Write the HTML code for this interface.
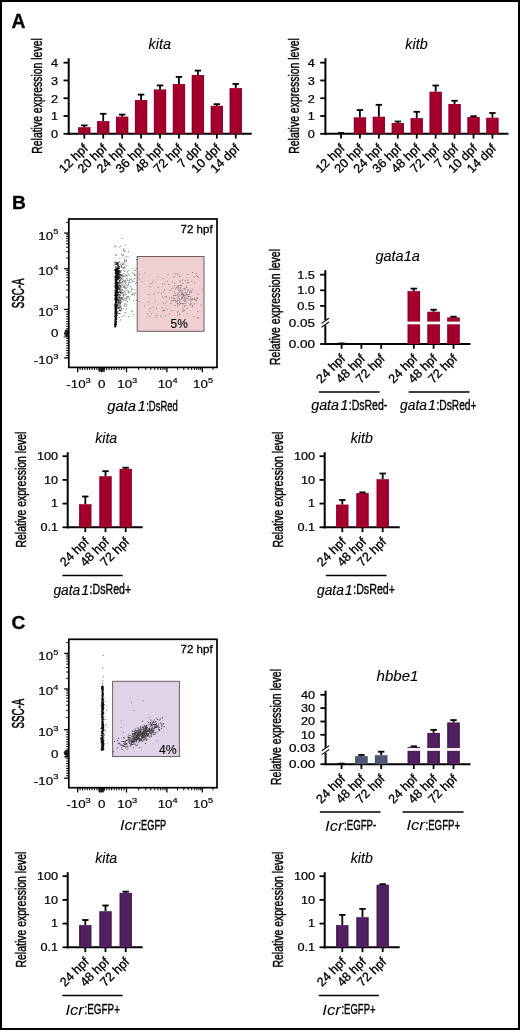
<!DOCTYPE html>
<html><head><meta charset="utf-8"><style>
html,body{margin:0;padding:0;background:#fff;}
svg{display:block;will-change:transform;}
text{font-family:"Liberation Sans", sans-serif;fill:#000;}
</style></head><body>
<svg width="520" height="1030" viewBox="0 0 520 1030">
<rect x="0" y="0" width="520" height="1030" fill="#fff"/>
<text x="11.5" y="27.6" font-size="19.4" stroke="#000" stroke-width="0.3" font-weight="bold">A</text><text x="12" y="209" font-size="19.2" stroke="#000" stroke-width="0.3" font-weight="bold">B</text><text x="11.6" y="629.3" font-size="19.2" stroke="#000" stroke-width="0.3" font-weight="bold">C</text><line x1="68.7" y1="58.2" x2="68.7" y2="134.8" stroke="#000" stroke-width="2"/><line x1="67.7" y1="133.8" x2="251.7" y2="133.8" stroke="#000" stroke-width="2"/><line x1="63.5" y1="133.8" x2="68.7" y2="133.8" stroke="#000" stroke-width="1.8"/><text transform="translate(58.1 138.2) scale(1.2 1)" font-size="10.6" text-anchor="end" stroke="#000" stroke-width="0.22">0</text><line x1="63.5" y1="116.02" x2="68.7" y2="116.02" stroke="#000" stroke-width="1.8"/><text transform="translate(58.1 120.42) scale(1.2 1)" font-size="10.6" text-anchor="end" stroke="#000" stroke-width="0.22">1</text><line x1="63.5" y1="98.24" x2="68.7" y2="98.24" stroke="#000" stroke-width="1.8"/><text transform="translate(58.1 102.64) scale(1.2 1)" font-size="10.6" text-anchor="end" stroke="#000" stroke-width="0.22">2</text><line x1="63.5" y1="80.46" x2="68.7" y2="80.46" stroke="#000" stroke-width="1.8"/><text transform="translate(58.1 84.86) scale(1.2 1)" font-size="10.6" text-anchor="end" stroke="#000" stroke-width="0.22">3</text><line x1="63.5" y1="62.68" x2="68.7" y2="62.68" stroke="#000" stroke-width="1.8"/><text transform="translate(58.1 67.08) scale(1.2 1)" font-size="10.6" text-anchor="end" stroke="#000" stroke-width="0.22">4</text><line x1="84.3" y1="133.8" x2="84.3" y2="138.6" stroke="#000" stroke-width="1.8"/><line x1="103.23" y1="133.8" x2="103.23" y2="138.6" stroke="#000" stroke-width="1.8"/><line x1="122.16" y1="133.8" x2="122.16" y2="138.6" stroke="#000" stroke-width="1.8"/><line x1="141.09" y1="133.8" x2="141.09" y2="138.6" stroke="#000" stroke-width="1.8"/><line x1="160.02" y1="133.8" x2="160.02" y2="138.6" stroke="#000" stroke-width="1.8"/><line x1="178.95" y1="133.8" x2="178.95" y2="138.6" stroke="#000" stroke-width="1.8"/><line x1="197.88" y1="133.8" x2="197.88" y2="138.6" stroke="#000" stroke-width="1.8"/><line x1="216.81" y1="133.8" x2="216.81" y2="138.6" stroke="#000" stroke-width="1.8"/><line x1="235.74" y1="133.8" x2="235.74" y2="138.6" stroke="#000" stroke-width="1.8"/><rect x="78.1" y="127.2" width="12.4" height="6.6" fill="#a3002e"/><line x1="79.1" y1="127.7" x2="79.1" y2="133.8" stroke="#8c0024" stroke-width="0.9"/><line x1="89.5" y1="127.7" x2="89.5" y2="133.8" stroke="#8c0024" stroke-width="0.9"/><line x1="84.3" y1="127.2" x2="84.3" y2="125.4" stroke="#000" stroke-width="1.8"/><line x1="81.1" y1="125.4" x2="87.5" y2="125.4" stroke="#000" stroke-width="1.8"/><rect x="97.03" y="121.1" width="12.4" height="12.7" fill="#a3002e"/><line x1="98.03" y1="121.6" x2="98.03" y2="133.8" stroke="#8c0024" stroke-width="0.9"/><line x1="108.43" y1="121.6" x2="108.43" y2="133.8" stroke="#8c0024" stroke-width="0.9"/><line x1="103.23" y1="121.1" x2="103.23" y2="113.8" stroke="#000" stroke-width="1.8"/><line x1="100.03" y1="113.8" x2="106.43" y2="113.8" stroke="#000" stroke-width="1.8"/><rect x="115.96" y="116.6" width="12.4" height="17.2" fill="#a3002e"/><line x1="116.96" y1="117.1" x2="116.96" y2="133.8" stroke="#8c0024" stroke-width="0.9"/><line x1="127.36" y1="117.1" x2="127.36" y2="133.8" stroke="#8c0024" stroke-width="0.9"/><line x1="122.16" y1="116.6" x2="122.16" y2="114.6" stroke="#000" stroke-width="1.8"/><line x1="118.96" y1="114.6" x2="125.36" y2="114.6" stroke="#000" stroke-width="1.8"/><rect x="134.89" y="100" width="12.4" height="33.8" fill="#a3002e"/><line x1="135.89" y1="100.5" x2="135.89" y2="133.8" stroke="#8c0024" stroke-width="0.9"/><line x1="146.29" y1="100.5" x2="146.29" y2="133.8" stroke="#8c0024" stroke-width="0.9"/><line x1="141.09" y1="100" x2="141.09" y2="94.6" stroke="#000" stroke-width="1.8"/><line x1="137.89" y1="94.6" x2="144.29" y2="94.6" stroke="#000" stroke-width="1.8"/><rect x="153.82" y="89.4" width="12.4" height="44.4" fill="#a3002e"/><line x1="154.82" y1="89.9" x2="154.82" y2="133.8" stroke="#8c0024" stroke-width="0.9"/><line x1="165.22" y1="89.9" x2="165.22" y2="133.8" stroke="#8c0024" stroke-width="0.9"/><line x1="160.02" y1="89.4" x2="160.02" y2="85.4" stroke="#000" stroke-width="1.8"/><line x1="156.82" y1="85.4" x2="163.22" y2="85.4" stroke="#000" stroke-width="1.8"/><rect x="172.75" y="84" width="12.4" height="49.8" fill="#a3002e"/><line x1="173.75" y1="84.5" x2="173.75" y2="133.8" stroke="#8c0024" stroke-width="0.9"/><line x1="184.15" y1="84.5" x2="184.15" y2="133.8" stroke="#8c0024" stroke-width="0.9"/><line x1="178.95" y1="84" x2="178.95" y2="76.9" stroke="#000" stroke-width="1.8"/><line x1="175.75" y1="76.9" x2="182.15" y2="76.9" stroke="#000" stroke-width="1.8"/><rect x="191.68" y="75" width="12.4" height="58.8" fill="#a3002e"/><line x1="192.68" y1="75.5" x2="192.68" y2="133.8" stroke="#8c0024" stroke-width="0.9"/><line x1="203.08" y1="75.5" x2="203.08" y2="133.8" stroke="#8c0024" stroke-width="0.9"/><line x1="197.88" y1="75" x2="197.88" y2="70.6" stroke="#000" stroke-width="1.8"/><line x1="194.68" y1="70.6" x2="201.08" y2="70.6" stroke="#000" stroke-width="1.8"/><rect x="210.61" y="105.8" width="12.4" height="28" fill="#a3002e"/><line x1="211.61" y1="106.3" x2="211.61" y2="133.8" stroke="#8c0024" stroke-width="0.9"/><line x1="222.01" y1="106.3" x2="222.01" y2="133.8" stroke="#8c0024" stroke-width="0.9"/><line x1="216.81" y1="105.8" x2="216.81" y2="104.2" stroke="#000" stroke-width="1.8"/><line x1="213.61" y1="104.2" x2="220.01" y2="104.2" stroke="#000" stroke-width="1.8"/><rect x="229.54" y="88.1" width="12.4" height="45.7" fill="#a3002e"/><line x1="230.54" y1="88.6" x2="230.54" y2="133.8" stroke="#8c0024" stroke-width="0.9"/><line x1="240.94" y1="88.6" x2="240.94" y2="133.8" stroke="#8c0024" stroke-width="0.9"/><line x1="235.74" y1="88.1" x2="235.74" y2="84" stroke="#000" stroke-width="1.8"/><line x1="232.54" y1="84" x2="238.94" y2="84" stroke="#000" stroke-width="1.8"/><text transform="translate(88.7 149) rotate(-45)" font-size="12.6" stroke="#000" stroke-width="0.3" text-anchor="end">12 hpf</text><text transform="translate(107.63 149) rotate(-45)" font-size="12.6" stroke="#000" stroke-width="0.3" text-anchor="end">20 hpf</text><text transform="translate(126.56 149) rotate(-45)" font-size="12.6" stroke="#000" stroke-width="0.3" text-anchor="end">24 hpf</text><text transform="translate(145.49 149) rotate(-45)" font-size="12.6" stroke="#000" stroke-width="0.3" text-anchor="end">36 hpf</text><text transform="translate(164.42 149) rotate(-45)" font-size="12.6" stroke="#000" stroke-width="0.3" text-anchor="end">48 hpf</text><text transform="translate(183.35 149) rotate(-45)" font-size="12.6" stroke="#000" stroke-width="0.3" text-anchor="end">72 hpf</text><text transform="translate(202.28 149) rotate(-45)" font-size="12.6" stroke="#000" stroke-width="0.3" text-anchor="end">7 dpf</text><text transform="translate(221.21 149) rotate(-45)" font-size="12.6" stroke="#000" stroke-width="0.3" text-anchor="end">10 dpf</text><text transform="translate(240.14 149) rotate(-45)" font-size="12.6" stroke="#000" stroke-width="0.3" text-anchor="end">14 dpf</text><text x="148.6" y="48.7" font-size="14.4" stroke="#000" stroke-width="0.1" font-style="italic" textLength="22.4" lengthAdjust="spacingAndGlyphs">kita</text><text transform="translate(42.2 153.8) rotate(-90)" font-size="14.2" stroke="#000" stroke-width="0.42" textLength="115.6" lengthAdjust="spacingAndGlyphs">Relative expression level</text><line x1="325.4" y1="58.2" x2="325.4" y2="134.8" stroke="#000" stroke-width="2"/><line x1="324.4" y1="133.8" x2="508.4" y2="133.8" stroke="#000" stroke-width="2"/><line x1="320.2" y1="133.8" x2="325.4" y2="133.8" stroke="#000" stroke-width="1.8"/><text transform="translate(314.8 138.2) scale(1.2 1)" font-size="10.6" text-anchor="end" stroke="#000" stroke-width="0.22">0</text><line x1="320.2" y1="116.02" x2="325.4" y2="116.02" stroke="#000" stroke-width="1.8"/><text transform="translate(314.8 120.42) scale(1.2 1)" font-size="10.6" text-anchor="end" stroke="#000" stroke-width="0.22">1</text><line x1="320.2" y1="98.24" x2="325.4" y2="98.24" stroke="#000" stroke-width="1.8"/><text transform="translate(314.8 102.64) scale(1.2 1)" font-size="10.6" text-anchor="end" stroke="#000" stroke-width="0.22">2</text><line x1="320.2" y1="80.46" x2="325.4" y2="80.46" stroke="#000" stroke-width="1.8"/><text transform="translate(314.8 84.86) scale(1.2 1)" font-size="10.6" text-anchor="end" stroke="#000" stroke-width="0.22">3</text><line x1="320.2" y1="62.68" x2="325.4" y2="62.68" stroke="#000" stroke-width="1.8"/><text transform="translate(314.8 67.08) scale(1.2 1)" font-size="10.6" text-anchor="end" stroke="#000" stroke-width="0.22">4</text><line x1="341" y1="133.8" x2="341" y2="138.6" stroke="#000" stroke-width="1.8"/><line x1="359.93" y1="133.8" x2="359.93" y2="138.6" stroke="#000" stroke-width="1.8"/><line x1="378.86" y1="133.8" x2="378.86" y2="138.6" stroke="#000" stroke-width="1.8"/><line x1="397.79" y1="133.8" x2="397.79" y2="138.6" stroke="#000" stroke-width="1.8"/><line x1="416.72" y1="133.8" x2="416.72" y2="138.6" stroke="#000" stroke-width="1.8"/><line x1="435.65" y1="133.8" x2="435.65" y2="138.6" stroke="#000" stroke-width="1.8"/><line x1="454.58" y1="133.8" x2="454.58" y2="138.6" stroke="#000" stroke-width="1.8"/><line x1="473.51" y1="133.8" x2="473.51" y2="138.6" stroke="#000" stroke-width="1.8"/><line x1="492.44" y1="133.8" x2="492.44" y2="138.6" stroke="#000" stroke-width="1.8"/><line x1="337.8" y1="133" x2="344.2" y2="133" stroke="#000" stroke-width="1.8"/><rect x="353.73" y="117.3" width="12.4" height="16.5" fill="#a3002e"/><line x1="354.73" y1="117.8" x2="354.73" y2="133.8" stroke="#8c0024" stroke-width="0.9"/><line x1="365.13" y1="117.8" x2="365.13" y2="133.8" stroke="#8c0024" stroke-width="0.9"/><line x1="359.93" y1="117.3" x2="359.93" y2="110" stroke="#000" stroke-width="1.8"/><line x1="356.73" y1="110" x2="363.13" y2="110" stroke="#000" stroke-width="1.8"/><rect x="372.66" y="116.7" width="12.4" height="17.1" fill="#a3002e"/><line x1="373.66" y1="117.2" x2="373.66" y2="133.8" stroke="#8c0024" stroke-width="0.9"/><line x1="384.06" y1="117.2" x2="384.06" y2="133.8" stroke="#8c0024" stroke-width="0.9"/><line x1="378.86" y1="116.7" x2="378.86" y2="104.8" stroke="#000" stroke-width="1.8"/><line x1="375.66" y1="104.8" x2="382.06" y2="104.8" stroke="#000" stroke-width="1.8"/><rect x="391.59" y="123" width="12.4" height="10.8" fill="#a3002e"/><line x1="392.59" y1="123.5" x2="392.59" y2="133.8" stroke="#8c0024" stroke-width="0.9"/><line x1="402.99" y1="123.5" x2="402.99" y2="133.8" stroke="#8c0024" stroke-width="0.9"/><line x1="397.79" y1="123" x2="397.79" y2="121.5" stroke="#000" stroke-width="1.8"/><line x1="394.59" y1="121.5" x2="400.99" y2="121.5" stroke="#000" stroke-width="1.8"/><rect x="410.52" y="118.1" width="12.4" height="15.7" fill="#a3002e"/><line x1="411.52" y1="118.6" x2="411.52" y2="133.8" stroke="#8c0024" stroke-width="0.9"/><line x1="421.92" y1="118.6" x2="421.92" y2="133.8" stroke="#8c0024" stroke-width="0.9"/><line x1="416.72" y1="118.1" x2="416.72" y2="111.8" stroke="#000" stroke-width="1.8"/><line x1="413.52" y1="111.8" x2="419.92" y2="111.8" stroke="#000" stroke-width="1.8"/><rect x="429.45" y="91.7" width="12.4" height="42.1" fill="#a3002e"/><line x1="430.45" y1="92.2" x2="430.45" y2="133.8" stroke="#8c0024" stroke-width="0.9"/><line x1="440.85" y1="92.2" x2="440.85" y2="133.8" stroke="#8c0024" stroke-width="0.9"/><line x1="435.65" y1="91.7" x2="435.65" y2="85.5" stroke="#000" stroke-width="1.8"/><line x1="432.45" y1="85.5" x2="438.85" y2="85.5" stroke="#000" stroke-width="1.8"/><rect x="448.38" y="104" width="12.4" height="29.8" fill="#a3002e"/><line x1="449.38" y1="104.5" x2="449.38" y2="133.8" stroke="#8c0024" stroke-width="0.9"/><line x1="459.78" y1="104.5" x2="459.78" y2="133.8" stroke="#8c0024" stroke-width="0.9"/><line x1="454.58" y1="104" x2="454.58" y2="100.8" stroke="#000" stroke-width="1.8"/><line x1="451.38" y1="100.8" x2="457.78" y2="100.8" stroke="#000" stroke-width="1.8"/><rect x="467.31" y="117" width="12.4" height="16.8" fill="#a3002e"/><line x1="468.31" y1="117.5" x2="468.31" y2="133.8" stroke="#8c0024" stroke-width="0.9"/><line x1="478.71" y1="117.5" x2="478.71" y2="133.8" stroke="#8c0024" stroke-width="0.9"/><line x1="473.51" y1="117" x2="473.51" y2="116.2" stroke="#000" stroke-width="1.8"/><line x1="470.31" y1="116.2" x2="476.71" y2="116.2" stroke="#000" stroke-width="1.8"/><rect x="486.24" y="117.7" width="12.4" height="16.1" fill="#a3002e"/><line x1="487.24" y1="118.2" x2="487.24" y2="133.8" stroke="#8c0024" stroke-width="0.9"/><line x1="497.64" y1="118.2" x2="497.64" y2="133.8" stroke="#8c0024" stroke-width="0.9"/><line x1="492.44" y1="117.7" x2="492.44" y2="113" stroke="#000" stroke-width="1.8"/><line x1="489.24" y1="113" x2="495.64" y2="113" stroke="#000" stroke-width="1.8"/><text transform="translate(345.4 149) rotate(-45)" font-size="12.6" stroke="#000" stroke-width="0.3" text-anchor="end">12 hpf</text><text transform="translate(364.33 149) rotate(-45)" font-size="12.6" stroke="#000" stroke-width="0.3" text-anchor="end">20 hpf</text><text transform="translate(383.26 149) rotate(-45)" font-size="12.6" stroke="#000" stroke-width="0.3" text-anchor="end">24 hpf</text><text transform="translate(402.19 149) rotate(-45)" font-size="12.6" stroke="#000" stroke-width="0.3" text-anchor="end">36 hpf</text><text transform="translate(421.12 149) rotate(-45)" font-size="12.6" stroke="#000" stroke-width="0.3" text-anchor="end">48 hpf</text><text transform="translate(440.05 149) rotate(-45)" font-size="12.6" stroke="#000" stroke-width="0.3" text-anchor="end">72 hpf</text><text transform="translate(458.98 149) rotate(-45)" font-size="12.6" stroke="#000" stroke-width="0.3" text-anchor="end">7 dpf</text><text transform="translate(477.91 149) rotate(-45)" font-size="12.6" stroke="#000" stroke-width="0.3" text-anchor="end">10 dpf</text><text transform="translate(496.84 149) rotate(-45)" font-size="12.6" stroke="#000" stroke-width="0.3" text-anchor="end">14 dpf</text><text x="405.3" y="48.7" font-size="14.4" stroke="#000" stroke-width="0.1" font-style="italic" textLength="22.4" lengthAdjust="spacingAndGlyphs">kitb</text><text transform="translate(299.3 153.8) rotate(-90)" font-size="14.2" stroke="#000" stroke-width="0.42" textLength="115.6" lengthAdjust="spacingAndGlyphs">Relative expression level</text><rect x="68.8" y="219" width="148.2" height="148.4" fill="none" stroke="#000" stroke-width="1.7"/><line x1="64.2" y1="357.9" x2="68.8" y2="357.9" stroke="#000" stroke-width="1.3"/><line x1="64.2" y1="333.5" x2="68.8" y2="333.5" stroke="#000" stroke-width="1.3"/><line x1="64.2" y1="309.4" x2="68.8" y2="309.4" stroke="#000" stroke-width="1.3"/><line x1="64.2" y1="268.7" x2="68.8" y2="268.7" stroke="#000" stroke-width="1.3"/><line x1="64.2" y1="233.1" x2="68.8" y2="233.1" stroke="#000" stroke-width="1.3"/><line x1="66.2" y1="331.09" x2="68.8" y2="331.09" stroke="#000" stroke-width="1"/><line x1="66.2" y1="335.94" x2="68.8" y2="335.94" stroke="#000" stroke-width="1"/><line x1="66.2" y1="328.68" x2="68.8" y2="328.68" stroke="#000" stroke-width="1"/><line x1="66.2" y1="338.38" x2="68.8" y2="338.38" stroke="#000" stroke-width="1"/><line x1="66.2" y1="326.27" x2="68.8" y2="326.27" stroke="#000" stroke-width="1"/><line x1="66.2" y1="340.82" x2="68.8" y2="340.82" stroke="#000" stroke-width="1"/><line x1="66.2" y1="323.86" x2="68.8" y2="323.86" stroke="#000" stroke-width="1"/><line x1="66.2" y1="343.26" x2="68.8" y2="343.26" stroke="#000" stroke-width="1"/><line x1="66.2" y1="321.45" x2="68.8" y2="321.45" stroke="#000" stroke-width="1"/><line x1="66.2" y1="345.7" x2="68.8" y2="345.7" stroke="#000" stroke-width="1"/><line x1="66.2" y1="319.04" x2="68.8" y2="319.04" stroke="#000" stroke-width="1"/><line x1="66.2" y1="348.14" x2="68.8" y2="348.14" stroke="#000" stroke-width="1"/><line x1="66.2" y1="316.63" x2="68.8" y2="316.63" stroke="#000" stroke-width="1"/><line x1="66.2" y1="350.58" x2="68.8" y2="350.58" stroke="#000" stroke-width="1"/><line x1="66.2" y1="314.22" x2="68.8" y2="314.22" stroke="#000" stroke-width="1"/><line x1="66.2" y1="353.02" x2="68.8" y2="353.02" stroke="#000" stroke-width="1"/><line x1="66.2" y1="311.81" x2="68.8" y2="311.81" stroke="#000" stroke-width="1"/><line x1="66.2" y1="355.46" x2="68.8" y2="355.46" stroke="#000" stroke-width="1"/><line x1="66.2" y1="297.15" x2="68.8" y2="297.15" stroke="#000" stroke-width="1"/><line x1="66.2" y1="257.98" x2="68.8" y2="257.98" stroke="#000" stroke-width="1"/><line x1="66.2" y1="289.98" x2="68.8" y2="289.98" stroke="#000" stroke-width="1"/><line x1="66.2" y1="251.71" x2="68.8" y2="251.71" stroke="#000" stroke-width="1"/><line x1="66.2" y1="284.9" x2="68.8" y2="284.9" stroke="#000" stroke-width="1"/><line x1="66.2" y1="247.27" x2="68.8" y2="247.27" stroke="#000" stroke-width="1"/><line x1="66.2" y1="280.95" x2="68.8" y2="280.95" stroke="#000" stroke-width="1"/><line x1="66.2" y1="243.82" x2="68.8" y2="243.82" stroke="#000" stroke-width="1"/><line x1="66.2" y1="277.73" x2="68.8" y2="277.73" stroke="#000" stroke-width="1"/><line x1="66.2" y1="241" x2="68.8" y2="241" stroke="#000" stroke-width="1"/><line x1="66.2" y1="275" x2="68.8" y2="275" stroke="#000" stroke-width="1"/><line x1="66.2" y1="238.61" x2="68.8" y2="238.61" stroke="#000" stroke-width="1"/><line x1="66.2" y1="272.64" x2="68.8" y2="272.64" stroke="#000" stroke-width="1"/><line x1="66.2" y1="236.55" x2="68.8" y2="236.55" stroke="#000" stroke-width="1"/><line x1="66.2" y1="270.56" x2="68.8" y2="270.56" stroke="#000" stroke-width="1"/><line x1="66.2" y1="234.73" x2="68.8" y2="234.73" stroke="#000" stroke-width="1"/><line x1="66.2" y1="222.38" x2="68.8" y2="222.38" stroke="#000" stroke-width="1"/><line x1="77.7" y1="367.4" x2="77.7" y2="372.2" stroke="#000" stroke-width="1.3"/><line x1="101.7" y1="367.4" x2="101.7" y2="372.2" stroke="#000" stroke-width="1.3"/><line x1="126.5" y1="367.4" x2="126.5" y2="372.2" stroke="#000" stroke-width="1.3"/><line x1="166.9" y1="367.4" x2="166.9" y2="372.2" stroke="#000" stroke-width="1.3"/><line x1="202.3" y1="367.4" x2="202.3" y2="372.2" stroke="#000" stroke-width="1.3"/><line x1="104.18" y1="367.4" x2="104.18" y2="370" stroke="#000" stroke-width="1"/><line x1="99.3" y1="367.4" x2="99.3" y2="370" stroke="#000" stroke-width="1"/><line x1="106.66" y1="367.4" x2="106.66" y2="370" stroke="#000" stroke-width="1"/><line x1="96.9" y1="367.4" x2="96.9" y2="370" stroke="#000" stroke-width="1"/><line x1="109.14" y1="367.4" x2="109.14" y2="370" stroke="#000" stroke-width="1"/><line x1="94.5" y1="367.4" x2="94.5" y2="370" stroke="#000" stroke-width="1"/><line x1="111.62" y1="367.4" x2="111.62" y2="370" stroke="#000" stroke-width="1"/><line x1="92.1" y1="367.4" x2="92.1" y2="370" stroke="#000" stroke-width="1"/><line x1="114.1" y1="367.4" x2="114.1" y2="370" stroke="#000" stroke-width="1"/><line x1="89.7" y1="367.4" x2="89.7" y2="370" stroke="#000" stroke-width="1"/><line x1="116.58" y1="367.4" x2="116.58" y2="370" stroke="#000" stroke-width="1"/><line x1="87.3" y1="367.4" x2="87.3" y2="370" stroke="#000" stroke-width="1"/><line x1="119.06" y1="367.4" x2="119.06" y2="370" stroke="#000" stroke-width="1"/><line x1="84.9" y1="367.4" x2="84.9" y2="370" stroke="#000" stroke-width="1"/><line x1="121.54" y1="367.4" x2="121.54" y2="370" stroke="#000" stroke-width="1"/><line x1="82.5" y1="367.4" x2="82.5" y2="370" stroke="#000" stroke-width="1"/><line x1="124.02" y1="367.4" x2="124.02" y2="370" stroke="#000" stroke-width="1"/><line x1="80.1" y1="367.4" x2="80.1" y2="370" stroke="#000" stroke-width="1"/><line x1="138.66" y1="367.4" x2="138.66" y2="370" stroke="#000" stroke-width="1"/><line x1="177.56" y1="367.4" x2="177.56" y2="370" stroke="#000" stroke-width="1"/><line x1="145.78" y1="367.4" x2="145.78" y2="370" stroke="#000" stroke-width="1"/><line x1="183.79" y1="367.4" x2="183.79" y2="370" stroke="#000" stroke-width="1"/><line x1="150.82" y1="367.4" x2="150.82" y2="370" stroke="#000" stroke-width="1"/><line x1="188.21" y1="367.4" x2="188.21" y2="370" stroke="#000" stroke-width="1"/><line x1="154.74" y1="367.4" x2="154.74" y2="370" stroke="#000" stroke-width="1"/><line x1="191.64" y1="367.4" x2="191.64" y2="370" stroke="#000" stroke-width="1"/><line x1="157.94" y1="367.4" x2="157.94" y2="370" stroke="#000" stroke-width="1"/><line x1="194.45" y1="367.4" x2="194.45" y2="370" stroke="#000" stroke-width="1"/><line x1="160.64" y1="367.4" x2="160.64" y2="370" stroke="#000" stroke-width="1"/><line x1="196.82" y1="367.4" x2="196.82" y2="370" stroke="#000" stroke-width="1"/><line x1="162.98" y1="367.4" x2="162.98" y2="370" stroke="#000" stroke-width="1"/><line x1="198.87" y1="367.4" x2="198.87" y2="370" stroke="#000" stroke-width="1"/><line x1="165.05" y1="367.4" x2="165.05" y2="370" stroke="#000" stroke-width="1"/><line x1="200.68" y1="367.4" x2="200.68" y2="370" stroke="#000" stroke-width="1"/><line x1="212.96" y1="367.4" x2="212.96" y2="370" stroke="#000" stroke-width="1"/><line x1="65.28" y1="330.1" x2="68.8" y2="330.1" stroke="#000" stroke-width="0.8"/><line x1="64.6" y1="330.78" x2="68.8" y2="330.78" stroke="#000" stroke-width="0.8"/><line x1="64.99" y1="331.46" x2="68.8" y2="331.46" stroke="#000" stroke-width="0.8"/><line x1="64.47" y1="332.14" x2="68.8" y2="332.14" stroke="#000" stroke-width="0.8"/><line x1="64.42" y1="332.82" x2="68.8" y2="332.82" stroke="#000" stroke-width="0.8"/><line x1="65.66" y1="333.5" x2="68.8" y2="333.5" stroke="#000" stroke-width="0.8"/><line x1="65.77" y1="334.18" x2="68.8" y2="334.18" stroke="#000" stroke-width="0.8"/><line x1="63.96" y1="334.86" x2="68.8" y2="334.86" stroke="#000" stroke-width="0.8"/><line x1="65.23" y1="335.54" x2="68.8" y2="335.54" stroke="#000" stroke-width="0.8"/><line x1="65.28" y1="336.22" x2="68.8" y2="336.22" stroke="#000" stroke-width="0.8"/><line x1="63.61" y1="336.9" x2="68.8" y2="336.9" stroke="#000" stroke-width="0.8"/><line x1="98.9" y1="367.4" x2="98.9" y2="371.34" stroke="#000" stroke-width="0.8"/><line x1="99.58" y1="367.4" x2="99.58" y2="372.07" stroke="#000" stroke-width="0.8"/><line x1="100.26" y1="367.4" x2="100.26" y2="371.35" stroke="#000" stroke-width="0.8"/><line x1="100.94" y1="367.4" x2="100.94" y2="371.68" stroke="#000" stroke-width="0.8"/><line x1="101.62" y1="367.4" x2="101.62" y2="370.7" stroke="#000" stroke-width="0.8"/><line x1="102.3" y1="367.4" x2="102.3" y2="371.67" stroke="#000" stroke-width="0.8"/><line x1="102.98" y1="367.4" x2="102.98" y2="372.14" stroke="#000" stroke-width="0.8"/><line x1="103.66" y1="367.4" x2="103.66" y2="371.45" stroke="#000" stroke-width="0.8"/><line x1="104.34" y1="367.4" x2="104.34" y2="371.88" stroke="#000" stroke-width="0.8"/><text transform="translate(58.3 239.5) scale(1.16 1)" font-size="11.5" text-anchor="end" stroke="#000" stroke-width="0.18">10<tspan font-size="8" dy="-5.3">5</tspan></text><text transform="translate(58.3 275) scale(1.16 1)" font-size="11.5" text-anchor="end" stroke="#000" stroke-width="0.18">10<tspan font-size="8" dy="-5.3">4</tspan></text><text transform="translate(58.3 315.7) scale(1.16 1)" font-size="11.5" text-anchor="end" stroke="#000" stroke-width="0.18">10<tspan font-size="8" dy="-5.3">3</tspan></text><text transform="translate(58.3 337.2) scale(1.16 1)" font-size="11.5" text-anchor="end" stroke="#000" stroke-width="0.18">0</text><text transform="translate(58.3 364.2) scale(1.16 1)" font-size="11.5" text-anchor="end" stroke="#000" stroke-width="0.18">-10<tspan font-size="8" dy="-5.3">3</tspan></text><text transform="translate(78.5 388) scale(1.16 1)" font-size="11.5" text-anchor="middle" stroke="#000" stroke-width="0.18">-10<tspan font-size="8" dy="-5.3">3</tspan></text><text transform="translate(127.3 388) scale(1.16 1)" font-size="11.5" text-anchor="middle" stroke="#000" stroke-width="0.18">10<tspan font-size="8" dy="-5.3">3</tspan></text><text transform="translate(167.7 388) scale(1.16 1)" font-size="11.5" text-anchor="middle" stroke="#000" stroke-width="0.18">10<tspan font-size="8" dy="-5.3">4</tspan></text><text transform="translate(203.1 388) scale(1.16 1)" font-size="11.5" text-anchor="middle" stroke="#000" stroke-width="0.18">10<tspan font-size="8" dy="-5.3">5</tspan></text><text transform="translate(101.8 388) scale(1.16 1)" font-size="11.5" text-anchor="middle" stroke="#000" stroke-width="0.18">0</text><text transform="translate(24.4 308.2) rotate(-90)" font-size="15.6" stroke="#000" stroke-width="0.55" textLength="29.8" lengthAdjust="spacingAndGlyphs">SSC-A</text><text x="180.6" y="232.6" font-size="11.4" stroke="#000" stroke-width="0.3" textLength="32" lengthAdjust="spacingAndGlyphs">72 hpf</text><rect x="137.2" y="256.5" width="66.8" height="74.8" fill="#eed0d3" stroke="#6a6060" stroke-width="1"/><rect x="68.8" y="639.3" width="148.2" height="148.4" fill="none" stroke="#000" stroke-width="1.7"/><line x1="64.2" y1="778.2" x2="68.8" y2="778.2" stroke="#000" stroke-width="1.3"/><line x1="64.2" y1="753.8" x2="68.8" y2="753.8" stroke="#000" stroke-width="1.3"/><line x1="64.2" y1="729.7" x2="68.8" y2="729.7" stroke="#000" stroke-width="1.3"/><line x1="64.2" y1="689" x2="68.8" y2="689" stroke="#000" stroke-width="1.3"/><line x1="64.2" y1="653.4" x2="68.8" y2="653.4" stroke="#000" stroke-width="1.3"/><line x1="66.2" y1="751.39" x2="68.8" y2="751.39" stroke="#000" stroke-width="1"/><line x1="66.2" y1="756.24" x2="68.8" y2="756.24" stroke="#000" stroke-width="1"/><line x1="66.2" y1="748.98" x2="68.8" y2="748.98" stroke="#000" stroke-width="1"/><line x1="66.2" y1="758.68" x2="68.8" y2="758.68" stroke="#000" stroke-width="1"/><line x1="66.2" y1="746.57" x2="68.8" y2="746.57" stroke="#000" stroke-width="1"/><line x1="66.2" y1="761.12" x2="68.8" y2="761.12" stroke="#000" stroke-width="1"/><line x1="66.2" y1="744.16" x2="68.8" y2="744.16" stroke="#000" stroke-width="1"/><line x1="66.2" y1="763.56" x2="68.8" y2="763.56" stroke="#000" stroke-width="1"/><line x1="66.2" y1="741.75" x2="68.8" y2="741.75" stroke="#000" stroke-width="1"/><line x1="66.2" y1="766" x2="68.8" y2="766" stroke="#000" stroke-width="1"/><line x1="66.2" y1="739.34" x2="68.8" y2="739.34" stroke="#000" stroke-width="1"/><line x1="66.2" y1="768.44" x2="68.8" y2="768.44" stroke="#000" stroke-width="1"/><line x1="66.2" y1="736.93" x2="68.8" y2="736.93" stroke="#000" stroke-width="1"/><line x1="66.2" y1="770.88" x2="68.8" y2="770.88" stroke="#000" stroke-width="1"/><line x1="66.2" y1="734.52" x2="68.8" y2="734.52" stroke="#000" stroke-width="1"/><line x1="66.2" y1="773.32" x2="68.8" y2="773.32" stroke="#000" stroke-width="1"/><line x1="66.2" y1="732.11" x2="68.8" y2="732.11" stroke="#000" stroke-width="1"/><line x1="66.2" y1="775.76" x2="68.8" y2="775.76" stroke="#000" stroke-width="1"/><line x1="66.2" y1="717.45" x2="68.8" y2="717.45" stroke="#000" stroke-width="1"/><line x1="66.2" y1="678.28" x2="68.8" y2="678.28" stroke="#000" stroke-width="1"/><line x1="66.2" y1="710.28" x2="68.8" y2="710.28" stroke="#000" stroke-width="1"/><line x1="66.2" y1="672.01" x2="68.8" y2="672.01" stroke="#000" stroke-width="1"/><line x1="66.2" y1="705.2" x2="68.8" y2="705.2" stroke="#000" stroke-width="1"/><line x1="66.2" y1="667.57" x2="68.8" y2="667.57" stroke="#000" stroke-width="1"/><line x1="66.2" y1="701.25" x2="68.8" y2="701.25" stroke="#000" stroke-width="1"/><line x1="66.2" y1="664.12" x2="68.8" y2="664.12" stroke="#000" stroke-width="1"/><line x1="66.2" y1="698.03" x2="68.8" y2="698.03" stroke="#000" stroke-width="1"/><line x1="66.2" y1="661.3" x2="68.8" y2="661.3" stroke="#000" stroke-width="1"/><line x1="66.2" y1="695.3" x2="68.8" y2="695.3" stroke="#000" stroke-width="1"/><line x1="66.2" y1="658.91" x2="68.8" y2="658.91" stroke="#000" stroke-width="1"/><line x1="66.2" y1="692.94" x2="68.8" y2="692.94" stroke="#000" stroke-width="1"/><line x1="66.2" y1="656.85" x2="68.8" y2="656.85" stroke="#000" stroke-width="1"/><line x1="66.2" y1="690.86" x2="68.8" y2="690.86" stroke="#000" stroke-width="1"/><line x1="66.2" y1="655.03" x2="68.8" y2="655.03" stroke="#000" stroke-width="1"/><line x1="66.2" y1="642.68" x2="68.8" y2="642.68" stroke="#000" stroke-width="1"/><line x1="77.7" y1="787.7" x2="77.7" y2="792.5" stroke="#000" stroke-width="1.3"/><line x1="101.7" y1="787.7" x2="101.7" y2="792.5" stroke="#000" stroke-width="1.3"/><line x1="126.5" y1="787.7" x2="126.5" y2="792.5" stroke="#000" stroke-width="1.3"/><line x1="166.9" y1="787.7" x2="166.9" y2="792.5" stroke="#000" stroke-width="1.3"/><line x1="202.3" y1="787.7" x2="202.3" y2="792.5" stroke="#000" stroke-width="1.3"/><line x1="104.18" y1="787.7" x2="104.18" y2="790.3" stroke="#000" stroke-width="1"/><line x1="99.3" y1="787.7" x2="99.3" y2="790.3" stroke="#000" stroke-width="1"/><line x1="106.66" y1="787.7" x2="106.66" y2="790.3" stroke="#000" stroke-width="1"/><line x1="96.9" y1="787.7" x2="96.9" y2="790.3" stroke="#000" stroke-width="1"/><line x1="109.14" y1="787.7" x2="109.14" y2="790.3" stroke="#000" stroke-width="1"/><line x1="94.5" y1="787.7" x2="94.5" y2="790.3" stroke="#000" stroke-width="1"/><line x1="111.62" y1="787.7" x2="111.62" y2="790.3" stroke="#000" stroke-width="1"/><line x1="92.1" y1="787.7" x2="92.1" y2="790.3" stroke="#000" stroke-width="1"/><line x1="114.1" y1="787.7" x2="114.1" y2="790.3" stroke="#000" stroke-width="1"/><line x1="89.7" y1="787.7" x2="89.7" y2="790.3" stroke="#000" stroke-width="1"/><line x1="116.58" y1="787.7" x2="116.58" y2="790.3" stroke="#000" stroke-width="1"/><line x1="87.3" y1="787.7" x2="87.3" y2="790.3" stroke="#000" stroke-width="1"/><line x1="119.06" y1="787.7" x2="119.06" y2="790.3" stroke="#000" stroke-width="1"/><line x1="84.9" y1="787.7" x2="84.9" y2="790.3" stroke="#000" stroke-width="1"/><line x1="121.54" y1="787.7" x2="121.54" y2="790.3" stroke="#000" stroke-width="1"/><line x1="82.5" y1="787.7" x2="82.5" y2="790.3" stroke="#000" stroke-width="1"/><line x1="124.02" y1="787.7" x2="124.02" y2="790.3" stroke="#000" stroke-width="1"/><line x1="80.1" y1="787.7" x2="80.1" y2="790.3" stroke="#000" stroke-width="1"/><line x1="138.66" y1="787.7" x2="138.66" y2="790.3" stroke="#000" stroke-width="1"/><line x1="177.56" y1="787.7" x2="177.56" y2="790.3" stroke="#000" stroke-width="1"/><line x1="145.78" y1="787.7" x2="145.78" y2="790.3" stroke="#000" stroke-width="1"/><line x1="183.79" y1="787.7" x2="183.79" y2="790.3" stroke="#000" stroke-width="1"/><line x1="150.82" y1="787.7" x2="150.82" y2="790.3" stroke="#000" stroke-width="1"/><line x1="188.21" y1="787.7" x2="188.21" y2="790.3" stroke="#000" stroke-width="1"/><line x1="154.74" y1="787.7" x2="154.74" y2="790.3" stroke="#000" stroke-width="1"/><line x1="191.64" y1="787.7" x2="191.64" y2="790.3" stroke="#000" stroke-width="1"/><line x1="157.94" y1="787.7" x2="157.94" y2="790.3" stroke="#000" stroke-width="1"/><line x1="194.45" y1="787.7" x2="194.45" y2="790.3" stroke="#000" stroke-width="1"/><line x1="160.64" y1="787.7" x2="160.64" y2="790.3" stroke="#000" stroke-width="1"/><line x1="196.82" y1="787.7" x2="196.82" y2="790.3" stroke="#000" stroke-width="1"/><line x1="162.98" y1="787.7" x2="162.98" y2="790.3" stroke="#000" stroke-width="1"/><line x1="198.87" y1="787.7" x2="198.87" y2="790.3" stroke="#000" stroke-width="1"/><line x1="165.05" y1="787.7" x2="165.05" y2="790.3" stroke="#000" stroke-width="1"/><line x1="200.68" y1="787.7" x2="200.68" y2="790.3" stroke="#000" stroke-width="1"/><line x1="212.96" y1="787.7" x2="212.96" y2="790.3" stroke="#000" stroke-width="1"/><line x1="65.09" y1="750.4" x2="68.8" y2="750.4" stroke="#000" stroke-width="0.8"/><line x1="64.61" y1="751.08" x2="68.8" y2="751.08" stroke="#000" stroke-width="0.8"/><line x1="64.12" y1="751.76" x2="68.8" y2="751.76" stroke="#000" stroke-width="0.8"/><line x1="63.78" y1="752.44" x2="68.8" y2="752.44" stroke="#000" stroke-width="0.8"/><line x1="64.24" y1="753.12" x2="68.8" y2="753.12" stroke="#000" stroke-width="0.8"/><line x1="63.75" y1="753.8" x2="68.8" y2="753.8" stroke="#000" stroke-width="0.8"/><line x1="64.85" y1="754.48" x2="68.8" y2="754.48" stroke="#000" stroke-width="0.8"/><line x1="65.1" y1="755.16" x2="68.8" y2="755.16" stroke="#000" stroke-width="0.8"/><line x1="65.31" y1="755.84" x2="68.8" y2="755.84" stroke="#000" stroke-width="0.8"/><line x1="64.48" y1="756.52" x2="68.8" y2="756.52" stroke="#000" stroke-width="0.8"/><line x1="64.27" y1="757.2" x2="68.8" y2="757.2" stroke="#000" stroke-width="0.8"/><line x1="98.9" y1="787.7" x2="98.9" y2="792.09" stroke="#000" stroke-width="0.8"/><line x1="99.58" y1="787.7" x2="99.58" y2="792.53" stroke="#000" stroke-width="0.8"/><line x1="100.26" y1="787.7" x2="100.26" y2="792.35" stroke="#000" stroke-width="0.8"/><line x1="100.94" y1="787.7" x2="100.94" y2="792.46" stroke="#000" stroke-width="0.8"/><line x1="101.62" y1="787.7" x2="101.62" y2="790.89" stroke="#000" stroke-width="0.8"/><line x1="102.3" y1="787.7" x2="102.3" y2="791.84" stroke="#000" stroke-width="0.8"/><line x1="102.98" y1="787.7" x2="102.98" y2="791.98" stroke="#000" stroke-width="0.8"/><line x1="103.66" y1="787.7" x2="103.66" y2="792.56" stroke="#000" stroke-width="0.8"/><line x1="104.34" y1="787.7" x2="104.34" y2="790.91" stroke="#000" stroke-width="0.8"/><text transform="translate(58.3 659.8) scale(1.16 1)" font-size="11.5" text-anchor="end" stroke="#000" stroke-width="0.18">10<tspan font-size="8" dy="-5.3">5</tspan></text><text transform="translate(58.3 695.3) scale(1.16 1)" font-size="11.5" text-anchor="end" stroke="#000" stroke-width="0.18">10<tspan font-size="8" dy="-5.3">4</tspan></text><text transform="translate(58.3 736) scale(1.16 1)" font-size="11.5" text-anchor="end" stroke="#000" stroke-width="0.18">10<tspan font-size="8" dy="-5.3">3</tspan></text><text transform="translate(58.3 757.5) scale(1.16 1)" font-size="11.5" text-anchor="end" stroke="#000" stroke-width="0.18">0</text><text transform="translate(58.3 784.5) scale(1.16 1)" font-size="11.5" text-anchor="end" stroke="#000" stroke-width="0.18">-10<tspan font-size="8" dy="-5.3">3</tspan></text><text transform="translate(78.5 808.3) scale(1.16 1)" font-size="11.5" text-anchor="middle" stroke="#000" stroke-width="0.18">-10<tspan font-size="8" dy="-5.3">3</tspan></text><text transform="translate(127.3 808.3) scale(1.16 1)" font-size="11.5" text-anchor="middle" stroke="#000" stroke-width="0.18">10<tspan font-size="8" dy="-5.3">3</tspan></text><text transform="translate(167.7 808.3) scale(1.16 1)" font-size="11.5" text-anchor="middle" stroke="#000" stroke-width="0.18">10<tspan font-size="8" dy="-5.3">4</tspan></text><text transform="translate(203.1 808.3) scale(1.16 1)" font-size="11.5" text-anchor="middle" stroke="#000" stroke-width="0.18">10<tspan font-size="8" dy="-5.3">5</tspan></text><text transform="translate(101.8 808.3) scale(1.16 1)" font-size="11.5" text-anchor="middle" stroke="#000" stroke-width="0.18">0</text><text transform="translate(24.4 728.5) rotate(-90)" font-size="15.6" stroke="#000" stroke-width="0.55" textLength="29.8" lengthAdjust="spacingAndGlyphs">SSC-A</text><text x="180.6" y="652.9" font-size="11.4" stroke="#000" stroke-width="0.3" textLength="32" lengthAdjust="spacingAndGlyphs">72 hpf</text><rect x="112.6" y="681.3" width="66.8" height="75.2" fill="#dfd3e7" stroke="#6a6060" stroke-width="1"/><line x1="325.3" y1="270.2" x2="325.3" y2="320.4" stroke="#000" stroke-width="2"/><line x1="325.3" y1="325.2" x2="325.3" y2="345" stroke="#000" stroke-width="2"/><line x1="321.5" y1="323.4" x2="328.9" y2="318.2" stroke="#000" stroke-width="1.1"/><line x1="321.5" y1="327.2" x2="328.9" y2="322" stroke="#000" stroke-width="1.1"/><line x1="324.3" y1="344" x2="470.5" y2="344" stroke="#000" stroke-width="2"/><line x1="320.1" y1="274.7" x2="325.3" y2="274.7" stroke="#000" stroke-width="1.8"/><text transform="translate(314.9 278.5) scale(1.2 1)" font-size="10.6" text-anchor="end" stroke="#000" stroke-width="0.22">1.5</text><line x1="320.1" y1="290.3" x2="325.3" y2="290.3" stroke="#000" stroke-width="1.8"/><text transform="translate(314.9 294.1) scale(1.2 1)" font-size="10.6" text-anchor="end" stroke="#000" stroke-width="0.22">1.0</text><line x1="320.1" y1="305.9" x2="325.3" y2="305.9" stroke="#000" stroke-width="1.8"/><text transform="translate(314.9 309.7) scale(1.2 1)" font-size="10.6" text-anchor="end" stroke="#000" stroke-width="0.22">0.5</text><line x1="320.1" y1="344" x2="325.3" y2="344" stroke="#000" stroke-width="1.8"/><text transform="translate(314.9 347.8) scale(1.27 1)" font-size="10.6" text-anchor="end" stroke="#000" stroke-width="0.22">0.00</text><text transform="translate(314.9 326.6) scale(1.27 1)" font-size="10.6" text-anchor="end" stroke="#000" stroke-width="0.22">0.05</text><line x1="341.6" y1="344" x2="341.6" y2="348.8" stroke="#000" stroke-width="1.8"/><line x1="338.4" y1="343.4" x2="344.8" y2="343.4" stroke="#000" stroke-width="1.8"/><line x1="361.4" y1="344" x2="361.4" y2="348.8" stroke="#000" stroke-width="1.8"/><line x1="381.2" y1="344" x2="381.2" y2="348.8" stroke="#000" stroke-width="1.8"/><line x1="413.8" y1="344" x2="413.8" y2="348.8" stroke="#000" stroke-width="1.8"/><rect x="407.5" y="291.1" width="12.6" height="52.9" fill="#a3002e"/><line x1="408.5" y1="291.6" x2="408.5" y2="344" stroke="#8c0024" stroke-width="0.9"/><line x1="419.1" y1="291.6" x2="419.1" y2="344" stroke="#8c0024" stroke-width="0.9"/><rect x="407" y="321.6" width="13.6" height="2.7" fill="#fff"/><line x1="413.8" y1="291.1" x2="413.8" y2="288.6" stroke="#000" stroke-width="1.8"/><line x1="410.6" y1="288.6" x2="417" y2="288.6" stroke="#000" stroke-width="1.8"/><line x1="433.6" y1="344" x2="433.6" y2="348.8" stroke="#000" stroke-width="1.8"/><rect x="427.3" y="311.7" width="12.6" height="32.3" fill="#a3002e"/><line x1="428.3" y1="312.2" x2="428.3" y2="344" stroke="#8c0024" stroke-width="0.9"/><line x1="438.9" y1="312.2" x2="438.9" y2="344" stroke="#8c0024" stroke-width="0.9"/><rect x="426.8" y="321.6" width="13.6" height="2.7" fill="#fff"/><line x1="433.6" y1="311.7" x2="433.6" y2="309.7" stroke="#000" stroke-width="1.8"/><line x1="430.4" y1="309.7" x2="436.8" y2="309.7" stroke="#000" stroke-width="1.8"/><line x1="453.5" y1="344" x2="453.5" y2="348.8" stroke="#000" stroke-width="1.8"/><rect x="447.2" y="317.4" width="12.6" height="26.6" fill="#a3002e"/><line x1="448.2" y1="317.9" x2="448.2" y2="344" stroke="#8c0024" stroke-width="0.9"/><line x1="458.8" y1="317.9" x2="458.8" y2="344" stroke="#8c0024" stroke-width="0.9"/><rect x="446.7" y="321.6" width="13.6" height="2.7" fill="#fff"/><line x1="453.5" y1="317.4" x2="453.5" y2="316.7" stroke="#000" stroke-width="1.8"/><line x1="450.3" y1="316.7" x2="456.7" y2="316.7" stroke="#000" stroke-width="1.8"/><text transform="translate(346 359.2) rotate(-45)" font-size="12.6" stroke="#000" stroke-width="0.3" text-anchor="end">24 hpf</text><text transform="translate(365.8 359.2) rotate(-45)" font-size="12.6" stroke="#000" stroke-width="0.3" text-anchor="end">48 hpf</text><text transform="translate(385.6 359.2) rotate(-45)" font-size="12.6" stroke="#000" stroke-width="0.3" text-anchor="end">72 hpf</text><text transform="translate(418.2 359.2) rotate(-45)" font-size="12.6" stroke="#000" stroke-width="0.3" text-anchor="end">24 hpf</text><text transform="translate(438 359.2) rotate(-45)" font-size="12.6" stroke="#000" stroke-width="0.3" text-anchor="end">48 hpf</text><text transform="translate(457.9 359.2) rotate(-45)" font-size="12.6" stroke="#000" stroke-width="0.3" text-anchor="end">72 hpf</text><text x="375.4" y="260.8" font-size="14.4" stroke="#000" stroke-width="0.1" font-style="italic" textLength="44.4" lengthAdjust="spacingAndGlyphs">gata1a</text><text transform="translate(280 365) rotate(-90)" font-size="14.2" stroke="#000" stroke-width="0.42" textLength="116" lengthAdjust="spacingAndGlyphs">Relative expression level</text><line x1="318.8" y1="391.9" x2="379.7" y2="391.9" stroke="#000" stroke-width="1.5"/><line x1="408.7" y1="391.9" x2="469.6" y2="391.9" stroke="#000" stroke-width="1.5"/><text x="311.2" y="410.4" font-size="14.2" stroke="#000" stroke-width="0.15" font-style="italic" textLength="27.82" lengthAdjust="spacingAndGlyphs">gata</text><text x="348.3" y="410.4" font-size="14.2" stroke="#000" stroke-width="0.15" font-style="italic" text-anchor="end">1</text><text x="348.8" y="409.9" font-size="14.6" stroke="#000" stroke-width="0.36" textLength="38.5" lengthAdjust="spacingAndGlyphs">:DsRed-</text><text x="400" y="410.3" font-size="14.2" stroke="#000" stroke-width="0.15" font-style="italic" textLength="26.94" lengthAdjust="spacingAndGlyphs">gata</text><text x="435.9" y="410.3" font-size="14.2" stroke="#000" stroke-width="0.15" font-style="italic" text-anchor="end">1</text><text x="436.4" y="409.8" font-size="14.6" stroke="#000" stroke-width="0.36" textLength="40.1" lengthAdjust="spacingAndGlyphs">:DsRed+</text><line x1="325.6" y1="690.6" x2="325.6" y2="747.8" stroke="#000" stroke-width="2"/><line x1="325.6" y1="752.6" x2="325.6" y2="765.2" stroke="#000" stroke-width="2"/><line x1="321.8" y1="750.8" x2="329.2" y2="745.6" stroke="#000" stroke-width="1.1"/><line x1="321.8" y1="754.6" x2="329.2" y2="749.4" stroke="#000" stroke-width="1.1"/><line x1="324.6" y1="764.2" x2="470.5" y2="764.2" stroke="#000" stroke-width="2"/><line x1="320.4" y1="694.8" x2="325.6" y2="694.8" stroke="#000" stroke-width="1.8"/><text transform="translate(315.2 698.6) scale(1.2 1)" font-size="10.6" text-anchor="end" stroke="#000" stroke-width="0.22">40</text><line x1="320.4" y1="708.1" x2="325.6" y2="708.1" stroke="#000" stroke-width="1.8"/><text transform="translate(315.2 711.9) scale(1.2 1)" font-size="10.6" text-anchor="end" stroke="#000" stroke-width="0.22">30</text><line x1="320.4" y1="721.5" x2="325.6" y2="721.5" stroke="#000" stroke-width="1.8"/><text transform="translate(315.2 725.3) scale(1.2 1)" font-size="10.6" text-anchor="end" stroke="#000" stroke-width="0.22">20</text><line x1="320.4" y1="734.8" x2="325.6" y2="734.8" stroke="#000" stroke-width="1.8"/><text transform="translate(315.2 738.6) scale(1.2 1)" font-size="10.6" text-anchor="end" stroke="#000" stroke-width="0.22">10</text><line x1="320.4" y1="764.2" x2="325.6" y2="764.2" stroke="#000" stroke-width="1.8"/><text transform="translate(315.2 768) scale(1.27 1)" font-size="10.6" text-anchor="end" stroke="#000" stroke-width="0.22">0.00</text><text transform="translate(315.2 751.7) scale(1.27 1)" font-size="10.6" text-anchor="end" stroke="#000" stroke-width="0.22">0.03</text><line x1="341.6" y1="764.2" x2="341.6" y2="769" stroke="#000" stroke-width="1.8"/><line x1="338.4" y1="763.6" x2="344.8" y2="763.6" stroke="#000" stroke-width="1.8"/><line x1="361.4" y1="764.2" x2="361.4" y2="769" stroke="#000" stroke-width="1.8"/><rect x="355.1" y="756.1" width="12.6" height="8.1" fill="#4e5870"/><line x1="356.1" y1="756.6" x2="356.1" y2="764.2" stroke="#454e63" stroke-width="0.9"/><line x1="366.7" y1="756.6" x2="366.7" y2="764.2" stroke="#454e63" stroke-width="0.9"/><line x1="361.4" y1="756.1" x2="361.4" y2="755" stroke="#000" stroke-width="1.8"/><line x1="358.2" y1="755" x2="364.6" y2="755" stroke="#000" stroke-width="1.8"/><line x1="381.2" y1="764.2" x2="381.2" y2="769" stroke="#000" stroke-width="1.8"/><rect x="374.9" y="755.2" width="12.6" height="9" fill="#4e5870"/><line x1="375.9" y1="755.7" x2="375.9" y2="764.2" stroke="#454e63" stroke-width="0.9"/><line x1="386.5" y1="755.7" x2="386.5" y2="764.2" stroke="#454e63" stroke-width="0.9"/><line x1="381.2" y1="755.2" x2="381.2" y2="751.7" stroke="#000" stroke-width="1.8"/><line x1="378" y1="751.7" x2="384.4" y2="751.7" stroke="#000" stroke-width="1.8"/><line x1="413.8" y1="764.2" x2="413.8" y2="769" stroke="#000" stroke-width="1.8"/><rect x="407.5" y="747" width="12.6" height="17.2" fill="#50205f"/><line x1="408.5" y1="747.5" x2="408.5" y2="764.2" stroke="#44164f" stroke-width="0.9"/><line x1="419.1" y1="747.5" x2="419.1" y2="764.2" stroke="#44164f" stroke-width="0.9"/><rect x="407" y="748.1" width="13.6" height="2.7" fill="#fff"/><line x1="413.8" y1="747" x2="413.8" y2="746.3" stroke="#000" stroke-width="1.8"/><line x1="410.6" y1="746.3" x2="417" y2="746.3" stroke="#000" stroke-width="1.8"/><line x1="433.6" y1="764.2" x2="433.6" y2="769" stroke="#000" stroke-width="1.8"/><rect x="427.3" y="732.9" width="12.6" height="31.3" fill="#50205f"/><line x1="428.3" y1="733.4" x2="428.3" y2="764.2" stroke="#44164f" stroke-width="0.9"/><line x1="438.9" y1="733.4" x2="438.9" y2="764.2" stroke="#44164f" stroke-width="0.9"/><rect x="426.8" y="748.1" width="13.6" height="2.7" fill="#fff"/><line x1="433.6" y1="732.9" x2="433.6" y2="729.9" stroke="#000" stroke-width="1.8"/><line x1="430.4" y1="729.9" x2="436.8" y2="729.9" stroke="#000" stroke-width="1.8"/><line x1="453.5" y1="764.2" x2="453.5" y2="769" stroke="#000" stroke-width="1.8"/><rect x="447.2" y="722.4" width="12.6" height="41.8" fill="#50205f"/><line x1="448.2" y1="722.9" x2="448.2" y2="764.2" stroke="#44164f" stroke-width="0.9"/><line x1="458.8" y1="722.9" x2="458.8" y2="764.2" stroke="#44164f" stroke-width="0.9"/><rect x="446.7" y="748.1" width="13.6" height="2.7" fill="#fff"/><line x1="453.5" y1="722.4" x2="453.5" y2="720.1" stroke="#000" stroke-width="1.8"/><line x1="450.3" y1="720.1" x2="456.7" y2="720.1" stroke="#000" stroke-width="1.8"/><text transform="translate(346 779.4) rotate(-45)" font-size="12.6" stroke="#000" stroke-width="0.3" text-anchor="end">24 hpf</text><text transform="translate(365.8 779.4) rotate(-45)" font-size="12.6" stroke="#000" stroke-width="0.3" text-anchor="end">48 hpf</text><text transform="translate(385.6 779.4) rotate(-45)" font-size="12.6" stroke="#000" stroke-width="0.3" text-anchor="end">72 hpf</text><text transform="translate(418.2 779.4) rotate(-45)" font-size="12.6" stroke="#000" stroke-width="0.3" text-anchor="end">24 hpf</text><text transform="translate(438 779.4) rotate(-45)" font-size="12.6" stroke="#000" stroke-width="0.3" text-anchor="end">48 hpf</text><text transform="translate(457.9 779.4) rotate(-45)" font-size="12.6" stroke="#000" stroke-width="0.3" text-anchor="end">72 hpf</text><text x="376.6" y="680.8" font-size="14.4" stroke="#000" stroke-width="0.1" font-style="italic" textLength="41.9" lengthAdjust="spacingAndGlyphs">hbbe1</text><text transform="translate(280.5 785) rotate(-90)" font-size="14.2" stroke="#000" stroke-width="0.42" textLength="116" lengthAdjust="spacingAndGlyphs">Relative expression level</text><line x1="319.9" y1="812.1" x2="380.5" y2="812.1" stroke="#000" stroke-width="1.5"/><line x1="402.5" y1="812.1" x2="463.6" y2="812.1" stroke="#000" stroke-width="1.5"/><text x="325.1" y="830.6" font-size="14.6" font-style="italic" textLength="18.4" lengthAdjust="spacingAndGlyphs">Icr</text><text x="344.1" y="830.1" font-size="14.6" stroke="#000" stroke-width="0.36" textLength="32.1" lengthAdjust="spacingAndGlyphs">:EGFP-</text><text x="406.4" y="830.4" font-size="14.6" font-style="italic" textLength="18.5" lengthAdjust="spacingAndGlyphs">Icr</text><text x="425.5" y="829.9" font-size="14.6" stroke="#000" stroke-width="0.36" textLength="34.6" lengthAdjust="spacingAndGlyphs">:EGFP+</text><line x1="67.7" y1="452.2" x2="67.7" y2="528.3" stroke="#000" stroke-width="2"/><line x1="66.7" y1="527.3" x2="142.7" y2="527.3" stroke="#000" stroke-width="2"/><line x1="62.5" y1="527.3" x2="67.7" y2="527.3" stroke="#000" stroke-width="1.8"/><text transform="translate(58.1 531.1) scale(1.2 1)" font-size="10.6" text-anchor="end" stroke="#000" stroke-width="0.22">0.1</text><line x1="62.5" y1="503.6" x2="67.7" y2="503.6" stroke="#000" stroke-width="1.8"/><text transform="translate(58.1 507.4) scale(1.2 1)" font-size="10.6" text-anchor="end" stroke="#000" stroke-width="0.22">1</text><line x1="62.5" y1="479.9" x2="67.7" y2="479.9" stroke="#000" stroke-width="1.8"/><text transform="translate(58.1 483.7) scale(1.2 1)" font-size="10.6" text-anchor="end" stroke="#000" stroke-width="0.22">10</text><line x1="62.5" y1="456.2" x2="67.7" y2="456.2" stroke="#000" stroke-width="1.8"/><text transform="translate(58.1 460) scale(1.2 1)" font-size="10.6" text-anchor="end" stroke="#000" stroke-width="0.22">100</text><line x1="85.3" y1="527.3" x2="85.3" y2="532.1" stroke="#000" stroke-width="1.8"/><rect x="79.1" y="504.2" width="12.4" height="23.1" fill="#a3002e"/><line x1="80.1" y1="504.7" x2="80.1" y2="527.3" stroke="#8c0024" stroke-width="0.9"/><line x1="90.5" y1="504.7" x2="90.5" y2="527.3" stroke="#8c0024" stroke-width="0.9"/><line x1="85.3" y1="504.2" x2="85.3" y2="496.5" stroke="#000" stroke-width="1.8"/><line x1="82.1" y1="496.5" x2="88.5" y2="496.5" stroke="#000" stroke-width="1.8"/><line x1="105.5" y1="527.3" x2="105.5" y2="532.1" stroke="#000" stroke-width="1.8"/><rect x="99.3" y="476.2" width="12.4" height="51.1" fill="#a3002e"/><line x1="100.3" y1="476.7" x2="100.3" y2="527.3" stroke="#8c0024" stroke-width="0.9"/><line x1="110.7" y1="476.7" x2="110.7" y2="527.3" stroke="#8c0024" stroke-width="0.9"/><line x1="105.5" y1="476.2" x2="105.5" y2="471.2" stroke="#000" stroke-width="1.8"/><line x1="102.3" y1="471.2" x2="108.7" y2="471.2" stroke="#000" stroke-width="1.8"/><line x1="125.7" y1="527.3" x2="125.7" y2="532.1" stroke="#000" stroke-width="1.8"/><rect x="119.5" y="468.8" width="12.4" height="58.5" fill="#a3002e"/><line x1="120.5" y1="469.3" x2="120.5" y2="527.3" stroke="#8c0024" stroke-width="0.9"/><line x1="130.9" y1="469.3" x2="130.9" y2="527.3" stroke="#8c0024" stroke-width="0.9"/><line x1="125.7" y1="468.8" x2="125.7" y2="467.7" stroke="#000" stroke-width="1.8"/><line x1="122.5" y1="467.7" x2="128.9" y2="467.7" stroke="#000" stroke-width="1.8"/><text transform="translate(89.7 542.5) rotate(-45)" font-size="12.6" stroke="#000" stroke-width="0.3" text-anchor="end">24 hpf</text><text transform="translate(109.9 542.5) rotate(-45)" font-size="12.6" stroke="#000" stroke-width="0.3" text-anchor="end">48 hpf</text><text transform="translate(130.1 542.5) rotate(-45)" font-size="12.6" stroke="#000" stroke-width="0.3" text-anchor="end">72 hpf</text><text x="95.2" y="443" font-size="14.4" stroke="#000" stroke-width="0.1" font-style="italic" textLength="22" lengthAdjust="spacingAndGlyphs">kita</text><text transform="translate(26.4 547.6) rotate(-90)" font-size="14.2" stroke="#000" stroke-width="0.42" textLength="116" lengthAdjust="spacingAndGlyphs">Relative expression level</text><line x1="62.4" y1="575.6" x2="122.6" y2="575.6" stroke="#000" stroke-width="1.5"/><text x="53.4" y="594.6" font-size="14.2" stroke="#000" stroke-width="0.15" font-style="italic" textLength="26.79" lengthAdjust="spacingAndGlyphs">gata</text><text x="89.1" y="594.6" font-size="14.2" stroke="#000" stroke-width="0.15" font-style="italic" text-anchor="end">1</text><text x="89.6" y="594.1" font-size="14.6" stroke="#000" stroke-width="0.36" textLength="41.6" lengthAdjust="spacingAndGlyphs">:DsRed+</text><line x1="324.7" y1="452.2" x2="324.7" y2="528.3" stroke="#000" stroke-width="2"/><line x1="323.7" y1="527.3" x2="399.7" y2="527.3" stroke="#000" stroke-width="2"/><line x1="319.5" y1="527.3" x2="324.7" y2="527.3" stroke="#000" stroke-width="1.8"/><text transform="translate(315.1 531.1) scale(1.2 1)" font-size="10.6" text-anchor="end" stroke="#000" stroke-width="0.22">0.1</text><line x1="319.5" y1="503.6" x2="324.7" y2="503.6" stroke="#000" stroke-width="1.8"/><text transform="translate(315.1 507.4) scale(1.2 1)" font-size="10.6" text-anchor="end" stroke="#000" stroke-width="0.22">1</text><line x1="319.5" y1="479.9" x2="324.7" y2="479.9" stroke="#000" stroke-width="1.8"/><text transform="translate(315.1 483.7) scale(1.2 1)" font-size="10.6" text-anchor="end" stroke="#000" stroke-width="0.22">10</text><line x1="319.5" y1="456.2" x2="324.7" y2="456.2" stroke="#000" stroke-width="1.8"/><text transform="translate(315.1 460) scale(1.2 1)" font-size="10.6" text-anchor="end" stroke="#000" stroke-width="0.22">100</text><line x1="342.3" y1="527.3" x2="342.3" y2="532.1" stroke="#000" stroke-width="1.8"/><rect x="336.1" y="504.6" width="12.4" height="22.7" fill="#a3002e"/><line x1="337.1" y1="505.1" x2="337.1" y2="527.3" stroke="#8c0024" stroke-width="0.9"/><line x1="347.5" y1="505.1" x2="347.5" y2="527.3" stroke="#8c0024" stroke-width="0.9"/><line x1="342.3" y1="504.6" x2="342.3" y2="500" stroke="#000" stroke-width="1.8"/><line x1="339.1" y1="500" x2="345.5" y2="500" stroke="#000" stroke-width="1.8"/><line x1="362.5" y1="527.3" x2="362.5" y2="532.1" stroke="#000" stroke-width="1.8"/><rect x="356.3" y="493.1" width="12.4" height="34.2" fill="#a3002e"/><line x1="357.3" y1="493.6" x2="357.3" y2="527.3" stroke="#8c0024" stroke-width="0.9"/><line x1="367.7" y1="493.6" x2="367.7" y2="527.3" stroke="#8c0024" stroke-width="0.9"/><line x1="362.5" y1="493.1" x2="362.5" y2="492.4" stroke="#000" stroke-width="1.8"/><line x1="359.3" y1="492.4" x2="365.7" y2="492.4" stroke="#000" stroke-width="1.8"/><line x1="382.7" y1="527.3" x2="382.7" y2="532.1" stroke="#000" stroke-width="1.8"/><rect x="376.5" y="479.2" width="12.4" height="48.1" fill="#a3002e"/><line x1="377.5" y1="479.7" x2="377.5" y2="527.3" stroke="#8c0024" stroke-width="0.9"/><line x1="387.9" y1="479.7" x2="387.9" y2="527.3" stroke="#8c0024" stroke-width="0.9"/><line x1="382.7" y1="479.2" x2="382.7" y2="473.5" stroke="#000" stroke-width="1.8"/><line x1="379.5" y1="473.5" x2="385.9" y2="473.5" stroke="#000" stroke-width="1.8"/><text transform="translate(346.7 542.5) rotate(-45)" font-size="12.6" stroke="#000" stroke-width="0.3" text-anchor="end">24 hpf</text><text transform="translate(366.9 542.5) rotate(-45)" font-size="12.6" stroke="#000" stroke-width="0.3" text-anchor="end">48 hpf</text><text transform="translate(387.1 542.5) rotate(-45)" font-size="12.6" stroke="#000" stroke-width="0.3" text-anchor="end">72 hpf</text><text x="350.8" y="443" font-size="14.4" stroke="#000" stroke-width="0.1" font-style="italic" textLength="22" lengthAdjust="spacingAndGlyphs">kitb</text><text transform="translate(283 547.6) rotate(-90)" font-size="14.2" stroke="#000" stroke-width="0.42" textLength="116" lengthAdjust="spacingAndGlyphs">Relative expression level</text><line x1="325.8" y1="575.6" x2="386.5" y2="575.6" stroke="#000" stroke-width="1.5"/><text x="317" y="594.6" font-size="14.2" stroke="#000" stroke-width="0.15" font-style="italic" textLength="26.79" lengthAdjust="spacingAndGlyphs">gata</text><text x="352.7" y="594.6" font-size="14.2" stroke="#000" stroke-width="0.15" font-style="italic" text-anchor="end">1</text><text x="353.2" y="594.1" font-size="14.6" stroke="#000" stroke-width="0.36" textLength="41.8" lengthAdjust="spacingAndGlyphs">:DsRed+</text><line x1="67.7" y1="872.2" x2="67.7" y2="948.3" stroke="#000" stroke-width="2"/><line x1="66.7" y1="947.3" x2="142.7" y2="947.3" stroke="#000" stroke-width="2"/><line x1="62.5" y1="947.3" x2="67.7" y2="947.3" stroke="#000" stroke-width="1.8"/><text transform="translate(58.1 951.1) scale(1.2 1)" font-size="10.6" text-anchor="end" stroke="#000" stroke-width="0.22">0.1</text><line x1="62.5" y1="923.6" x2="67.7" y2="923.6" stroke="#000" stroke-width="1.8"/><text transform="translate(58.1 927.4) scale(1.2 1)" font-size="10.6" text-anchor="end" stroke="#000" stroke-width="0.22">1</text><line x1="62.5" y1="899.9" x2="67.7" y2="899.9" stroke="#000" stroke-width="1.8"/><text transform="translate(58.1 903.7) scale(1.2 1)" font-size="10.6" text-anchor="end" stroke="#000" stroke-width="0.22">10</text><line x1="62.5" y1="876.2" x2="67.7" y2="876.2" stroke="#000" stroke-width="1.8"/><text transform="translate(58.1 880) scale(1.2 1)" font-size="10.6" text-anchor="end" stroke="#000" stroke-width="0.22">100</text><line x1="85.3" y1="947.3" x2="85.3" y2="952.1" stroke="#000" stroke-width="1.8"/><rect x="79.1" y="925.1" width="12.4" height="22.2" fill="#50205f"/><line x1="80.1" y1="925.6" x2="80.1" y2="947.3" stroke="#44164f" stroke-width="0.9"/><line x1="90.5" y1="925.6" x2="90.5" y2="947.3" stroke="#44164f" stroke-width="0.9"/><line x1="85.3" y1="925.1" x2="85.3" y2="920" stroke="#000" stroke-width="1.8"/><line x1="82.1" y1="920" x2="88.5" y2="920" stroke="#000" stroke-width="1.8"/><line x1="105.5" y1="947.3" x2="105.5" y2="952.1" stroke="#000" stroke-width="1.8"/><rect x="99.3" y="911.2" width="12.4" height="36.1" fill="#50205f"/><line x1="100.3" y1="911.7" x2="100.3" y2="947.3" stroke="#44164f" stroke-width="0.9"/><line x1="110.7" y1="911.7" x2="110.7" y2="947.3" stroke="#44164f" stroke-width="0.9"/><line x1="105.5" y1="911.2" x2="105.5" y2="905.5" stroke="#000" stroke-width="1.8"/><line x1="102.3" y1="905.5" x2="108.7" y2="905.5" stroke="#000" stroke-width="1.8"/><line x1="125.7" y1="947.3" x2="125.7" y2="952.1" stroke="#000" stroke-width="1.8"/><rect x="119.5" y="892.8" width="12.4" height="54.5" fill="#50205f"/><line x1="120.5" y1="893.3" x2="120.5" y2="947.3" stroke="#44164f" stroke-width="0.9"/><line x1="130.9" y1="893.3" x2="130.9" y2="947.3" stroke="#44164f" stroke-width="0.9"/><line x1="125.7" y1="892.8" x2="125.7" y2="891.6" stroke="#000" stroke-width="1.8"/><line x1="122.5" y1="891.6" x2="128.9" y2="891.6" stroke="#000" stroke-width="1.8"/><text transform="translate(89.7 962.5) rotate(-45)" font-size="12.6" stroke="#000" stroke-width="0.3" text-anchor="end">24 hpf</text><text transform="translate(109.9 962.5) rotate(-45)" font-size="12.6" stroke="#000" stroke-width="0.3" text-anchor="end">48 hpf</text><text transform="translate(130.1 962.5) rotate(-45)" font-size="12.6" stroke="#000" stroke-width="0.3" text-anchor="end">72 hpf</text><text x="95.2" y="863" font-size="14.4" stroke="#000" stroke-width="0.1" font-style="italic" textLength="22" lengthAdjust="spacingAndGlyphs">kita</text><text transform="translate(26.4 967.6) rotate(-90)" font-size="14.2" stroke="#000" stroke-width="0.42" textLength="116" lengthAdjust="spacingAndGlyphs">Relative expression level</text><line x1="62.4" y1="995.6" x2="122.6" y2="995.6" stroke="#000" stroke-width="1.5"/><text x="65.4" y="1014.6" font-size="15.2" font-style="italic" textLength="18.5" lengthAdjust="spacingAndGlyphs">Icr</text><text x="84.5" y="1014.1" font-size="15.2" stroke="#000" stroke-width="0.36" textLength="35.5" lengthAdjust="spacingAndGlyphs">:EGFP+</text><line x1="324.7" y1="872.2" x2="324.7" y2="948.3" stroke="#000" stroke-width="2"/><line x1="323.7" y1="947.3" x2="399.7" y2="947.3" stroke="#000" stroke-width="2"/><line x1="319.5" y1="947.3" x2="324.7" y2="947.3" stroke="#000" stroke-width="1.8"/><text transform="translate(315.1 951.1) scale(1.2 1)" font-size="10.6" text-anchor="end" stroke="#000" stroke-width="0.22">0.1</text><line x1="319.5" y1="923.6" x2="324.7" y2="923.6" stroke="#000" stroke-width="1.8"/><text transform="translate(315.1 927.4) scale(1.2 1)" font-size="10.6" text-anchor="end" stroke="#000" stroke-width="0.22">1</text><line x1="319.5" y1="899.9" x2="324.7" y2="899.9" stroke="#000" stroke-width="1.8"/><text transform="translate(315.1 903.7) scale(1.2 1)" font-size="10.6" text-anchor="end" stroke="#000" stroke-width="0.22">10</text><line x1="319.5" y1="876.2" x2="324.7" y2="876.2" stroke="#000" stroke-width="1.8"/><text transform="translate(315.1 880) scale(1.2 1)" font-size="10.6" text-anchor="end" stroke="#000" stroke-width="0.22">100</text><line x1="342.3" y1="947.3" x2="342.3" y2="952.1" stroke="#000" stroke-width="1.8"/><rect x="336.1" y="925.1" width="12.4" height="22.2" fill="#50205f"/><line x1="337.1" y1="925.6" x2="337.1" y2="947.3" stroke="#44164f" stroke-width="0.9"/><line x1="347.5" y1="925.6" x2="347.5" y2="947.3" stroke="#44164f" stroke-width="0.9"/><line x1="342.3" y1="925.1" x2="342.3" y2="914.9" stroke="#000" stroke-width="1.8"/><line x1="339.1" y1="914.9" x2="345.5" y2="914.9" stroke="#000" stroke-width="1.8"/><line x1="362.5" y1="947.3" x2="362.5" y2="952.1" stroke="#000" stroke-width="1.8"/><rect x="356.3" y="917.2" width="12.4" height="30.1" fill="#50205f"/><line x1="357.3" y1="917.7" x2="357.3" y2="947.3" stroke="#44164f" stroke-width="0.9"/><line x1="367.7" y1="917.7" x2="367.7" y2="947.3" stroke="#44164f" stroke-width="0.9"/><line x1="362.5" y1="917.2" x2="362.5" y2="908.9" stroke="#000" stroke-width="1.8"/><line x1="359.3" y1="908.9" x2="365.7" y2="908.9" stroke="#000" stroke-width="1.8"/><line x1="382.7" y1="947.3" x2="382.7" y2="952.1" stroke="#000" stroke-width="1.8"/><rect x="376.5" y="884.7" width="12.4" height="62.6" fill="#50205f"/><line x1="377.5" y1="885.2" x2="377.5" y2="947.3" stroke="#44164f" stroke-width="0.9"/><line x1="387.9" y1="885.2" x2="387.9" y2="947.3" stroke="#44164f" stroke-width="0.9"/><line x1="382.7" y1="884.7" x2="382.7" y2="884.2" stroke="#000" stroke-width="1.8"/><line x1="379.5" y1="884.2" x2="385.9" y2="884.2" stroke="#000" stroke-width="1.8"/><text transform="translate(346.7 962.5) rotate(-45)" font-size="12.6" stroke="#000" stroke-width="0.3" text-anchor="end">24 hpf</text><text transform="translate(366.9 962.5) rotate(-45)" font-size="12.6" stroke="#000" stroke-width="0.3" text-anchor="end">48 hpf</text><text transform="translate(387.1 962.5) rotate(-45)" font-size="12.6" stroke="#000" stroke-width="0.3" text-anchor="end">72 hpf</text><text x="350.8" y="863" font-size="14.4" stroke="#000" stroke-width="0.1" font-style="italic" textLength="22" lengthAdjust="spacingAndGlyphs">kitb</text><text transform="translate(283 967.6) rotate(-90)" font-size="14.2" stroke="#000" stroke-width="0.42" textLength="116" lengthAdjust="spacingAndGlyphs">Relative expression level</text><line x1="318.8" y1="995.6" x2="378.9" y2="995.6" stroke="#000" stroke-width="1.5"/><text x="322.3" y="1014.6" font-size="15.2" font-style="italic" textLength="18.5" lengthAdjust="spacingAndGlyphs">Icr</text><text x="341.4" y="1014.1" font-size="15.2" stroke="#000" stroke-width="0.36" textLength="34.2" lengthAdjust="spacingAndGlyphs">:EGFP+</text><text x="107.3" y="411.4" font-size="14.4" stroke="#000" stroke-width="0.15" font-style="italic" textLength="28.79" lengthAdjust="spacingAndGlyphs">gata</text><text x="145.7" y="411.4" font-size="14.4" stroke="#000" stroke-width="0.15" font-style="italic" text-anchor="end">1</text><text x="146.2" y="410.9" font-size="14.8" stroke="#000" stroke-width="0.36" textLength="31.7" lengthAdjust="spacingAndGlyphs">:DsRed</text><text x="120" y="830.4" font-size="14.8" font-style="italic" textLength="17.9" lengthAdjust="spacingAndGlyphs">Icr</text><text x="138.5" y="829.9" font-size="14.8" stroke="#000" stroke-width="0.36" textLength="27.7" lengthAdjust="spacingAndGlyphs">:EGFP</text><text x="170.6" y="328.4" font-size="12" stroke="#000" stroke-width="0.1" textLength="17.2" lengthAdjust="spacingAndGlyphs">5%</text><text x="158.9" y="753.7" font-size="12" stroke="#000" stroke-width="0.1" textLength="17.8" lengthAdjust="spacingAndGlyphs">4%</text>
<path d="M115.7 304.6h1.0v1.0h-1.0zM114.9 313.4h1.0v1.0h-1.0zM115.3 285.6h1.0v1.0h-1.0zM117.4 268.3h1.0v1.0h-1.0zM115.0 314.6h1.0v1.0h-1.0zM116.2 285.7h1.0v1.0h-1.0zM115.4 282.9h1.0v1.0h-1.0zM116.1 297.5h1.0v1.0h-1.0zM114.8 326.2h1.0v1.0h-1.0zM114.8 304.4h1.0v1.0h-1.0zM115.9 280.6h1.0v1.0h-1.0zM115.7 303.8h1.0v1.0h-1.0zM116.2 270.1h1.0v1.0h-1.0zM115.4 295.3h1.0v1.0h-1.0zM115.6 304.8h1.0v1.0h-1.0zM115.4 297.1h1.0v1.0h-1.0zM115.6 279.3h1.0v1.0h-1.0zM115.6 279.7h1.0v1.0h-1.0zM117.1 268.2h1.0v1.0h-1.0zM116.1 277.0h1.0v1.0h-1.0zM115.2 319.5h1.0v1.0h-1.0zM115.3 317.6h1.0v1.0h-1.0zM114.5 311.4h1.0v1.0h-1.0zM115.7 299.7h1.0v1.0h-1.0zM116.2 319.0h1.0v1.0h-1.0zM114.9 303.0h1.0v1.0h-1.0zM116.2 290.7h1.0v1.0h-1.0zM116.7 276.8h1.0v1.0h-1.0zM116.3 290.2h1.0v1.0h-1.0zM115.2 302.5h1.0v1.0h-1.0zM115.2 305.3h1.0v1.0h-1.0zM115.4 276.8h1.0v1.0h-1.0zM115.9 282.0h1.0v1.0h-1.0zM117.1 273.7h1.0v1.0h-1.0zM115.6 280.6h1.0v1.0h-1.0zM114.7 285.6h1.0v1.0h-1.0zM115.4 306.7h1.0v1.0h-1.0zM115.6 317.4h1.0v1.0h-1.0zM115.0 320.9h1.0v1.0h-1.0zM117.3 276.5h1.0v1.0h-1.0zM115.0 322.3h1.0v1.0h-1.0zM116.1 278.6h1.0v1.0h-1.0zM114.9 305.5h1.0v1.0h-1.0zM115.6 290.0h1.0v1.0h-1.0zM116.5 282.0h1.0v1.0h-1.0zM115.5 319.3h1.0v1.0h-1.0zM116.2 300.0h1.0v1.0h-1.0zM115.7 312.0h1.0v1.0h-1.0zM116.1 289.8h1.0v1.0h-1.0zM114.8 275.2h1.0v1.0h-1.0zM115.0 306.5h1.0v1.0h-1.0zM117.0 298.6h1.0v1.0h-1.0zM115.5 288.1h1.0v1.0h-1.0zM115.7 308.0h1.0v1.0h-1.0zM115.6 298.4h1.0v1.0h-1.0zM115.4 321.2h1.0v1.0h-1.0zM115.1 322.6h1.0v1.0h-1.0zM114.8 312.0h1.0v1.0h-1.0zM115.6 276.0h1.0v1.0h-1.0zM115.4 315.7h1.0v1.0h-1.0zM115.2 304.8h1.0v1.0h-1.0zM114.5 298.0h1.0v1.0h-1.0zM116.3 281.2h1.0v1.0h-1.0zM116.4 289.2h1.0v1.0h-1.0zM116.4 288.2h1.0v1.0h-1.0zM116.0 301.5h1.0v1.0h-1.0zM115.0 283.9h1.0v1.0h-1.0zM116.7 294.0h1.0v1.0h-1.0zM115.5 298.2h1.0v1.0h-1.0zM114.7 320.4h1.0v1.0h-1.0zM115.3 302.0h1.0v1.0h-1.0zM114.8 319.4h1.0v1.0h-1.0zM114.5 322.0h1.0v1.0h-1.0zM115.7 293.2h1.0v1.0h-1.0zM115.1 323.6h1.0v1.0h-1.0zM115.1 315.2h1.0v1.0h-1.0zM115.4 309.9h1.0v1.0h-1.0zM115.7 287.5h1.0v1.0h-1.0zM115.6 279.9h1.0v1.0h-1.0zM115.6 280.5h1.0v1.0h-1.0zM115.4 317.1h1.0v1.0h-1.0zM114.8 296.0h1.0v1.0h-1.0zM115.1 306.6h1.0v1.0h-1.0zM115.4 324.2h1.0v1.0h-1.0zM115.6 304.7h1.0v1.0h-1.0zM116.5 278.8h1.0v1.0h-1.0zM115.7 292.1h1.0v1.0h-1.0zM114.6 315.7h1.0v1.0h-1.0zM115.9 274.6h1.0v1.0h-1.0zM115.3 314.9h1.0v1.0h-1.0zM115.4 298.6h1.0v1.0h-1.0zM116.1 270.7h1.0v1.0h-1.0zM116.4 269.2h1.0v1.0h-1.0zM116.5 282.5h1.0v1.0h-1.0zM115.3 301.2h1.0v1.0h-1.0zM116.1 302.5h1.0v1.0h-1.0zM115.4 307.7h1.0v1.0h-1.0zM116.5 286.2h1.0v1.0h-1.0zM116.2 299.5h1.0v1.0h-1.0zM116.3 306.5h1.0v1.0h-1.0zM116.7 279.2h1.0v1.0h-1.0zM117.0 270.3h1.0v1.0h-1.0zM115.7 324.2h1.0v1.0h-1.0zM115.1 271.0h1.0v1.0h-1.0zM115.3 286.6h1.0v1.0h-1.0zM116.0 304.7h1.0v1.0h-1.0zM114.6 286.4h1.0v1.0h-1.0zM115.3 314.6h1.0v1.0h-1.0zM115.3 312.9h1.0v1.0h-1.0zM115.1 279.5h1.0v1.0h-1.0zM115.0 305.4h1.0v1.0h-1.0zM116.6 273.6h1.0v1.0h-1.0zM115.7 305.0h1.0v1.0h-1.0zM114.9 315.0h1.0v1.0h-1.0zM114.9 310.2h1.0v1.0h-1.0zM114.8 320.2h1.0v1.0h-1.0zM116.6 269.6h1.0v1.0h-1.0zM115.1 280.6h1.0v1.0h-1.0zM115.0 323.3h1.0v1.0h-1.0zM115.1 282.8h1.0v1.0h-1.0zM115.9 306.4h1.0v1.0h-1.0zM115.9 290.3h1.0v1.0h-1.0zM116.1 306.8h1.0v1.0h-1.0zM114.5 290.0h1.0v1.0h-1.0zM114.5 299.6h1.0v1.0h-1.0zM115.6 282.5h1.0v1.0h-1.0zM116.6 294.8h1.0v1.0h-1.0zM114.7 312.0h1.0v1.0h-1.0zM116.7 285.5h1.0v1.0h-1.0zM115.4 312.6h1.0v1.0h-1.0zM116.2 275.8h1.0v1.0h-1.0zM116.7 272.8h1.0v1.0h-1.0zM115.3 283.8h1.0v1.0h-1.0zM114.9 316.7h1.0v1.0h-1.0zM115.3 278.9h1.0v1.0h-1.0zM115.2 319.7h1.0v1.0h-1.0zM116.3 309.6h1.0v1.0h-1.0zM115.1 310.5h1.0v1.0h-1.0zM115.4 316.3h1.0v1.0h-1.0zM116.0 289.7h1.0v1.0h-1.0zM115.7 298.3h1.0v1.0h-1.0zM115.9 279.2h1.0v1.0h-1.0zM116.3 299.4h1.0v1.0h-1.0zM115.1 320.5h1.0v1.0h-1.0zM115.8 278.8h1.0v1.0h-1.0zM114.5 305.7h1.0v1.0h-1.0zM115.4 326.3h1.0v1.0h-1.0zM115.6 317.3h1.0v1.0h-1.0zM116.0 291.1h1.0v1.0h-1.0zM116.0 278.8h1.0v1.0h-1.0zM116.1 312.3h1.0v1.0h-1.0zM115.7 294.0h1.0v1.0h-1.0zM115.4 292.6h1.0v1.0h-1.0zM115.5 317.4h1.0v1.0h-1.0zM115.6 290.7h1.0v1.0h-1.0zM115.4 310.2h1.0v1.0h-1.0zM115.0 316.6h1.0v1.0h-1.0zM115.7 290.7h1.0v1.0h-1.0zM114.5 312.5h1.0v1.0h-1.0zM115.6 276.7h1.0v1.0h-1.0zM114.9 316.3h1.0v1.0h-1.0zM115.2 275.2h1.0v1.0h-1.0zM114.9 325.8h1.0v1.0h-1.0zM115.7 301.6h1.0v1.0h-1.0zM114.8 311.9h1.0v1.0h-1.0zM116.1 321.5h1.0v1.0h-1.0zM115.2 313.0h1.0v1.0h-1.0zM115.9 295.7h1.0v1.0h-1.0zM115.2 286.4h1.0v1.0h-1.0zM114.9 310.1h1.0v1.0h-1.0zM117.4 271.3h1.0v1.0h-1.0zM115.4 320.0h1.0v1.0h-1.0zM115.9 282.4h1.0v1.0h-1.0zM115.2 281.3h1.0v1.0h-1.0zM116.6 297.4h1.0v1.0h-1.0zM115.5 278.3h1.0v1.0h-1.0zM115.4 296.3h1.0v1.0h-1.0zM115.3 307.2h1.0v1.0h-1.0zM115.8 298.8h1.0v1.0h-1.0zM115.7 298.2h1.0v1.0h-1.0zM115.6 299.4h1.0v1.0h-1.0zM116.3 314.3h1.0v1.0h-1.0zM116.2 278.5h1.0v1.0h-1.0zM116.5 274.6h1.0v1.0h-1.0zM114.4 323.1h1.0v1.0h-1.0zM115.4 324.7h1.0v1.0h-1.0zM114.7 297.6h1.0v1.0h-1.0zM114.8 321.5h1.0v1.0h-1.0zM117.4 286.4h1.0v1.0h-1.0zM115.7 271.9h1.0v1.0h-1.0zM115.7 295.2h1.0v1.0h-1.0zM114.7 312.5h1.0v1.0h-1.0zM114.7 312.5h1.0v1.0h-1.0zM115.7 317.7h1.0v1.0h-1.0zM115.1 311.0h1.0v1.0h-1.0zM116.1 277.8h1.0v1.0h-1.0zM115.9 277.7h1.0v1.0h-1.0zM114.7 302.9h1.0v1.0h-1.0zM115.0 322.8h1.0v1.0h-1.0zM116.3 298.1h1.0v1.0h-1.0zM114.7 324.5h1.0v1.0h-1.0zM115.5 315.0h1.0v1.0h-1.0zM115.8 314.9h1.0v1.0h-1.0zM114.8 305.7h1.0v1.0h-1.0zM116.3 293.4h1.0v1.0h-1.0zM114.4 308.5h1.0v1.0h-1.0zM116.3 287.6h1.0v1.0h-1.0zM115.8 280.2h1.0v1.0h-1.0zM114.7 313.0h1.0v1.0h-1.0zM115.3 310.6h1.0v1.0h-1.0zM114.8 324.1h1.0v1.0h-1.0zM114.8 291.9h1.0v1.0h-1.0zM116.3 298.6h1.0v1.0h-1.0zM117.1 273.0h1.0v1.0h-1.0zM115.0 300.6h1.0v1.0h-1.0zM116.0 270.3h1.0v1.0h-1.0zM115.2 304.9h1.0v1.0h-1.0zM116.1 272.3h1.0v1.0h-1.0zM115.2 281.0h1.0v1.0h-1.0zM115.6 319.4h1.0v1.0h-1.0zM115.8 294.6h1.0v1.0h-1.0zM114.9 309.4h1.0v1.0h-1.0zM115.0 315.2h1.0v1.0h-1.0zM115.1 304.3h1.0v1.0h-1.0zM115.3 307.7h1.0v1.0h-1.0zM116.2 291.8h1.0v1.0h-1.0zM116.2 291.2h1.0v1.0h-1.0zM115.2 290.3h1.0v1.0h-1.0zM115.4 312.2h1.0v1.0h-1.0zM115.3 287.8h1.0v1.0h-1.0zM114.8 290.3h1.0v1.0h-1.0zM114.7 313.9h1.0v1.0h-1.0zM115.4 309.7h1.0v1.0h-1.0zM114.4 318.3h1.0v1.0h-1.0zM115.2 300.6h1.0v1.0h-1.0zM115.7 307.6h1.0v1.0h-1.0zM115.4 292.6h1.0v1.0h-1.0zM115.5 285.1h1.0v1.0h-1.0zM115.2 293.2h1.0v1.0h-1.0zM114.6 294.2h1.0v1.0h-1.0zM115.4 302.0h1.0v1.0h-1.0zM115.1 320.0h1.0v1.0h-1.0zM116.1 283.6h1.0v1.0h-1.0zM115.1 296.9h1.0v1.0h-1.0zM115.6 272.3h1.0v1.0h-1.0zM116.6 279.6h1.0v1.0h-1.0zM114.8 316.4h1.0v1.0h-1.0zM115.5 295.7h1.0v1.0h-1.0zM114.0 294.8h1.0v1.0h-1.0zM115.0 299.9h1.0v1.0h-1.0zM115.3 286.5h1.0v1.0h-1.0zM114.5 313.1h1.0v1.0h-1.0zM116.1 310.9h1.0v1.0h-1.0zM115.5 294.0h1.0v1.0h-1.0zM114.4 308.0h1.0v1.0h-1.0zM115.5 305.6h1.0v1.0h-1.0zM115.5 305.3h1.0v1.0h-1.0zM115.7 295.9h1.0v1.0h-1.0zM116.2 304.9h1.0v1.0h-1.0zM115.0 324.3h1.0v1.0h-1.0zM115.9 285.9h1.0v1.0h-1.0zM115.8 271.9h1.0v1.0h-1.0zM114.8 313.2h1.0v1.0h-1.0zM116.1 279.4h1.0v1.0h-1.0zM115.8 286.8h1.0v1.0h-1.0zM115.1 296.6h1.0v1.0h-1.0zM115.2 306.4h1.0v1.0h-1.0zM115.3 312.9h1.0v1.0h-1.0zM116.0 288.1h1.0v1.0h-1.0zM115.4 293.6h1.0v1.0h-1.0zM114.7 276.3h1.0v1.0h-1.0zM115.6 305.4h1.0v1.0h-1.0zM115.9 276.1h1.0v1.0h-1.0zM115.4 284.6h1.0v1.0h-1.0zM116.0 269.5h1.0v1.0h-1.0zM115.3 277.7h1.0v1.0h-1.0zM116.5 268.9h1.0v1.0h-1.0zM115.7 283.8h1.0v1.0h-1.0zM115.0 278.8h1.0v1.0h-1.0zM116.0 291.8h1.0v1.0h-1.0zM115.4 315.8h1.0v1.0h-1.0zM115.0 322.0h1.0v1.0h-1.0zM115.7 307.1h1.0v1.0h-1.0zM114.6 306.8h1.0v1.0h-1.0zM115.9 313.2h1.0v1.0h-1.0zM115.2 323.8h1.0v1.0h-1.0zM116.9 274.7h1.0v1.0h-1.0zM114.5 269.9h1.0v1.0h-1.0zM114.4 321.5h1.0v1.0h-1.0zM115.2 303.8h1.0v1.0h-1.0zM115.2 307.7h1.0v1.0h-1.0zM115.9 323.7h1.0v1.0h-1.0zM115.9 287.6h1.0v1.0h-1.0zM115.4 269.1h1.0v1.0h-1.0zM115.7 308.6h1.0v1.0h-1.0zM115.3 317.8h1.0v1.0h-1.0zM115.4 287.7h1.0v1.0h-1.0zM116.7 275.7h1.0v1.0h-1.0zM116.7 285.8h1.0v1.0h-1.0zM115.0 322.3h1.0v1.0h-1.0zM114.7 320.6h1.0v1.0h-1.0zM115.5 317.9h1.0v1.0h-1.0zM116.6 268.2h1.0v1.0h-1.0zM115.8 282.4h1.0v1.0h-1.0zM114.8 314.8h1.0v1.0h-1.0zM115.9 280.4h1.0v1.0h-1.0zM115.3 322.9h1.0v1.0h-1.0zM115.4 309.1h1.0v1.0h-1.0zM113.9 315.7h1.0v1.0h-1.0zM116.0 298.2h1.0v1.0h-1.0zM116.6 300.2h1.0v1.0h-1.0zM116.5 272.9h1.0v1.0h-1.0zM115.7 312.7h1.0v1.0h-1.0zM115.9 286.3h1.0v1.0h-1.0zM117.0 294.6h1.0v1.0h-1.0zM116.0 285.1h1.0v1.0h-1.0zM116.3 305.2h1.0v1.0h-1.0zM116.8 290.1h1.0v1.0h-1.0zM115.3 308.9h1.0v1.0h-1.0zM116.9 269.5h1.0v1.0h-1.0zM114.6 309.7h1.0v1.0h-1.0zM115.6 310.8h1.0v1.0h-1.0zM114.8 295.5h1.0v1.0h-1.0zM116.1 294.2h1.0v1.0h-1.0zM115.7 285.9h1.0v1.0h-1.0zM115.9 280.8h1.0v1.0h-1.0zM115.5 278.1h1.0v1.0h-1.0zM115.9 295.2h1.0v1.0h-1.0zM115.7 311.2h1.0v1.0h-1.0zM115.4 284.0h1.0v1.0h-1.0zM115.5 297.6h1.0v1.0h-1.0zM116.4 275.3h1.0v1.0h-1.0zM115.4 295.7h1.0v1.0h-1.0zM117.2 271.9h1.0v1.0h-1.0zM116.2 318.6h1.0v1.0h-1.0zM116.6 268.3h1.0v1.0h-1.0zM115.8 289.6h1.0v1.0h-1.0zM116.4 272.3h1.0v1.0h-1.0zM114.8 315.5h1.0v1.0h-1.0zM114.9 294.5h1.0v1.0h-1.0zM115.5 286.7h1.0v1.0h-1.0zM116.0 290.9h1.0v1.0h-1.0zM116.0 272.8h1.0v1.0h-1.0zM114.7 323.8h1.0v1.0h-1.0zM114.9 305.9h1.0v1.0h-1.0zM115.6 301.4h1.0v1.0h-1.0zM115.4 302.5h1.0v1.0h-1.0zM116.0 300.2h1.0v1.0h-1.0zM115.0 302.1h1.0v1.0h-1.0zM117.9 277.7h1.0v1.0h-1.0zM115.2 315.8h1.0v1.0h-1.0zM116.8 299.9h1.0v1.0h-1.0zM115.6 291.6h1.0v1.0h-1.0zM116.2 289.8h1.0v1.0h-1.0zM115.2 308.2h1.0v1.0h-1.0zM117.5 274.3h1.0v1.0h-1.0zM115.4 322.0h1.0v1.0h-1.0zM115.6 282.6h1.0v1.0h-1.0zM115.1 317.7h1.0v1.0h-1.0zM116.8 270.6h1.0v1.0h-1.0zM115.0 279.3h1.0v1.0h-1.0zM114.8 321.9h1.0v1.0h-1.0zM115.7 278.0h1.0v1.0h-1.0zM114.3 298.7h1.0v1.0h-1.0zM115.9 293.6h1.0v1.0h-1.0zM117.2 288.7h1.0v1.0h-1.0zM114.4 311.9h1.0v1.0h-1.0zM114.7 315.3h1.0v1.0h-1.0zM115.3 313.7h1.0v1.0h-1.0zM115.3 319.0h1.0v1.0h-1.0zM115.9 294.7h1.0v1.0h-1.0zM115.5 297.7h1.0v1.0h-1.0zM115.8 276.1h1.0v1.0h-1.0zM115.1 271.1h1.0v1.0h-1.0zM117.5 275.6h1.0v1.0h-1.0zM116.8 288.9h1.0v1.0h-1.0zM115.6 284.4h1.0v1.0h-1.0zM115.9 287.4h1.0v1.0h-1.0zM115.8 283.0h1.0v1.0h-1.0zM115.1 312.2h1.0v1.0h-1.0zM114.6 319.9h1.0v1.0h-1.0zM117.5 286.2h1.0v1.0h-1.0zM115.9 282.8h1.0v1.0h-1.0zM116.2 293.6h1.0v1.0h-1.0zM115.0 322.7h1.0v1.0h-1.0zM115.5 309.7h1.0v1.0h-1.0zM117.3 275.7h1.0v1.0h-1.0zM115.5 308.7h1.0v1.0h-1.0zM115.8 321.0h1.0v1.0h-1.0zM115.8 273.4h1.0v1.0h-1.0zM115.4 322.9h1.0v1.0h-1.0zM115.8 321.7h1.0v1.0h-1.0zM116.9 271.9h1.0v1.0h-1.0zM115.4 294.8h1.0v1.0h-1.0zM114.9 311.1h1.0v1.0h-1.0zM114.8 326.3h1.0v1.0h-1.0zM114.9 315.6h1.0v1.0h-1.0zM115.5 313.8h1.0v1.0h-1.0zM114.9 326.0h1.0v1.0h-1.0zM115.3 294.5h1.0v1.0h-1.0zM114.5 323.3h1.0v1.0h-1.0zM114.8 323.0h1.0v1.0h-1.0zM115.8 289.9h1.0v1.0h-1.0zM116.2 295.6h1.0v1.0h-1.0zM116.1 290.6h1.0v1.0h-1.0zM116.7 276.2h1.0v1.0h-1.0zM116.0 312.1h1.0v1.0h-1.0zM115.7 307.3h1.0v1.0h-1.0zM115.1 281.5h1.0v1.0h-1.0zM115.8 284.3h1.0v1.0h-1.0zM114.6 312.5h1.0v1.0h-1.0zM116.0 286.9h1.0v1.0h-1.0zM115.0 278.9h1.0v1.0h-1.0zM115.4 308.8h1.0v1.0h-1.0zM116.0 285.3h1.0v1.0h-1.0zM116.8 270.0h1.0v1.0h-1.0zM115.6 301.8h1.0v1.0h-1.0zM117.6 288.4h1.0v1.0h-1.0zM115.3 302.5h1.0v1.0h-1.0zM115.8 309.3h1.0v1.0h-1.0zM114.8 324.7h1.0v1.0h-1.0zM115.4 282.8h1.0v1.0h-1.0zM114.8 326.0h1.0v1.0h-1.0zM114.7 303.4h1.0v1.0h-1.0zM115.1 323.6h1.0v1.0h-1.0zM114.6 298.5h1.0v1.0h-1.0zM115.8 309.1h1.0v1.0h-1.0zM115.9 287.2h1.0v1.0h-1.0zM116.8 270.1h1.0v1.0h-1.0zM115.4 272.4h1.0v1.0h-1.0zM116.9 287.5h1.0v1.0h-1.0zM117.2 269.8h1.0v1.0h-1.0zM116.4 293.5h1.0v1.0h-1.0zM115.3 309.4h1.0v1.0h-1.0zM116.6 282.3h1.0v1.0h-1.0zM115.1 320.5h1.0v1.0h-1.0zM117.1 273.5h1.0v1.0h-1.0zM115.1 269.6h1.0v1.0h-1.0zM116.4 269.5h1.0v1.0h-1.0zM116.3 305.0h1.0v1.0h-1.0zM116.8 277.1h1.0v1.0h-1.0zM116.5 287.6h1.0v1.0h-1.0zM116.8 273.1h1.0v1.0h-1.0zM115.5 307.6h1.0v1.0h-1.0zM115.0 304.1h1.0v1.0h-1.0zM116.3 283.2h1.0v1.0h-1.0zM114.9 323.7h1.0v1.0h-1.0zM115.3 305.5h1.0v1.0h-1.0zM116.3 268.9h1.0v1.0h-1.0zM116.3 271.9h1.0v1.0h-1.0zM114.9 308.5h1.0v1.0h-1.0zM115.6 314.0h1.0v1.0h-1.0zM116.3 278.4h1.0v1.0h-1.0zM115.8 317.8h1.0v1.0h-1.0zM117.4 282.3h1.0v1.0h-1.0zM116.3 291.5h1.0v1.0h-1.0zM115.8 297.6h1.0v1.0h-1.0zM115.0 293.9h1.0v1.0h-1.0zM115.4 309.7h1.0v1.0h-1.0zM115.3 318.8h1.0v1.0h-1.0zM116.1 286.5h1.0v1.0h-1.0zM115.1 322.9h1.0v1.0h-1.0zM115.9 273.6h1.0v1.0h-1.0zM115.4 325.9h1.0v1.0h-1.0zM116.4 271.2h1.0v1.0h-1.0zM116.3 297.5h1.0v1.0h-1.0zM114.7 323.6h1.0v1.0h-1.0zM116.4 275.3h1.0v1.0h-1.0zM116.6 291.8h1.0v1.0h-1.0zM116.2 304.5h1.0v1.0h-1.0zM115.0 301.7h1.0v1.0h-1.0zM115.2 315.8h1.0v1.0h-1.0zM115.2 308.9h1.0v1.0h-1.0zM116.5 295.6h1.0v1.0h-1.0zM115.9 299.5h1.0v1.0h-1.0zM115.4 293.1h1.0v1.0h-1.0zM116.3 271.3h1.0v1.0h-1.0zM116.0 269.1h1.0v1.0h-1.0zM115.9 290.3h1.0v1.0h-1.0zM115.7 285.3h1.0v1.0h-1.0zM116.3 278.1h1.0v1.0h-1.0zM115.6 324.2h1.0v1.0h-1.0zM117.1 295.2h1.0v1.0h-1.0zM116.5 285.0h1.0v1.0h-1.0zM117.2 284.8h1.0v1.0h-1.0zM114.7 287.5h1.0v1.0h-1.0zM115.4 322.2h1.0v1.0h-1.0zM115.6 315.2h1.0v1.0h-1.0zM116.2 290.2h1.0v1.0h-1.0zM116.2 272.1h1.0v1.0h-1.0zM114.3 304.5h1.0v1.0h-1.0zM114.9 307.2h1.0v1.0h-1.0zM114.9 325.4h1.0v1.0h-1.0zM115.5 315.2h1.0v1.0h-1.0zM114.6 324.8h1.0v1.0h-1.0zM115.2 318.8h1.0v1.0h-1.0zM115.4 304.4h1.0v1.0h-1.0zM116.0 279.7h1.0v1.0h-1.0zM116.0 285.0h1.0v1.0h-1.0zM116.6 275.5h1.0v1.0h-1.0zM114.9 322.0h1.0v1.0h-1.0zM116.3 268.8h1.0v1.0h-1.0zM115.6 275.9h1.0v1.0h-1.0zM115.4 302.1h1.0v1.0h-1.0zM115.3 293.1h1.0v1.0h-1.0zM115.7 306.9h1.0v1.0h-1.0zM117.1 291.4h1.0v1.0h-1.0zM116.0 320.9h1.0v1.0h-1.0zM115.0 310.0h1.0v1.0h-1.0zM115.4 320.3h1.0v1.0h-1.0zM115.7 297.6h1.0v1.0h-1.0zM114.5 307.4h1.0v1.0h-1.0zM114.6 276.0h1.0v1.0h-1.0zM115.8 269.7h1.0v1.0h-1.0zM115.0 324.1h1.0v1.0h-1.0zM115.2 277.4h1.0v1.0h-1.0zM115.5 273.1h1.0v1.0h-1.0zM115.0 302.7h1.0v1.0h-1.0zM115.5 274.4h1.0v1.0h-1.0zM114.6 315.1h1.0v1.0h-1.0zM116.0 276.1h1.0v1.0h-1.0zM115.8 304.8h1.0v1.0h-1.0zM115.3 318.5h1.0v1.0h-1.0zM115.1 297.9h1.0v1.0h-1.0zM115.5 301.0h1.0v1.0h-1.0zM115.4 310.8h1.0v1.0h-1.0zM114.1 326.0h1.0v1.0h-1.0zM116.4 292.8h1.0v1.0h-1.0zM114.9 313.6h1.0v1.0h-1.0zM114.7 305.4h1.0v1.0h-1.0zM117.1 298.2h1.0v1.0h-1.0zM115.1 295.4h1.0v1.0h-1.0zM115.7 284.7h1.0v1.0h-1.0zM115.4 286.5h1.0v1.0h-1.0zM116.4 291.9h1.0v1.0h-1.0zM114.9 323.5h1.0v1.0h-1.0zM114.3 326.2h1.0v1.0h-1.0zM114.7 272.3h1.0v1.0h-1.0zM115.9 270.9h1.0v1.0h-1.0zM117.4 278.8h1.0v1.0h-1.0zM115.2 285.8h1.0v1.0h-1.0zM115.8 316.1h1.0v1.0h-1.0zM115.3 287.2h1.0v1.0h-1.0zM115.2 268.3h1.0v1.0h-1.0zM113.9 324.2h1.0v1.0h-1.0zM115.1 318.9h1.0v1.0h-1.0zM116.1 285.2h1.0v1.0h-1.0zM115.9 284.9h1.0v1.0h-1.0zM114.7 272.8h1.0v1.0h-1.0zM115.0 311.9h1.0v1.0h-1.0zM116.3 276.6h1.0v1.0h-1.0zM115.6 285.4h1.0v1.0h-1.0zM115.5 311.5h1.0v1.0h-1.0zM117.8 271.5h1.0v1.0h-1.0zM114.4 325.5h1.0v1.0h-1.0zM116.6 313.0h1.0v1.0h-1.0zM114.6 319.1h1.0v1.0h-1.0zM115.1 320.0h1.0v1.0h-1.0zM115.1 318.9h1.0v1.0h-1.0zM115.8 309.9h1.0v1.0h-1.0zM115.7 283.5h1.0v1.0h-1.0zM115.5 302.6h1.0v1.0h-1.0zM115.0 322.5h1.0v1.0h-1.0zM116.4 279.3h1.0v1.0h-1.0zM115.4 315.9h1.0v1.0h-1.0zM115.6 298.0h1.0v1.0h-1.0zM115.9 306.3h1.0v1.0h-1.0zM117.2 273.1h1.0v1.0h-1.0zM114.8 319.5h1.0v1.0h-1.0zM115.8 271.1h1.0v1.0h-1.0zM115.4 290.5h1.0v1.0h-1.0zM115.1 302.3h1.0v1.0h-1.0zM115.5 287.8h1.0v1.0h-1.0zM115.5 303.9h1.0v1.0h-1.0zM115.8 309.3h1.0v1.0h-1.0zM114.9 315.7h1.0v1.0h-1.0zM115.2 324.4h1.0v1.0h-1.0zM115.9 275.5h1.0v1.0h-1.0zM117.6 285.4h1.0v1.0h-1.0zM115.6 303.7h1.0v1.0h-1.0zM116.7 273.1h1.0v1.0h-1.0zM115.5 271.9h1.0v1.0h-1.0zM114.7 319.3h1.0v1.0h-1.0zM116.3 275.5h1.0v1.0h-1.0zM115.2 296.1h1.0v1.0h-1.0zM115.7 291.9h1.0v1.0h-1.0zM115.6 321.5h1.0v1.0h-1.0zM115.6 277.4h1.0v1.0h-1.0zM115.2 296.8h1.0v1.0h-1.0zM116.3 273.1h1.0v1.0h-1.0zM114.9 321.5h1.0v1.0h-1.0zM116.4 283.3h1.0v1.0h-1.0zM115.8 286.7h1.0v1.0h-1.0zM115.4 273.0h1.0v1.0h-1.0zM114.7 272.9h1.0v1.0h-1.0zM116.1 285.1h1.0v1.0h-1.0zM114.8 320.3h1.0v1.0h-1.0zM116.0 283.0h1.0v1.0h-1.0zM114.7 290.7h1.0v1.0h-1.0zM114.9 312.7h1.0v1.0h-1.0zM115.5 309.1h1.0v1.0h-1.0zM115.5 324.6h1.0v1.0h-1.0zM115.6 318.5h1.0v1.0h-1.0zM116.6 289.0h1.0v1.0h-1.0zM115.3 310.6h1.0v1.0h-1.0zM116.4 290.5h1.0v1.0h-1.0zM115.7 300.7h1.0v1.0h-1.0zM114.9 323.5h1.0v1.0h-1.0zM114.7 326.5h1.0v1.0h-1.0zM115.3 289.3h1.0v1.0h-1.0zM116.9 275.4h1.0v1.0h-1.0zM116.1 278.9h1.0v1.0h-1.0zM114.8 320.1h1.0v1.0h-1.0zM115.3 307.3h1.0v1.0h-1.0zM117.5 273.4h1.0v1.0h-1.0zM114.8 297.5h1.0v1.0h-1.0zM114.7 306.5h1.0v1.0h-1.0zM117.3 270.7h1.0v1.0h-1.0zM114.4 320.5h1.0v1.0h-1.0zM116.4 299.2h1.0v1.0h-1.0zM114.8 322.9h1.0v1.0h-1.0zM116.0 292.0h1.0v1.0h-1.0zM116.0 310.0h1.0v1.0h-1.0zM116.0 311.1h1.0v1.0h-1.0zM116.8 272.4h1.0v1.0h-1.0zM115.0 324.9h1.0v1.0h-1.0zM115.1 313.3h1.0v1.0h-1.0zM115.5 294.9h1.0v1.0h-1.0zM116.4 303.9h1.0v1.0h-1.0zM115.6 308.2h1.0v1.0h-1.0zM116.0 309.8h1.0v1.0h-1.0zM114.3 292.2h1.0v1.0h-1.0zM115.4 296.9h1.0v1.0h-1.0zM116.2 282.2h1.0v1.0h-1.0zM115.5 293.8h1.0v1.0h-1.0zM116.2 317.0h1.0v1.0h-1.0zM115.1 288.1h1.0v1.0h-1.0zM115.3 320.8h1.0v1.0h-1.0zM116.1 300.5h1.0v1.0h-1.0zM115.0 306.0h1.0v1.0h-1.0zM116.8 276.1h1.0v1.0h-1.0zM115.6 306.9h1.0v1.0h-1.0zM117.1 305.2h1.0v1.0h-1.0zM116.8 287.1h1.0v1.0h-1.0zM115.9 283.5h1.0v1.0h-1.0zM115.9 307.9h1.0v1.0h-1.0zM116.6 271.6h1.0v1.0h-1.0zM115.0 315.3h1.0v1.0h-1.0zM116.3 286.8h1.0v1.0h-1.0zM116.6 272.9h1.0v1.0h-1.0zM116.5 301.7h1.0v1.0h-1.0zM114.9 294.1h1.0v1.0h-1.0zM114.6 310.5h1.0v1.0h-1.0zM114.9 311.6h1.0v1.0h-1.0zM116.7 273.1h1.0v1.0h-1.0zM116.1 304.4h1.0v1.0h-1.0zM115.1 319.9h1.0v1.0h-1.0zM115.4 313.2h1.0v1.0h-1.0zM115.4 308.8h1.0v1.0h-1.0zM114.8 286.8h1.0v1.0h-1.0zM115.1 299.0h1.0v1.0h-1.0zM116.0 305.3h1.0v1.0h-1.0zM116.4 290.5h1.0v1.0h-1.0zM116.6 288.2h1.0v1.0h-1.0zM116.1 294.9h1.0v1.0h-1.0zM114.4 269.0h1.0v1.0h-1.0zM116.2 280.9h1.0v1.0h-1.0zM116.5 272.3h1.0v1.0h-1.0zM114.5 320.3h1.0v1.0h-1.0zM117.6 274.1h1.0v1.0h-1.0zM116.1 275.4h1.0v1.0h-1.0zM116.9 275.2h1.0v1.0h-1.0zM116.1 296.9h1.0v1.0h-1.0zM116.3 286.6h1.0v1.0h-1.0zM116.1 309.7h1.0v1.0h-1.0zM115.8 289.2h1.0v1.0h-1.0zM116.8 276.2h1.0v1.0h-1.0zM116.0 293.3h1.0v1.0h-1.0zM114.6 316.1h1.0v1.0h-1.0zM115.7 275.8h1.0v1.0h-1.0zM114.6 315.9h1.0v1.0h-1.0zM114.5 303.8h1.0v1.0h-1.0zM114.3 325.6h1.0v1.0h-1.0zM115.7 305.7h1.0v1.0h-1.0zM114.9 289.7h1.0v1.0h-1.0zM115.5 322.2h1.0v1.0h-1.0zM115.6 291.1h1.0v1.0h-1.0zM115.2 308.8h1.0v1.0h-1.0zM114.6 314.7h1.0v1.0h-1.0zM115.6 306.6h1.0v1.0h-1.0zM115.1 295.2h1.0v1.0h-1.0zM116.2 291.6h1.0v1.0h-1.0zM116.6 279.1h1.0v1.0h-1.0zM114.7 295.1h1.0v1.0h-1.0zM115.5 314.8h1.0v1.0h-1.0zM114.1 323.3h1.0v1.0h-1.0zM115.9 305.9h1.0v1.0h-1.0zM114.1 316.1h1.0v1.0h-1.0zM114.8 311.7h1.0v1.0h-1.0zM115.9 316.6h1.0v1.0h-1.0zM115.5 307.3h1.0v1.0h-1.0zM116.3 287.8h1.0v1.0h-1.0zM114.4 277.1h1.0v1.0h-1.0zM116.3 289.6h1.0v1.0h-1.0zM114.8 317.8h1.0v1.0h-1.0zM116.3 307.8h1.0v1.0h-1.0zM116.1 280.7h1.0v1.0h-1.0zM116.1 273.4h1.0v1.0h-1.0zM114.3 323.6h1.0v1.0h-1.0zM114.8 312.3h1.0v1.0h-1.0zM115.6 297.8h1.0v1.0h-1.0zM116.6 293.8h1.0v1.0h-1.0zM116.4 297.6h1.0v1.0h-1.0zM115.7 286.0h1.0v1.0h-1.0zM114.5 325.8h1.0v1.0h-1.0zM115.2 281.4h1.0v1.0h-1.0zM117.4 276.1h1.0v1.0h-1.0zM115.3 317.9h1.0v1.0h-1.0zM115.1 293.0h1.0v1.0h-1.0zM117.3 274.2h1.0v1.0h-1.0zM116.2 288.4h1.0v1.0h-1.0zM115.4 322.0h1.0v1.0h-1.0zM116.8 276.6h1.0v1.0h-1.0zM116.4 277.3h1.0v1.0h-1.0zM114.8 323.2h1.0v1.0h-1.0zM114.9 279.1h1.0v1.0h-1.0zM114.7 306.2h1.0v1.0h-1.0zM115.7 268.7h1.0v1.0h-1.0zM116.3 283.0h1.0v1.0h-1.0zM115.2 296.6h1.0v1.0h-1.0zM116.2 294.7h1.0v1.0h-1.0zM115.4 325.9h1.0v1.0h-1.0zM117.4 272.0h1.0v1.0h-1.0zM117.1 281.7h1.0v1.0h-1.0zM114.2 279.4h1.0v1.0h-1.0zM115.8 324.1h1.0v1.0h-1.0zM115.3 317.9h1.0v1.0h-1.0zM116.0 286.5h1.0v1.0h-1.0zM115.4 293.8h1.0v1.0h-1.0zM115.9 292.7h1.0v1.0h-1.0zM116.4 272.4h1.0v1.0h-1.0zM115.3 296.0h1.0v1.0h-1.0zM114.4 305.8h1.0v1.0h-1.0zM117.2 274.2h1.0v1.0h-1.0zM116.3 286.1h1.0v1.0h-1.0zM114.8 312.2h1.0v1.0h-1.0zM115.2 308.0h1.0v1.0h-1.0zM116.5 285.4h1.0v1.0h-1.0zM114.8 322.1h1.0v1.0h-1.0zM116.1 288.4h1.0v1.0h-1.0zM116.1 305.1h1.0v1.0h-1.0zM116.5 287.9h1.0v1.0h-1.0zM116.3 268.2h1.0v1.0h-1.0zM114.8 317.8h1.0v1.0h-1.0zM115.6 289.4h1.0v1.0h-1.0zM115.9 306.7h1.0v1.0h-1.0zM115.7 291.5h1.0v1.0h-1.0zM116.3 308.2h1.0v1.0h-1.0zM117.4 279.0h1.0v1.0h-1.0zM116.7 295.3h1.0v1.0h-1.0zM116.1 299.3h1.0v1.0h-1.0zM115.2 281.8h1.0v1.0h-1.0zM117.3 279.2h1.0v1.0h-1.0zM116.3 292.3h1.0v1.0h-1.0zM115.5 289.2h1.0v1.0h-1.0zM115.7 269.2h1.0v1.0h-1.0zM114.9 315.3h1.0v1.0h-1.0zM115.9 293.7h1.0v1.0h-1.0zM114.8 299.7h1.0v1.0h-1.0zM115.8 318.2h1.0v1.0h-1.0zM115.7 286.8h1.0v1.0h-1.0zM115.4 319.9h1.0v1.0h-1.0zM114.5 306.4h1.0v1.0h-1.0zM116.8 314.7h1.0v1.0h-1.0zM116.3 296.6h1.0v1.0h-1.0zM115.7 295.0h1.0v1.0h-1.0zM115.0 296.1h1.0v1.0h-1.0zM116.1 312.9h1.0v1.0h-1.0zM115.9 276.3h1.0v1.0h-1.0zM115.6 290.4h1.0v1.0h-1.0zM114.6 323.9h1.0v1.0h-1.0zM114.5 324.6h1.0v1.0h-1.0zM115.4 307.6h1.0v1.0h-1.0zM115.9 289.8h1.0v1.0h-1.0zM115.0 316.7h1.0v1.0h-1.0zM115.5 272.6h1.0v1.0h-1.0zM116.9 286.9h1.0v1.0h-1.0zM117.6 268.3h1.0v1.0h-1.0zM114.7 320.4h1.0v1.0h-1.0zM116.2 304.8h1.0v1.0h-1.0zM116.1 281.0h1.0v1.0h-1.0zM115.3 312.5h1.0v1.0h-1.0zM117.6 277.4h1.0v1.0h-1.0zM117.1 290.2h1.0v1.0h-1.0zM116.0 271.6h1.0v1.0h-1.0zM116.2 294.2h1.0v1.0h-1.0zM115.4 290.5h1.0v1.0h-1.0zM114.8 290.0h1.0v1.0h-1.0zM116.2 297.1h1.0v1.0h-1.0zM115.5 314.5h1.0v1.0h-1.0zM116.2 294.8h1.0v1.0h-1.0zM116.5 312.0h1.0v1.0h-1.0zM115.1 315.5h1.0v1.0h-1.0zM115.6 310.2h1.0v1.0h-1.0zM115.5 308.9h1.0v1.0h-1.0zM114.7 283.1h1.0v1.0h-1.0zM115.7 291.2h1.0v1.0h-1.0zM114.5 306.4h1.0v1.0h-1.0zM115.3 313.4h1.0v1.0h-1.0zM114.9 305.5h1.0v1.0h-1.0zM115.4 270.1h1.0v1.0h-1.0zM116.9 283.7h1.0v1.0h-1.0zM115.8 278.1h1.0v1.0h-1.0zM115.7 288.1h1.0v1.0h-1.0zM115.8 299.1h1.0v1.0h-1.0zM114.5 282.4h1.0v1.0h-1.0zM114.8 311.0h1.0v1.0h-1.0zM115.7 272.0h1.0v1.0h-1.0zM115.8 301.7h1.0v1.0h-1.0zM115.9 293.4h1.0v1.0h-1.0zM115.2 298.3h1.0v1.0h-1.0zM117.2 283.5h1.0v1.0h-1.0zM115.0 313.7h1.0v1.0h-1.0zM115.7 270.3h1.0v1.0h-1.0zM116.3 279.8h1.0v1.0h-1.0zM114.6 325.2h1.0v1.0h-1.0zM116.3 299.4h1.0v1.0h-1.0zM116.5 271.1h1.0v1.0h-1.0zM114.7 322.7h1.0v1.0h-1.0zM117.2 292.5h1.0v1.0h-1.0zM115.8 277.8h1.0v1.0h-1.0zM115.2 313.7h1.0v1.0h-1.0zM115.6 307.5h1.0v1.0h-1.0zM116.2 281.4h1.0v1.0h-1.0zM115.6 309.1h1.0v1.0h-1.0zM114.9 294.3h1.0v1.0h-1.0zM116.3 269.4h1.0v1.0h-1.0zM114.6 285.0h1.0v1.0h-1.0zM115.8 281.3h1.0v1.0h-1.0zM115.7 292.4h1.0v1.0h-1.0zM116.5 277.0h1.0v1.0h-1.0zM115.5 279.5h1.0v1.0h-1.0zM116.3 277.5h1.0v1.0h-1.0zM115.7 279.8h1.0v1.0h-1.0zM115.2 317.1h1.0v1.0h-1.0zM115.5 273.4h1.0v1.0h-1.0zM116.2 297.2h1.0v1.0h-1.0zM115.7 313.7h1.0v1.0h-1.0zM114.7 297.1h1.0v1.0h-1.0zM115.5 294.6h1.0v1.0h-1.0zM102.6 694.3h1.0v1.0h-1.0zM102.6 709.8h1.0v1.0h-1.0zM102.4 708.0h1.0v1.0h-1.0zM102.2 743.3h1.0v1.0h-1.0zM102.5 685.8h1.0v1.0h-1.0zM102.3 749.6h1.0v1.0h-1.0zM102.8 724.9h1.0v1.0h-1.0zM101.5 739.1h1.0v1.0h-1.0zM103.0 723.7h1.0v1.0h-1.0zM102.2 699.3h1.0v1.0h-1.0zM101.1 724.0h1.0v1.0h-1.0zM102.4 704.4h1.0v1.0h-1.0zM102.5 695.1h1.0v1.0h-1.0zM102.1 735.2h1.0v1.0h-1.0zM102.3 720.0h1.0v1.0h-1.0zM102.3 692.4h1.0v1.0h-1.0zM101.8 703.0h1.0v1.0h-1.0zM103.1 749.1h1.0v1.0h-1.0zM101.6 707.7h1.0v1.0h-1.0zM101.9 711.6h1.0v1.0h-1.0zM100.6 741.4h1.0v1.0h-1.0zM102.5 712.1h1.0v1.0h-1.0zM101.7 748.0h1.0v1.0h-1.0zM103.0 712.0h1.0v1.0h-1.0zM101.1 740.2h1.0v1.0h-1.0zM103.1 748.0h1.0v1.0h-1.0zM100.8 727.9h1.0v1.0h-1.0zM102.0 699.4h1.0v1.0h-1.0zM102.1 746.3h1.0v1.0h-1.0zM101.8 744.4h1.0v1.0h-1.0zM102.8 706.7h1.0v1.0h-1.0zM101.5 749.2h1.0v1.0h-1.0zM101.9 741.0h1.0v1.0h-1.0zM102.1 746.9h1.0v1.0h-1.0zM102.1 702.5h1.0v1.0h-1.0zM102.0 695.9h1.0v1.0h-1.0zM102.2 687.2h1.0v1.0h-1.0zM101.9 723.8h1.0v1.0h-1.0zM102.7 686.4h1.0v1.0h-1.0zM101.7 693.6h1.0v1.0h-1.0zM102.1 687.1h1.0v1.0h-1.0zM102.3 711.4h1.0v1.0h-1.0zM102.4 706.4h1.0v1.0h-1.0zM102.8 706.9h1.0v1.0h-1.0zM101.8 703.2h1.0v1.0h-1.0zM102.5 690.9h1.0v1.0h-1.0zM102.1 712.6h1.0v1.0h-1.0zM100.9 739.7h1.0v1.0h-1.0zM102.5 712.6h1.0v1.0h-1.0zM101.3 739.0h1.0v1.0h-1.0zM101.8 739.0h1.0v1.0h-1.0zM102.3 702.7h1.0v1.0h-1.0zM101.7 736.4h1.0v1.0h-1.0zM101.7 700.2h1.0v1.0h-1.0zM102.4 725.1h1.0v1.0h-1.0zM102.7 742.3h1.0v1.0h-1.0zM101.8 713.8h1.0v1.0h-1.0zM101.9 728.1h1.0v1.0h-1.0zM102.3 729.9h1.0v1.0h-1.0zM102.1 730.7h1.0v1.0h-1.0zM102.0 701.8h1.0v1.0h-1.0zM103.2 745.6h1.0v1.0h-1.0zM101.9 724.5h1.0v1.0h-1.0zM101.7 693.5h1.0v1.0h-1.0zM101.9 710.7h1.0v1.0h-1.0zM102.2 691.3h1.0v1.0h-1.0zM101.6 736.6h1.0v1.0h-1.0zM101.6 705.5h1.0v1.0h-1.0zM101.3 720.5h1.0v1.0h-1.0zM103.1 712.0h1.0v1.0h-1.0zM102.3 710.7h1.0v1.0h-1.0zM101.4 735.0h1.0v1.0h-1.0zM102.4 742.1h1.0v1.0h-1.0zM102.3 698.2h1.0v1.0h-1.0zM102.8 747.9h1.0v1.0h-1.0zM101.5 725.7h1.0v1.0h-1.0zM102.8 749.4h1.0v1.0h-1.0zM102.5 721.6h1.0v1.0h-1.0zM101.4 737.7h1.0v1.0h-1.0zM102.2 710.4h1.0v1.0h-1.0zM102.2 748.7h1.0v1.0h-1.0zM102.2 703.7h1.0v1.0h-1.0zM100.8 737.3h1.0v1.0h-1.0zM102.2 722.3h1.0v1.0h-1.0zM101.8 728.1h1.0v1.0h-1.0zM102.5 722.8h1.0v1.0h-1.0zM102.2 742.4h1.0v1.0h-1.0zM101.8 716.9h1.0v1.0h-1.0zM101.5 730.4h1.0v1.0h-1.0zM101.9 747.6h1.0v1.0h-1.0zM102.2 692.8h1.0v1.0h-1.0zM102.0 738.8h1.0v1.0h-1.0zM101.4 702.7h1.0v1.0h-1.0zM102.8 708.8h1.0v1.0h-1.0zM102.6 736.0h1.0v1.0h-1.0zM102.1 712.5h1.0v1.0h-1.0zM102.2 694.1h1.0v1.0h-1.0zM102.4 722.8h1.0v1.0h-1.0zM102.2 728.6h1.0v1.0h-1.0zM102.0 722.7h1.0v1.0h-1.0zM102.8 747.4h1.0v1.0h-1.0zM102.0 707.8h1.0v1.0h-1.0zM101.9 725.4h1.0v1.0h-1.0zM102.1 713.9h1.0v1.0h-1.0zM102.0 715.0h1.0v1.0h-1.0zM102.2 712.0h1.0v1.0h-1.0zM103.7 704.3h1.0v1.0h-1.0zM101.8 718.5h1.0v1.0h-1.0zM102.3 731.3h1.0v1.0h-1.0zM102.5 727.4h1.0v1.0h-1.0zM101.2 745.9h1.0v1.0h-1.0zM101.9 737.5h1.0v1.0h-1.0zM101.3 711.1h1.0v1.0h-1.0zM101.7 727.8h1.0v1.0h-1.0zM101.2 742.1h1.0v1.0h-1.0zM102.2 718.0h1.0v1.0h-1.0zM101.8 690.8h1.0v1.0h-1.0zM102.7 749.5h1.0v1.0h-1.0zM101.9 693.0h1.0v1.0h-1.0zM101.9 707.7h1.0v1.0h-1.0zM101.8 713.4h1.0v1.0h-1.0zM101.6 718.9h1.0v1.0h-1.0zM102.5 692.5h1.0v1.0h-1.0zM101.2 746.8h1.0v1.0h-1.0zM102.8 746.6h1.0v1.0h-1.0zM102.0 726.8h1.0v1.0h-1.0zM101.5 691.3h1.0v1.0h-1.0zM102.1 714.0h1.0v1.0h-1.0zM101.8 704.6h1.0v1.0h-1.0zM101.7 705.7h1.0v1.0h-1.0zM102.7 705.6h1.0v1.0h-1.0zM102.4 716.8h1.0v1.0h-1.0zM100.9 688.2h1.0v1.0h-1.0zM102.0 713.3h1.0v1.0h-1.0zM102.0 686.0h1.0v1.0h-1.0zM101.9 691.9h1.0v1.0h-1.0zM102.8 712.1h1.0v1.0h-1.0zM101.6 730.3h1.0v1.0h-1.0zM101.6 708.8h1.0v1.0h-1.0zM102.1 714.7h1.0v1.0h-1.0zM102.5 690.9h1.0v1.0h-1.0zM101.3 716.2h1.0v1.0h-1.0zM101.9 730.5h1.0v1.0h-1.0zM101.9 731.5h1.0v1.0h-1.0zM102.4 716.3h1.0v1.0h-1.0zM103.1 698.6h1.0v1.0h-1.0zM102.5 722.7h1.0v1.0h-1.0zM101.8 735.5h1.0v1.0h-1.0zM101.7 695.7h1.0v1.0h-1.0zM101.0 686.4h1.0v1.0h-1.0zM102.1 702.5h1.0v1.0h-1.0zM102.5 717.4h1.0v1.0h-1.0zM102.4 713.7h1.0v1.0h-1.0zM101.7 746.8h1.0v1.0h-1.0zM102.8 700.8h1.0v1.0h-1.0zM101.5 712.0h1.0v1.0h-1.0zM102.6 718.0h1.0v1.0h-1.0zM102.3 744.1h1.0v1.0h-1.0zM101.7 738.4h1.0v1.0h-1.0zM102.7 742.5h1.0v1.0h-1.0zM101.6 696.8h1.0v1.0h-1.0zM101.7 701.5h1.0v1.0h-1.0zM102.2 730.3h1.0v1.0h-1.0zM103.1 728.5h1.0v1.0h-1.0zM102.4 689.4h1.0v1.0h-1.0zM101.8 698.1h1.0v1.0h-1.0zM102.9 712.8h1.0v1.0h-1.0zM103.2 698.5h1.0v1.0h-1.0zM102.2 711.5h1.0v1.0h-1.0zM102.1 715.6h1.0v1.0h-1.0zM101.5 734.4h1.0v1.0h-1.0zM101.6 708.6h1.0v1.0h-1.0zM101.4 704.3h1.0v1.0h-1.0zM101.6 708.8h1.0v1.0h-1.0zM101.2 716.0h1.0v1.0h-1.0zM101.9 741.5h1.0v1.0h-1.0zM101.7 691.6h1.0v1.0h-1.0zM101.9 702.0h1.0v1.0h-1.0zM102.3 716.5h1.0v1.0h-1.0zM101.6 695.3h1.0v1.0h-1.0zM101.7 713.2h1.0v1.0h-1.0zM102.1 715.8h1.0v1.0h-1.0zM103.3 713.0h1.0v1.0h-1.0zM102.5 707.6h1.0v1.0h-1.0zM101.1 701.4h1.0v1.0h-1.0zM102.4 707.7h1.0v1.0h-1.0zM102.3 740.2h1.0v1.0h-1.0zM101.9 708.8h1.0v1.0h-1.0zM100.4 738.8h1.0v1.0h-1.0zM101.6 728.6h1.0v1.0h-1.0zM102.2 710.7h1.0v1.0h-1.0zM103.1 724.7h1.0v1.0h-1.0zM102.5 709.2h1.0v1.0h-1.0zM101.8 747.6h1.0v1.0h-1.0zM101.9 690.3h1.0v1.0h-1.0zM102.4 746.3h1.0v1.0h-1.0zM102.3 726.9h1.0v1.0h-1.0zM102.8 721.0h1.0v1.0h-1.0zM100.5 728.0h1.0v1.0h-1.0zM102.1 727.7h1.0v1.0h-1.0zM102.0 690.3h1.0v1.0h-1.0zM101.8 703.2h1.0v1.0h-1.0zM101.9 698.3h1.0v1.0h-1.0zM101.7 713.7h1.0v1.0h-1.0zM101.6 717.6h1.0v1.0h-1.0zM101.1 731.3h1.0v1.0h-1.0zM101.7 723.2h1.0v1.0h-1.0zM102.3 715.1h1.0v1.0h-1.0zM102.7 724.5h1.0v1.0h-1.0zM102.0 720.3h1.0v1.0h-1.0zM103.2 740.7h1.0v1.0h-1.0zM102.9 728.0h1.0v1.0h-1.0zM101.1 703.2h1.0v1.0h-1.0zM102.1 706.8h1.0v1.0h-1.0zM102.1 702.2h1.0v1.0h-1.0zM102.4 728.9h1.0v1.0h-1.0zM102.6 698.2h1.0v1.0h-1.0zM101.8 737.4h1.0v1.0h-1.0zM102.6 715.6h1.0v1.0h-1.0zM100.9 737.6h1.0v1.0h-1.0zM102.4 718.6h1.0v1.0h-1.0zM101.4 718.8h1.0v1.0h-1.0zM101.4 722.3h1.0v1.0h-1.0zM102.6 742.8h1.0v1.0h-1.0zM101.8 689.6h1.0v1.0h-1.0zM102.5 746.3h1.0v1.0h-1.0zM102.0 687.1h1.0v1.0h-1.0zM102.2 722.7h1.0v1.0h-1.0zM101.9 721.7h1.0v1.0h-1.0zM101.4 686.5h1.0v1.0h-1.0zM102.7 701.8h1.0v1.0h-1.0zM102.7 708.3h1.0v1.0h-1.0zM102.1 711.5h1.0v1.0h-1.0zM102.0 713.2h1.0v1.0h-1.0zM101.7 708.6h1.0v1.0h-1.0zM101.6 707.1h1.0v1.0h-1.0zM101.4 749.0h1.0v1.0h-1.0zM101.2 741.4h1.0v1.0h-1.0zM102.0 692.0h1.0v1.0h-1.0zM102.8 742.5h1.0v1.0h-1.0zM101.9 692.4h1.0v1.0h-1.0zM102.3 731.1h1.0v1.0h-1.0zM102.3 717.8h1.0v1.0h-1.0zM101.7 706.0h1.0v1.0h-1.0zM102.5 726.5h1.0v1.0h-1.0zM102.0 691.0h1.0v1.0h-1.0zM102.8 708.2h1.0v1.0h-1.0zM102.8 723.9h1.0v1.0h-1.0zM102.0 703.3h1.0v1.0h-1.0zM101.9 743.6h1.0v1.0h-1.0zM103.2 744.8h1.0v1.0h-1.0zM101.5 727.1h1.0v1.0h-1.0zM103.0 703.4h1.0v1.0h-1.0zM102.9 743.3h1.0v1.0h-1.0zM101.9 691.1h1.0v1.0h-1.0zM102.0 699.2h1.0v1.0h-1.0zM102.6 722.5h1.0v1.0h-1.0zM101.4 732.4h1.0v1.0h-1.0zM101.6 709.5h1.0v1.0h-1.0zM102.6 744.3h1.0v1.0h-1.0zM102.2 697.6h1.0v1.0h-1.0zM102.3 701.5h1.0v1.0h-1.0zM103.4 707.7h1.0v1.0h-1.0zM102.2 718.4h1.0v1.0h-1.0zM101.8 747.1h1.0v1.0h-1.0zM102.7 722.2h1.0v1.0h-1.0zM102.4 695.3h1.0v1.0h-1.0zM101.9 698.4h1.0v1.0h-1.0zM101.6 706.4h1.0v1.0h-1.0zM102.3 700.6h1.0v1.0h-1.0zM101.9 723.3h1.0v1.0h-1.0zM101.6 745.4h1.0v1.0h-1.0zM101.8 706.5h1.0v1.0h-1.0zM102.8 717.0h1.0v1.0h-1.0zM102.0 695.4h1.0v1.0h-1.0zM102.2 733.0h1.0v1.0h-1.0zM101.2 740.8h1.0v1.0h-1.0zM101.5 701.0h1.0v1.0h-1.0zM101.2 708.8h1.0v1.0h-1.0zM102.1 699.7h1.0v1.0h-1.0zM101.8 702.6h1.0v1.0h-1.0zM100.8 739.3h1.0v1.0h-1.0zM103.4 734.0h1.0v1.0h-1.0zM102.1 704.8h1.0v1.0h-1.0zM101.6 721.0h1.0v1.0h-1.0zM102.5 694.0h1.0v1.0h-1.0zM102.3 694.4h1.0v1.0h-1.0zM102.3 721.5h1.0v1.0h-1.0zM103.0 742.2h1.0v1.0h-1.0zM102.0 714.1h1.0v1.0h-1.0zM102.5 715.8h1.0v1.0h-1.0zM101.6 723.2h1.0v1.0h-1.0zM101.4 724.7h1.0v1.0h-1.0zM101.5 725.7h1.0v1.0h-1.0zM102.2 695.1h1.0v1.0h-1.0zM102.1 739.2h1.0v1.0h-1.0zM101.8 702.0h1.0v1.0h-1.0zM102.3 717.7h1.0v1.0h-1.0zM102.6 699.3h1.0v1.0h-1.0zM101.5 695.8h1.0v1.0h-1.0zM102.4 704.3h1.0v1.0h-1.0zM102.6 729.9h1.0v1.0h-1.0zM102.3 728.4h1.0v1.0h-1.0zM102.4 720.7h1.0v1.0h-1.0zM101.9 745.8h1.0v1.0h-1.0zM101.3 748.9h1.0v1.0h-1.0zM102.6 704.7h1.0v1.0h-1.0zM101.7 718.3h1.0v1.0h-1.0zM102.4 714.4h1.0v1.0h-1.0zM102.9 730.6h1.0v1.0h-1.0zM102.8 742.4h1.0v1.0h-1.0zM102.2 704.6h1.0v1.0h-1.0zM102.2 705.0h1.0v1.0h-1.0zM102.6 688.6h1.0v1.0h-1.0zM102.9 732.9h1.0v1.0h-1.0zM101.6 712.9h1.0v1.0h-1.0zM101.5 686.6h1.0v1.0h-1.0zM102.3 742.0h1.0v1.0h-1.0zM102.4 727.2h1.0v1.0h-1.0zM102.1 712.4h1.0v1.0h-1.0zM102.1 701.4h1.0v1.0h-1.0zM101.9 688.9h1.0v1.0h-1.0zM102.2 687.3h1.0v1.0h-1.0zM101.2 732.2h1.0v1.0h-1.0zM102.4 718.5h1.0v1.0h-1.0zM102.5 695.9h1.0v1.0h-1.0zM102.3 693.5h1.0v1.0h-1.0zM101.5 734.0h1.0v1.0h-1.0zM101.8 746.9h1.0v1.0h-1.0zM102.2 719.5h1.0v1.0h-1.0zM102.0 717.8h1.0v1.0h-1.0zM102.2 688.5h1.0v1.0h-1.0zM102.3 736.4h1.0v1.0h-1.0zM101.5 720.7h1.0v1.0h-1.0zM102.3 711.6h1.0v1.0h-1.0zM103.4 725.8h1.0v1.0h-1.0zM101.8 743.4h1.0v1.0h-1.0zM101.6 749.9h1.0v1.0h-1.0zM102.2 702.9h1.0v1.0h-1.0zM102.2 690.1h1.0v1.0h-1.0zM102.5 693.2h1.0v1.0h-1.0zM102.5 730.0h1.0v1.0h-1.0zM102.6 710.2h1.0v1.0h-1.0zM101.9 702.2h1.0v1.0h-1.0zM102.5 686.5h1.0v1.0h-1.0zM102.5 722.4h1.0v1.0h-1.0zM102.9 740.6h1.0v1.0h-1.0zM102.8 709.4h1.0v1.0h-1.0zM101.7 703.6h1.0v1.0h-1.0zM101.6 703.6h1.0v1.0h-1.0zM101.8 722.9h1.0v1.0h-1.0zM103.0 740.1h1.0v1.0h-1.0zM102.3 732.0h1.0v1.0h-1.0zM101.2 737.7h1.0v1.0h-1.0zM102.0 722.2h1.0v1.0h-1.0zM101.4 698.5h1.0v1.0h-1.0zM103.0 692.7h1.0v1.0h-1.0zM102.4 700.0h1.0v1.0h-1.0zM101.5 701.7h1.0v1.0h-1.0zM102.3 712.7h1.0v1.0h-1.0zM103.6 730.0h1.0v1.0h-1.0zM102.3 721.4h1.0v1.0h-1.0zM101.4 716.6h1.0v1.0h-1.0zM101.9 705.1h1.0v1.0h-1.0zM102.5 713.8h1.0v1.0h-1.0zM102.8 686.8h1.0v1.0h-1.0zM102.5 707.5h1.0v1.0h-1.0zM102.4 712.1h1.0v1.0h-1.0zM101.6 698.1h1.0v1.0h-1.0zM102.5 720.9h1.0v1.0h-1.0zM102.8 687.4h1.0v1.0h-1.0zM101.7 716.1h1.0v1.0h-1.0zM101.7 694.6h1.0v1.0h-1.0zM101.6 730.2h1.0v1.0h-1.0zM102.3 700.0h1.0v1.0h-1.0zM102.0 704.7h1.0v1.0h-1.0zM103.0 708.9h1.0v1.0h-1.0zM102.7 686.4h1.0v1.0h-1.0zM102.4 687.6h1.0v1.0h-1.0zM102.3 698.8h1.0v1.0h-1.0zM101.2 740.8h1.0v1.0h-1.0zM101.9 745.8h1.0v1.0h-1.0zM102.1 686.5h1.0v1.0h-1.0zM103.2 743.5h1.0v1.0h-1.0zM102.1 738.9h1.0v1.0h-1.0zM102.8 732.7h1.0v1.0h-1.0zM102.4 744.1h1.0v1.0h-1.0zM102.5 713.8h1.0v1.0h-1.0zM101.9 708.8h1.0v1.0h-1.0zM101.5 685.8h1.0v1.0h-1.0zM102.7 743.2h1.0v1.0h-1.0zM102.8 746.4h1.0v1.0h-1.0zM101.2 699.1h1.0v1.0h-1.0zM101.8 716.0h1.0v1.0h-1.0zM102.1 709.8h1.0v1.0h-1.0zM102.4 693.9h1.0v1.0h-1.0zM101.5 703.8h1.0v1.0h-1.0zM103.4 739.9h1.0v1.0h-1.0zM102.0 724.3h1.0v1.0h-1.0zM102.4 717.4h1.0v1.0h-1.0zM102.1 719.8h1.0v1.0h-1.0zM102.7 704.8h1.0v1.0h-1.0zM102.5 708.6h1.0v1.0h-1.0zM102.6 696.2h1.0v1.0h-1.0zM101.9 700.7h1.0v1.0h-1.0zM102.3 693.4h1.0v1.0h-1.0zM102.5 709.5h1.0v1.0h-1.0zM103.6 743.3h1.0v1.0h-1.0zM102.7 737.7h1.0v1.0h-1.0zM102.1 711.7h1.0v1.0h-1.0zM103.1 743.1h1.0v1.0h-1.0zM101.8 730.7h1.0v1.0h-1.0zM102.4 730.5h1.0v1.0h-1.0zM102.3 714.6h1.0v1.0h-1.0zM101.9 696.5h1.0v1.0h-1.0zM102.0 739.4h1.0v1.0h-1.0zM102.4 715.7h1.0v1.0h-1.0zM101.4 694.7h1.0v1.0h-1.0zM102.2 715.0h1.0v1.0h-1.0zM100.8 740.8h1.0v1.0h-1.0zM101.0 707.2h1.0v1.0h-1.0zM102.7 729.0h1.0v1.0h-1.0zM102.1 729.5h1.0v1.0h-1.0zM102.4 694.1h1.0v1.0h-1.0zM102.3 703.6h1.0v1.0h-1.0zM100.7 742.6h1.0v1.0h-1.0zM103.0 744.4h1.0v1.0h-1.0zM102.0 691.1h1.0v1.0h-1.0zM101.8 736.8h1.0v1.0h-1.0zM101.9 739.9h1.0v1.0h-1.0zM100.2 738.1h1.0v1.0h-1.0zM101.1 703.8h1.0v1.0h-1.0zM102.6 733.2h1.0v1.0h-1.0zM101.0 727.8h1.0v1.0h-1.0zM102.4 732.9h1.0v1.0h-1.0zM102.4 690.6h1.0v1.0h-1.0zM101.3 741.6h1.0v1.0h-1.0zM101.4 741.7h1.0v1.0h-1.0zM101.4 721.8h1.0v1.0h-1.0zM101.6 713.3h1.0v1.0h-1.0zM101.9 702.2h1.0v1.0h-1.0zM101.7 709.1h1.0v1.0h-1.0zM101.9 689.9h1.0v1.0h-1.0zM101.7 685.7h1.0v1.0h-1.0zM103.3 743.4h1.0v1.0h-1.0zM102.1 736.2h1.0v1.0h-1.0zM101.8 693.0h1.0v1.0h-1.0zM101.6 697.2h1.0v1.0h-1.0zM102.4 744.6h1.0v1.0h-1.0zM102.1 735.0h1.0v1.0h-1.0zM102.6 740.5h1.0v1.0h-1.0zM102.1 706.4h1.0v1.0h-1.0zM102.4 694.2h1.0v1.0h-1.0zM101.7 739.2h1.0v1.0h-1.0zM101.1 713.2h1.0v1.0h-1.0zM101.7 743.1h1.0v1.0h-1.0zM101.5 727.8h1.0v1.0h-1.0zM101.5 727.2h1.0v1.0h-1.0zM102.5 738.7h1.0v1.0h-1.0zM102.3 704.4h1.0v1.0h-1.0zM102.1 693.4h1.0v1.0h-1.0zM101.9 693.2h1.0v1.0h-1.0zM102.3 688.6h1.0v1.0h-1.0zM102.0 736.5h1.0v1.0h-1.0zM102.2 748.3h1.0v1.0h-1.0zM102.4 688.4h1.0v1.0h-1.0zM101.9 704.0h1.0v1.0h-1.0zM101.9 686.7h1.0v1.0h-1.0zM102.7 724.1h1.0v1.0h-1.0zM101.9 721.7h1.0v1.0h-1.0zM102.0 724.0h1.0v1.0h-1.0zM102.6 689.6h1.0v1.0h-1.0zM102.0 711.9h1.0v1.0h-1.0zM101.8 745.3h1.0v1.0h-1.0zM102.8 688.5h1.0v1.0h-1.0zM102.4 700.8h1.0v1.0h-1.0zM101.7 687.3h1.0v1.0h-1.0zM102.1 687.7h1.0v1.0h-1.0zM101.8 727.4h1.0v1.0h-1.0zM102.0 742.6h1.0v1.0h-1.0zM102.8 702.9h1.0v1.0h-1.0zM101.0 746.9h1.0v1.0h-1.0zM101.2 721.6h1.0v1.0h-1.0zM102.4 705.5h1.0v1.0h-1.0zM101.8 691.1h1.0v1.0h-1.0zM101.7 698.3h1.0v1.0h-1.0zM101.2 745.4h1.0v1.0h-1.0zM102.8 705.9h1.0v1.0h-1.0zM102.8 723.1h1.0v1.0h-1.0zM102.0 699.8h1.0v1.0h-1.0zM101.8 710.0h1.0v1.0h-1.0zM102.4 711.2h1.0v1.0h-1.0zM102.7 742.1h1.0v1.0h-1.0zM102.3 747.3h1.0v1.0h-1.0zM102.0 703.7h1.0v1.0h-1.0zM101.5 705.2h1.0v1.0h-1.0zM102.2 697.4h1.0v1.0h-1.0zM103.1 704.5h1.0v1.0h-1.0zM101.6 714.3h1.0v1.0h-1.0zM101.2 688.7h1.0v1.0h-1.0zM101.1 747.0h1.0v1.0h-1.0zM102.0 690.0h1.0v1.0h-1.0zM102.6 704.2h1.0v1.0h-1.0zM102.7 724.8h1.0v1.0h-1.0zM101.9 697.6h1.0v1.0h-1.0zM101.8 714.8h1.0v1.0h-1.0zM102.7 689.9h1.0v1.0h-1.0zM102.2 721.9h1.0v1.0h-1.0zM102.6 740.0h1.0v1.0h-1.0zM102.0 706.7h1.0v1.0h-1.0zM102.4 701.6h1.0v1.0h-1.0zM102.1 699.2h1.0v1.0h-1.0zM102.7 689.9h1.0v1.0h-1.0zM101.7 688.0h1.0v1.0h-1.0zM101.4 726.2h1.0v1.0h-1.0zM102.4 725.9h1.0v1.0h-1.0zM100.8 742.6h1.0v1.0h-1.0zM102.3 713.3h1.0v1.0h-1.0zM102.6 694.8h1.0v1.0h-1.0zM102.3 708.3h1.0v1.0h-1.0zM102.2 745.2h1.0v1.0h-1.0zM102.4 720.3h1.0v1.0h-1.0zM102.2 721.1h1.0v1.0h-1.0zM101.5 690.6h1.0v1.0h-1.0zM102.0 696.0h1.0v1.0h-1.0zM101.6 733.0h1.0v1.0h-1.0zM103.1 742.0h1.0v1.0h-1.0zM102.5 705.8h1.0v1.0h-1.0zM102.0 741.0h1.0v1.0h-1.0zM102.3 704.1h1.0v1.0h-1.0zM101.9 712.0h1.0v1.0h-1.0zM102.8 700.2h1.0v1.0h-1.0zM101.6 731.5h1.0v1.0h-1.0zM103.1 705.8h1.0v1.0h-1.0zM102.8 745.5h1.0v1.0h-1.0zM101.5 725.2h1.0v1.0h-1.0zM101.9 711.1h1.0v1.0h-1.0zM102.2 704.3h1.0v1.0h-1.0zM102.3 692.1h1.0v1.0h-1.0zM102.6 710.1h1.0v1.0h-1.0zM101.9 719.9h1.0v1.0h-1.0zM101.7 708.2h1.0v1.0h-1.0zM102.1 730.5h1.0v1.0h-1.0zM100.9 717.2h1.0v1.0h-1.0zM101.5 745.4h1.0v1.0h-1.0zM101.9 689.8h1.0v1.0h-1.0zM101.5 714.3h1.0v1.0h-1.0zM103.5 734.7h1.0v1.0h-1.0zM102.5 740.3h1.0v1.0h-1.0zM102.1 731.5h1.0v1.0h-1.0zM102.5 722.9h1.0v1.0h-1.0zM102.1 711.2h1.0v1.0h-1.0zM101.7 726.8h1.0v1.0h-1.0zM102.4 731.1h1.0v1.0h-1.0zM101.3 733.4h1.0v1.0h-1.0zM101.7 722.1h1.0v1.0h-1.0zM102.7 735.9h1.0v1.0h-1.0zM102.2 686.8h1.0v1.0h-1.0zM102.6 726.4h1.0v1.0h-1.0zM102.3 741.8h1.0v1.0h-1.0zM101.3 733.5h1.0v1.0h-1.0zM101.8 726.1h1.0v1.0h-1.0zM102.8 741.1h1.0v1.0h-1.0zM102.0 716.6h1.0v1.0h-1.0zM102.5 707.7h1.0v1.0h-1.0zM102.1 747.7h1.0v1.0h-1.0zM101.5 705.8h1.0v1.0h-1.0zM102.7 746.7h1.0v1.0h-1.0zM101.9 740.2h1.0v1.0h-1.0zM100.9 742.7h1.0v1.0h-1.0zM103.1 745.0h1.0v1.0h-1.0zM102.0 701.1h1.0v1.0h-1.0zM101.8 691.3h1.0v1.0h-1.0zM100.7 731.2h1.0v1.0h-1.0zM101.8 740.8h1.0v1.0h-1.0zM102.2 693.0h1.0v1.0h-1.0zM101.3 687.2h1.0v1.0h-1.0zM101.9 700.8h1.0v1.0h-1.0zM100.9 714.0h1.0v1.0h-1.0zM102.6 728.6h1.0v1.0h-1.0zM102.1 736.2h1.0v1.0h-1.0zM102.5 703.3h1.0v1.0h-1.0zM103.1 726.0h1.0v1.0h-1.0zM101.7 735.7h1.0v1.0h-1.0zM100.8 705.2h1.0v1.0h-1.0zM102.7 733.3h1.0v1.0h-1.0zM101.7 703.4h1.0v1.0h-1.0zM101.2 687.0h1.0v1.0h-1.0zM102.3 703.1h1.0v1.0h-1.0zM101.7 688.8h1.0v1.0h-1.0zM103.0 708.1h1.0v1.0h-1.0zM102.4 698.8h1.0v1.0h-1.0zM100.8 740.2h1.0v1.0h-1.0zM102.1 711.6h1.0v1.0h-1.0zM101.8 702.9h1.0v1.0h-1.0zM102.5 711.8h1.0v1.0h-1.0zM101.9 733.0h1.0v1.0h-1.0zM102.9 740.9h1.0v1.0h-1.0zM102.4 704.6h1.0v1.0h-1.0zM103.4 719.1h1.0v1.0h-1.0zM102.3 701.9h1.0v1.0h-1.0zM101.8 715.4h1.0v1.0h-1.0zM102.1 698.0h1.0v1.0h-1.0zM101.6 746.5h1.0v1.0h-1.0zM101.4 731.2h1.0v1.0h-1.0zM102.2 711.6h1.0v1.0h-1.0zM102.3 697.4h1.0v1.0h-1.0zM101.9 713.2h1.0v1.0h-1.0zM102.1 749.2h1.0v1.0h-1.0zM101.6 702.5h1.0v1.0h-1.0zM101.7 722.1h1.0v1.0h-1.0zM101.8 713.1h1.0v1.0h-1.0zM100.6 737.8h1.0v1.0h-1.0zM100.8 749.4h1.0v1.0h-1.0zM101.8 706.9h1.0v1.0h-1.0zM101.4 744.4h1.0v1.0h-1.0zM101.9 689.9h1.0v1.0h-1.0zM101.0 710.7h1.0v1.0h-1.0zM102.3 707.2h1.0v1.0h-1.0zM102.7 699.6h1.0v1.0h-1.0zM102.0 702.8h1.0v1.0h-1.0zM102.3 713.1h1.0v1.0h-1.0zM102.1 719.2h1.0v1.0h-1.0zM102.4 689.9h1.0v1.0h-1.0zM102.1 748.1h1.0v1.0h-1.0zM101.3 708.5h1.0v1.0h-1.0zM103.1 727.1h1.0v1.0h-1.0zM101.2 711.5h1.0v1.0h-1.0zM102.4 708.0h1.0v1.0h-1.0zM102.4 691.3h1.0v1.0h-1.0zM101.4 706.4h1.0v1.0h-1.0zM101.9 694.6h1.0v1.0h-1.0zM101.9 698.9h1.0v1.0h-1.0zM102.1 739.5h1.0v1.0h-1.0zM102.4 694.2h1.0v1.0h-1.0zM101.4 701.2h1.0v1.0h-1.0zM101.9 746.3h1.0v1.0h-1.0zM102.6 739.1h1.0v1.0h-1.0zM102.6 722.0h1.0v1.0h-1.0zM102.6 707.4h1.0v1.0h-1.0zM102.6 744.0h1.0v1.0h-1.0zM101.9 732.2h1.0v1.0h-1.0zM101.5 704.8h1.0v1.0h-1.0zM102.7 727.3h1.0v1.0h-1.0zM102.0 733.6h1.0v1.0h-1.0zM102.4 711.0h1.0v1.0h-1.0zM101.7 685.8h1.0v1.0h-1.0zM101.0 745.7h1.0v1.0h-1.0zM102.3 725.2h1.0v1.0h-1.0zM103.1 741.1h1.0v1.0h-1.0zM101.7 723.7h1.0v1.0h-1.0zM101.3 731.1h1.0v1.0h-1.0zM102.4 746.2h1.0v1.0h-1.0zM102.3 736.5h1.0v1.0h-1.0zM101.8 695.3h1.0v1.0h-1.0zM101.2 727.1h1.0v1.0h-1.0zM102.8 701.9h1.0v1.0h-1.0zM101.9 700.7h1.0v1.0h-1.0zM102.9 727.3h1.0v1.0h-1.0zM101.2 731.0h1.0v1.0h-1.0zM102.2 707.2h1.0v1.0h-1.0zM101.5 748.3h1.0v1.0h-1.0zM101.9 712.1h1.0v1.0h-1.0zM102.4 748.4h1.0v1.0h-1.0zM101.9 743.1h1.0v1.0h-1.0zM102.4 706.9h1.0v1.0h-1.0zM102.2 709.3h1.0v1.0h-1.0zM101.7 712.9h1.0v1.0h-1.0zM101.4 715.0h1.0v1.0h-1.0zM101.5 722.7h1.0v1.0h-1.0zM102.6 747.9h1.0v1.0h-1.0zM101.3 744.1h1.0v1.0h-1.0zM100.8 740.3h1.0v1.0h-1.0zM102.5 725.6h1.0v1.0h-1.0zM102.6 713.4h1.0v1.0h-1.0zM101.3 735.5h1.0v1.0h-1.0zM102.4 713.9h1.0v1.0h-1.0zM101.8 691.5h1.0v1.0h-1.0zM101.6 692.4h1.0v1.0h-1.0zM102.3 708.4h1.0v1.0h-1.0zM101.6 690.6h1.0v1.0h-1.0zM102.4 739.4h1.0v1.0h-1.0zM102.0 699.7h1.0v1.0h-1.0zM101.5 700.6h1.0v1.0h-1.0zM102.5 703.2h1.0v1.0h-1.0zM101.7 716.4h1.0v1.0h-1.0zM101.9 704.6h1.0v1.0h-1.0zM102.3 705.0h1.0v1.0h-1.0zM102.7 726.3h1.0v1.0h-1.0zM101.7 728.8h1.0v1.0h-1.0zM102.0 702.8h1.0v1.0h-1.0zM101.5 732.2h1.0v1.0h-1.0zM101.2 721.8h1.0v1.0h-1.0zM102.3 745.4h1.0v1.0h-1.0zM102.4 744.3h1.0v1.0h-1.0zM102.8 730.3h1.0v1.0h-1.0zM102.0 695.4h1.0v1.0h-1.0zM103.0 703.1h1.0v1.0h-1.0zM101.6 713.3h1.0v1.0h-1.0zM101.7 703.8h1.0v1.0h-1.0zM102.2 685.6h1.0v1.0h-1.0zM101.2 707.5h1.0v1.0h-1.0zM102.3 704.8h1.0v1.0h-1.0zM102.0 699.0h1.0v1.0h-1.0zM102.1 728.9h1.0v1.0h-1.0zM101.2 732.1h1.0v1.0h-1.0zM101.9 707.5h1.0v1.0h-1.0zM102.3 700.2h1.0v1.0h-1.0zM102.4 714.9h1.0v1.0h-1.0zM102.1 699.6h1.0v1.0h-1.0zM102.5 730.9h1.0v1.0h-1.0zM103.4 737.4h1.0v1.0h-1.0zM102.0 732.7h1.0v1.0h-1.0zM101.3 728.4h1.0v1.0h-1.0zM103.3 728.2h1.0v1.0h-1.0zM101.6 708.3h1.0v1.0h-1.0zM102.9 746.1h1.0v1.0h-1.0zM102.3 696.4h1.0v1.0h-1.0zM101.7 686.6h1.0v1.0h-1.0zM102.4 696.4h1.0v1.0h-1.0zM102.9 694.0h1.0v1.0h-1.0zM100.6 735.0h1.0v1.0h-1.0zM102.2 711.8h1.0v1.0h-1.0zM102.1 743.5h1.0v1.0h-1.0zM102.7 689.4h1.0v1.0h-1.0zM102.5 735.7h1.0v1.0h-1.0zM101.4 728.5h1.0v1.0h-1.0zM100.4 748.6h1.0v1.0h-1.0zM102.3 722.4h1.0v1.0h-1.0zM102.4 695.8h1.0v1.0h-1.0zM101.8 726.8h1.0v1.0h-1.0zM101.9 740.9h1.0v1.0h-1.0zM101.6 704.1h1.0v1.0h-1.0zM102.4 698.2h1.0v1.0h-1.0zM102.1 746.6h1.0v1.0h-1.0zM102.5 713.7h1.0v1.0h-1.0zM101.9 739.9h1.0v1.0h-1.0zM101.6 735.0h1.0v1.0h-1.0zM101.7 710.7h1.0v1.0h-1.0zM103.3 744.7h1.0v1.0h-1.0zM102.7 712.6h1.0v1.0h-1.0zM102.5 685.7h1.0v1.0h-1.0zM102.8 737.7h1.0v1.0h-1.0zM102.0 716.3h1.0v1.0h-1.0zM102.1 702.6h1.0v1.0h-1.0zM101.3 717.0h1.0v1.0h-1.0zM102.5 726.0h1.0v1.0h-1.0zM102.6 690.2h1.0v1.0h-1.0zM101.9 691.9h1.0v1.0h-1.0zM103.3 748.5h1.0v1.0h-1.0z" fill="#000" fill-opacity="0.95"/><path d="M116.2 262.6h1.0v1.0h-1.0zM114.8 263.4h1.0v1.0h-1.0zM115.4 267.0h1.0v1.0h-1.0zM116.3 262.9h1.0v1.0h-1.0zM115.5 263.7h1.0v1.0h-1.0zM116.7 264.1h1.0v1.0h-1.0zM117.2 266.2h1.0v1.0h-1.0zM116.0 267.5h1.0v1.0h-1.0zM117.1 264.7h1.0v1.0h-1.0zM117.8 263.2h1.0v1.0h-1.0zM116.0 262.0h1.0v1.0h-1.0zM117.6 266.1h1.0v1.0h-1.0zM117.6 263.5h1.0v1.0h-1.0zM117.8 264.4h1.0v1.0h-1.0zM116.6 262.1h1.0v1.0h-1.0zM116.8 262.2h1.0v1.0h-1.0zM115.9 267.7h1.0v1.0h-1.0zM117.4 267.8h1.0v1.0h-1.0zM117.3 263.1h1.0v1.0h-1.0zM116.9 264.7h1.0v1.0h-1.0zM116.6 268.2h1.0v1.0h-1.0zM116.0 263.8h1.0v1.0h-1.0zM114.6 261.6h1.0v1.0h-1.0zM116.1 262.0h1.0v1.0h-1.0zM115.0 266.3h1.0v1.0h-1.0zM116.5 267.4h1.0v1.0h-1.0zM115.9 263.8h1.0v1.0h-1.0zM118.7 268.0h1.0v1.0h-1.0zM116.1 264.0h1.0v1.0h-1.0zM115.8 268.1h1.0v1.0h-1.0zM118.3 262.1h1.0v1.0h-1.0zM115.1 266.2h1.0v1.0h-1.0zM117.7 265.5h1.0v1.0h-1.0zM117.7 267.9h1.0v1.0h-1.0zM116.5 262.9h1.0v1.0h-1.0zM115.4 263.9h1.0v1.0h-1.0zM116.1 263.0h1.0v1.0h-1.0zM116.8 268.3h1.0v1.0h-1.0zM117.4 263.6h1.0v1.0h-1.0zM117.1 262.2h1.0v1.0h-1.0z" fill="#000" fill-opacity="0.8"/><path d="M118.0 302.8h1.0v1.0h-1.0zM118.2 288.6h1.0v1.0h-1.0zM119.1 294.3h1.0v1.0h-1.0zM119.3 278.1h1.0v1.0h-1.0zM118.7 274.1h1.0v1.0h-1.0zM117.5 307.2h1.0v1.0h-1.0zM118.6 277.0h1.0v1.0h-1.0zM118.0 283.2h1.0v1.0h-1.0zM118.1 276.5h1.0v1.0h-1.0zM118.3 276.2h1.0v1.0h-1.0zM119.0 309.9h1.0v1.0h-1.0zM121.2 301.2h1.0v1.0h-1.0zM118.6 296.6h1.0v1.0h-1.0zM119.8 302.9h1.0v1.0h-1.0zM119.4 295.3h1.0v1.0h-1.0zM118.0 273.5h1.0v1.0h-1.0zM118.7 271.0h1.0v1.0h-1.0zM119.2 280.7h1.0v1.0h-1.0zM117.4 299.3h1.0v1.0h-1.0zM120.6 309.7h1.0v1.0h-1.0zM117.7 274.1h1.0v1.0h-1.0zM119.8 306.5h1.0v1.0h-1.0zM119.1 275.8h1.0v1.0h-1.0zM119.3 302.8h1.0v1.0h-1.0zM118.0 300.9h1.0v1.0h-1.0zM117.9 282.1h1.0v1.0h-1.0zM121.3 278.1h1.0v1.0h-1.0zM118.8 285.3h1.0v1.0h-1.0zM119.4 285.6h1.0v1.0h-1.0zM119.5 312.9h1.0v1.0h-1.0zM118.4 266.0h1.0v1.0h-1.0zM117.3 285.3h1.0v1.0h-1.0zM118.3 301.9h1.0v1.0h-1.0zM118.1 295.4h1.0v1.0h-1.0zM117.8 285.7h1.0v1.0h-1.0zM119.5 302.0h1.0v1.0h-1.0zM117.6 307.6h1.0v1.0h-1.0zM119.8 299.7h1.0v1.0h-1.0zM117.9 276.8h1.0v1.0h-1.0zM117.4 275.8h1.0v1.0h-1.0zM119.2 271.7h1.0v1.0h-1.0zM117.8 267.6h1.0v1.0h-1.0zM119.1 280.1h1.0v1.0h-1.0zM119.3 273.8h1.0v1.0h-1.0zM119.5 297.8h1.0v1.0h-1.0zM118.6 288.8h1.0v1.0h-1.0zM118.0 286.7h1.0v1.0h-1.0zM117.7 273.1h1.0v1.0h-1.0zM118.2 293.9h1.0v1.0h-1.0zM117.5 311.0h1.0v1.0h-1.0zM117.5 301.6h1.0v1.0h-1.0zM121.0 308.0h1.0v1.0h-1.0zM119.6 285.1h1.0v1.0h-1.0zM117.9 308.0h1.0v1.0h-1.0zM117.7 289.1h1.0v1.0h-1.0zM119.1 287.4h1.0v1.0h-1.0zM118.5 307.2h1.0v1.0h-1.0zM118.6 296.8h1.0v1.0h-1.0zM117.8 266.6h1.0v1.0h-1.0zM117.3 281.9h1.0v1.0h-1.0zM121.5 274.2h1.0v1.0h-1.0zM118.3 302.1h1.0v1.0h-1.0zM119.7 274.0h1.0v1.0h-1.0zM117.8 303.8h1.0v1.0h-1.0zM119.8 302.0h1.0v1.0h-1.0zM118.8 274.5h1.0v1.0h-1.0zM117.4 292.0h1.0v1.0h-1.0zM117.3 305.6h1.0v1.0h-1.0zM117.5 297.3h1.0v1.0h-1.0zM117.8 278.2h1.0v1.0h-1.0zM118.9 306.8h1.0v1.0h-1.0zM117.4 308.0h1.0v1.0h-1.0zM117.5 269.4h1.0v1.0h-1.0zM120.9 274.6h1.0v1.0h-1.0zM118.1 283.5h1.0v1.0h-1.0zM121.2 297.8h1.0v1.0h-1.0zM117.5 268.7h1.0v1.0h-1.0zM117.9 300.7h1.0v1.0h-1.0zM117.3 305.0h1.0v1.0h-1.0zM118.9 277.3h1.0v1.0h-1.0zM119.1 269.7h1.0v1.0h-1.0zM117.9 271.7h1.0v1.0h-1.0zM119.0 277.9h1.0v1.0h-1.0zM119.3 282.2h1.0v1.0h-1.0zM119.8 291.8h1.0v1.0h-1.0zM117.5 306.0h1.0v1.0h-1.0zM118.5 306.8h1.0v1.0h-1.0zM118.6 300.6h1.0v1.0h-1.0zM120.0 285.1h1.0v1.0h-1.0zM117.5 288.9h1.0v1.0h-1.0zM118.2 299.8h1.0v1.0h-1.0zM117.6 302.5h1.0v1.0h-1.0zM118.6 271.9h1.0v1.0h-1.0zM117.6 272.7h1.0v1.0h-1.0zM117.7 265.8h1.0v1.0h-1.0zM118.4 287.6h1.0v1.0h-1.0zM117.6 299.0h1.0v1.0h-1.0zM119.5 271.3h1.0v1.0h-1.0zM118.7 268.0h1.0v1.0h-1.0zM119.9 271.7h1.0v1.0h-1.0zM119.4 309.7h1.0v1.0h-1.0zM118.2 287.0h1.0v1.0h-1.0zM117.4 294.2h1.0v1.0h-1.0zM119.5 275.9h1.0v1.0h-1.0zM118.5 270.6h1.0v1.0h-1.0zM118.4 290.9h1.0v1.0h-1.0zM117.9 266.1h1.0v1.0h-1.0zM118.8 278.0h1.0v1.0h-1.0zM118.5 288.7h1.0v1.0h-1.0zM117.3 301.7h1.0v1.0h-1.0zM118.2 293.2h1.0v1.0h-1.0zM119.8 289.2h1.0v1.0h-1.0zM117.5 266.8h1.0v1.0h-1.0zM117.7 282.7h1.0v1.0h-1.0zM122.2 298.5h1.0v1.0h-1.0zM121.1 265.6h1.0v1.0h-1.0zM117.5 274.9h1.0v1.0h-1.0zM118.9 270.9h1.0v1.0h-1.0zM117.9 278.9h1.0v1.0h-1.0zM118.9 266.0h1.0v1.0h-1.0zM118.3 312.8h1.0v1.0h-1.0zM119.8 277.0h1.0v1.0h-1.0zM118.5 270.0h1.0v1.0h-1.0zM117.4 303.8h1.0v1.0h-1.0zM118.0 299.8h1.0v1.0h-1.0zM119.3 265.7h1.0v1.0h-1.0zM119.3 296.7h1.0v1.0h-1.0zM120.5 275.0h1.0v1.0h-1.0zM119.1 270.9h1.0v1.0h-1.0zM117.8 267.8h1.0v1.0h-1.0zM118.4 267.1h1.0v1.0h-1.0zM117.3 298.6h1.0v1.0h-1.0zM120.1 292.4h1.0v1.0h-1.0zM119.7 289.3h1.0v1.0h-1.0zM119.7 294.5h1.0v1.0h-1.0zM118.5 273.2h1.0v1.0h-1.0zM118.8 267.8h1.0v1.0h-1.0zM118.2 291.9h1.0v1.0h-1.0zM117.6 277.5h1.0v1.0h-1.0zM117.5 270.8h1.0v1.0h-1.0z" fill="#000" fill-opacity="0.75"/><path d="M122.1 264.0h1.1v1.1h-1.1zM114.5 263.4h1.1v1.1h-1.1zM127.8 251.1h1.1v1.1h-1.1zM124.1 261.6h1.1v1.1h-1.1zM123.1 249.8h1.1v1.1h-1.1zM122.7 262.7h1.1v1.1h-1.1zM115.4 254.0h1.1v1.1h-1.1zM114.3 262.0h1.1v1.1h-1.1zM124.8 244.5h1.1v1.1h-1.1zM124.4 258.7h1.1v1.1h-1.1zM115.7 255.0h1.1v1.1h-1.1zM123.6 250.8h1.1v1.1h-1.1zM121.0 264.9h1.1v1.1h-1.1zM122.8 254.5h1.1v1.1h-1.1zM114.9 246.1h1.1v1.1h-1.1zM125.9 259.8h1.1v1.1h-1.1zM125.6 256.2h1.1v1.1h-1.1zM122.0 255.1h1.1v1.1h-1.1zM124.2 250.7h1.1v1.1h-1.1zM120.9 253.8h1.1v1.1h-1.1zM123.2 248.2h1.1v1.1h-1.1zM114.3 245.4h1.1v1.1h-1.1zM116.5 262.3h1.1v1.1h-1.1zM124.0 259.9h1.1v1.1h-1.1zM120.2 245.7h1.1v1.1h-1.1zM120.5 262.4h1.1v1.1h-1.1z" fill="#000" fill-opacity="0.5"/><path d="M127.8 283.7h1.0v1.0h-1.0zM121.8 281.1h1.0v1.0h-1.0zM124.9 293.2h1.0v1.0h-1.0zM127.1 284.7h1.0v1.0h-1.0zM128.7 292.2h1.0v1.0h-1.0zM124.1 286.5h1.0v1.0h-1.0zM128.4 273.6h1.0v1.0h-1.0zM124.6 267.5h1.0v1.0h-1.0zM126.4 297.9h1.0v1.0h-1.0zM124.9 275.5h1.0v1.0h-1.0zM134.1 295.2h1.0v1.0h-1.0zM125.5 298.4h1.0v1.0h-1.0zM121.0 275.1h1.0v1.0h-1.0zM132.4 288.5h1.0v1.0h-1.0zM122.9 295.4h1.0v1.0h-1.0zM129.2 280.1h1.0v1.0h-1.0zM132.2 294.5h1.0v1.0h-1.0zM124.0 299.4h1.0v1.0h-1.0zM120.0 278.8h1.0v1.0h-1.0zM127.9 282.2h1.0v1.0h-1.0zM125.8 293.9h1.0v1.0h-1.0zM124.3 305.9h1.0v1.0h-1.0zM118.8 300.6h1.0v1.0h-1.0zM133.7 273.3h1.0v1.0h-1.0zM127.1 279.5h1.0v1.0h-1.0zM133.0 300.4h1.0v1.0h-1.0zM127.9 291.6h1.0v1.0h-1.0zM120.9 292.8h1.0v1.0h-1.0zM119.6 305.2h1.0v1.0h-1.0zM122.6 296.6h1.0v1.0h-1.0zM125.7 308.8h1.0v1.0h-1.0zM120.4 302.2h1.0v1.0h-1.0zM118.6 272.9h1.0v1.0h-1.0zM122.5 280.5h1.0v1.0h-1.0zM120.4 291.9h1.0v1.0h-1.0zM119.7 282.3h1.0v1.0h-1.0zM126.1 275.3h1.0v1.0h-1.0zM133.7 278.4h1.0v1.0h-1.0zM120.7 267.1h1.0v1.0h-1.0zM134.0 273.9h1.0v1.0h-1.0zM120.1 309.7h1.0v1.0h-1.0zM131.5 281.4h1.0v1.0h-1.0zM124.1 267.1h1.0v1.0h-1.0zM123.0 294.9h1.0v1.0h-1.0zM120.4 286.3h1.0v1.0h-1.0zM118.6 303.7h1.0v1.0h-1.0zM133.7 281.1h1.0v1.0h-1.0zM121.5 296.9h1.0v1.0h-1.0zM126.8 270.8h1.0v1.0h-1.0zM122.8 267.2h1.0v1.0h-1.0zM132.0 272.6h1.0v1.0h-1.0zM121.0 288.8h1.0v1.0h-1.0zM136.2 281.9h1.0v1.0h-1.0zM120.4 310.6h1.0v1.0h-1.0zM119.2 290.5h1.0v1.0h-1.0zM119.3 278.0h1.0v1.0h-1.0zM120.4 296.9h1.0v1.0h-1.0zM124.4 290.9h1.0v1.0h-1.0zM136.2 259.1h1.0v1.0h-1.0zM123.6 315.1h1.0v1.0h-1.0zM121.0 298.7h1.0v1.0h-1.0zM126.6 277.9h1.0v1.0h-1.0zM119.1 275.0h1.0v1.0h-1.0zM126.1 260.7h1.0v1.0h-1.0zM127.3 286.7h1.0v1.0h-1.0zM122.2 276.1h1.0v1.0h-1.0zM121.1 269.8h1.0v1.0h-1.0zM134.2 275.0h1.0v1.0h-1.0zM125.2 312.8h1.0v1.0h-1.0zM120.4 276.2h1.0v1.0h-1.0zM119.6 299.3h1.0v1.0h-1.0zM126.5 304.4h1.0v1.0h-1.0zM130.7 286.4h1.0v1.0h-1.0zM120.4 305.7h1.0v1.0h-1.0zM119.7 300.9h1.0v1.0h-1.0zM127.2 275.5h1.0v1.0h-1.0zM119.7 282.7h1.0v1.0h-1.0zM125.3 264.7h1.0v1.0h-1.0zM126.1 304.4h1.0v1.0h-1.0zM123.0 294.0h1.0v1.0h-1.0zM120.4 278.8h1.0v1.0h-1.0zM134.3 289.2h1.0v1.0h-1.0zM126.5 272.6h1.0v1.0h-1.0zM124.0 281.3h1.0v1.0h-1.0zM123.6 290.5h1.0v1.0h-1.0zM118.6 298.8h1.0v1.0h-1.0zM124.6 281.6h1.0v1.0h-1.0zM120.4 283.3h1.0v1.0h-1.0zM125.0 280.3h1.0v1.0h-1.0zM131.2 293.9h1.0v1.0h-1.0zM122.6 263.5h1.0v1.0h-1.0zM124.4 280.1h1.0v1.0h-1.0zM123.3 279.6h1.0v1.0h-1.0zM128.3 295.7h1.0v1.0h-1.0zM118.5 270.3h1.0v1.0h-1.0zM121.5 298.5h1.0v1.0h-1.0zM128.0 296.3h1.0v1.0h-1.0zM135.7 300.1h1.0v1.0h-1.0zM129.2 275.1h1.0v1.0h-1.0zM118.8 288.0h1.0v1.0h-1.0zM119.6 286.0h1.0v1.0h-1.0zM121.6 237.9h1.0v1.0h-1.0zM124.4 260.8h1.0v1.0h-1.0zM122.6 300.2h1.0v1.0h-1.0zM121.8 280.4h1.0v1.0h-1.0zM121.1 283.8h1.0v1.0h-1.0zM134.3 277.9h1.0v1.0h-1.0zM119.8 300.9h1.0v1.0h-1.0zM125.5 297.9h1.0v1.0h-1.0zM123.2 286.4h1.0v1.0h-1.0zM118.6 291.5h1.0v1.0h-1.0zM125.0 288.6h1.0v1.0h-1.0zM122.4 275.4h1.0v1.0h-1.0zM120.4 281.9h1.0v1.0h-1.0zM123.7 304.5h1.0v1.0h-1.0zM122.5 292.4h1.0v1.0h-1.0zM127.9 316.1h1.0v1.0h-1.0zM120.8 292.6h1.0v1.0h-1.0zM122.8 267.1h1.0v1.0h-1.0zM121.4 290.8h1.0v1.0h-1.0zM119.0 282.4h1.0v1.0h-1.0zM123.0 266.8h1.0v1.0h-1.0zM123.5 266.6h1.0v1.0h-1.0zM126.5 300.5h1.0v1.0h-1.0zM125.9 296.9h1.0v1.0h-1.0zM124.4 274.2h1.0v1.0h-1.0zM124.6 280.5h1.0v1.0h-1.0zM134.9 283.2h1.0v1.0h-1.0zM125.1 293.5h1.0v1.0h-1.0zM124.7 288.3h1.0v1.0h-1.0zM119.6 304.3h1.0v1.0h-1.0zM127.5 279.6h1.0v1.0h-1.0zM120.6 306.5h1.0v1.0h-1.0zM120.3 295.3h1.0v1.0h-1.0zM125.9 287.7h1.0v1.0h-1.0zM120.1 286.6h1.0v1.0h-1.0zM127.6 292.3h1.0v1.0h-1.0zM127.2 296.6h1.0v1.0h-1.0zM121.7 281.7h1.0v1.0h-1.0zM119.9 279.8h1.0v1.0h-1.0zM120.2 282.0h1.0v1.0h-1.0zM131.9 280.4h1.0v1.0h-1.0zM120.7 297.3h1.0v1.0h-1.0zM122.3 294.3h1.0v1.0h-1.0zM119.8 264.0h1.0v1.0h-1.0zM131.0 278.8h1.0v1.0h-1.0zM133.4 270.1h1.0v1.0h-1.0zM129.6 282.4h1.0v1.0h-1.0zM127.4 279.9h1.0v1.0h-1.0zM121.7 275.7h1.0v1.0h-1.0zM132.6 293.1h1.0v1.0h-1.0zM126.7 279.6h1.0v1.0h-1.0zM119.7 287.7h1.0v1.0h-1.0zM122.3 282.1h1.0v1.0h-1.0zM121.8 293.1h1.0v1.0h-1.0zM120.3 292.6h1.0v1.0h-1.0zM126.0 281.6h1.0v1.0h-1.0zM119.2 290.4h1.0v1.0h-1.0zM125.3 287.1h1.0v1.0h-1.0zM124.6 303.5h1.0v1.0h-1.0zM122.8 275.4h1.0v1.0h-1.0zM119.1 278.2h1.0v1.0h-1.0zM123.3 267.9h1.0v1.0h-1.0zM132.3 311.1h1.0v1.0h-1.0zM131.1 289.0h1.0v1.0h-1.0zM123.4 298.7h1.0v1.0h-1.0zM119.3 299.6h1.0v1.0h-1.0zM121.7 288.9h1.0v1.0h-1.0zM119.3 289.4h1.0v1.0h-1.0zM135.3 275.3h1.0v1.0h-1.0zM122.6 276.8h1.0v1.0h-1.0zM122.6 286.4h1.0v1.0h-1.0zM123.2 263.7h1.0v1.0h-1.0zM126.0 296.8h1.0v1.0h-1.0zM118.6 307.2h1.0v1.0h-1.0zM129.1 299.0h1.0v1.0h-1.0zM130.6 290.9h1.0v1.0h-1.0zM120.4 276.2h1.0v1.0h-1.0zM122.1 275.7h1.0v1.0h-1.0zM121.2 266.6h1.0v1.0h-1.0zM134.2 293.0h1.0v1.0h-1.0zM128.1 284.6h1.0v1.0h-1.0zM119.0 260.9h1.0v1.0h-1.0zM123.2 285.9h1.0v1.0h-1.0zM129.1 297.6h1.0v1.0h-1.0zM129.9 285.7h1.0v1.0h-1.0zM119.8 279.4h1.0v1.0h-1.0zM120.2 291.3h1.0v1.0h-1.0zM124.8 291.5h1.0v1.0h-1.0zM120.8 286.0h1.0v1.0h-1.0zM120.0 298.7h1.0v1.0h-1.0zM120.2 290.4h1.0v1.0h-1.0zM123.7 287.0h1.0v1.0h-1.0zM123.6 285.2h1.0v1.0h-1.0zM124.3 302.9h1.0v1.0h-1.0zM120.9 270.3h1.0v1.0h-1.0zM119.3 274.0h1.0v1.0h-1.0zM122.0 292.0h1.0v1.0h-1.0zM134.7 292.6h1.0v1.0h-1.0zM130.9 310.4h1.0v1.0h-1.0zM127.5 256.3h1.0v1.0h-1.0zM123.7 281.0h1.0v1.0h-1.0zM119.4 257.7h1.0v1.0h-1.0zM125.9 307.3h1.0v1.0h-1.0zM121.6 316.0h1.0v1.0h-1.0zM125.0 283.1h1.0v1.0h-1.0zM122.4 292.3h1.0v1.0h-1.0zM129.8 278.9h1.0v1.0h-1.0zM124.3 311.9h1.0v1.0h-1.0zM121.7 289.9h1.0v1.0h-1.0zM135.6 267.9h1.0v1.0h-1.0zM121.9 278.7h1.0v1.0h-1.0zM119.9 300.1h1.0v1.0h-1.0zM123.3 291.9h1.0v1.0h-1.0zM119.7 271.4h1.0v1.0h-1.0zM123.3 273.2h1.0v1.0h-1.0zM119.9 291.4h1.0v1.0h-1.0zM132.2 268.1h1.0v1.0h-1.0zM124.5 275.5h1.0v1.0h-1.0zM119.0 283.9h1.0v1.0h-1.0zM123.7 297.5h1.0v1.0h-1.0zM119.5 300.6h1.0v1.0h-1.0zM128.8 281.5h1.0v1.0h-1.0zM123.0 275.7h1.0v1.0h-1.0zM124.5 283.4h1.0v1.0h-1.0zM119.2 305.0h1.0v1.0h-1.0zM125.6 284.9h1.0v1.0h-1.0zM118.9 297.0h1.0v1.0h-1.0zM118.9 316.9h1.0v1.0h-1.0zM135.0 269.9h1.0v1.0h-1.0zM120.1 280.1h1.0v1.0h-1.0zM118.6 246.6h1.0v1.0h-1.0zM119.4 307.5h1.0v1.0h-1.0zM118.5 297.7h1.0v1.0h-1.0zM121.9 280.9h1.0v1.0h-1.0zM120.0 290.6h1.0v1.0h-1.0zM127.1 290.2h1.0v1.0h-1.0zM121.4 274.9h1.0v1.0h-1.0zM118.7 280.2h1.0v1.0h-1.0zM122.7 308.5h1.0v1.0h-1.0zM130.9 288.4h1.0v1.0h-1.0zM132.3 293.8h1.0v1.0h-1.0zM119.0 281.3h1.0v1.0h-1.0zM126.8 295.9h1.0v1.0h-1.0zM119.7 270.4h1.0v1.0h-1.0zM125.3 299.9h1.0v1.0h-1.0zM119.0 277.6h1.0v1.0h-1.0zM119.7 286.9h1.0v1.0h-1.0zM120.5 287.0h1.0v1.0h-1.0zM124.2 271.1h1.0v1.0h-1.0zM124.3 286.0h1.0v1.0h-1.0zM120.4 290.6h1.0v1.0h-1.0zM122.3 284.8h1.0v1.0h-1.0zM123.3 269.9h1.0v1.0h-1.0zM120.7 288.6h1.0v1.0h-1.0zM118.6 313.1h1.0v1.0h-1.0zM120.1 274.1h1.0v1.0h-1.0zM125.8 274.5h1.0v1.0h-1.0zM120.0 319.4h1.0v1.0h-1.0zM123.8 294.8h1.0v1.0h-1.0zM119.4 309.1h1.0v1.0h-1.0zM127.1 301.3h1.0v1.0h-1.0zM122.3 267.4h1.0v1.0h-1.0zM123.8 304.7h1.0v1.0h-1.0zM118.8 288.4h1.0v1.0h-1.0zM122.4 276.6h1.0v1.0h-1.0zM131.2 294.1h1.0v1.0h-1.0zM127.9 290.4h1.0v1.0h-1.0zM121.7 292.1h1.0v1.0h-1.0zM128.5 270.3h1.0v1.0h-1.0zM133.0 313.9h1.0v1.0h-1.0zM122.5 283.8h1.0v1.0h-1.0zM120.7 297.9h1.0v1.0h-1.0zM119.5 292.0h1.0v1.0h-1.0zM121.9 274.8h1.0v1.0h-1.0zM121.0 281.7h1.0v1.0h-1.0z" fill="#000" fill-opacity="0.5"/><path d="M160.8 293.1h1.0v1.0h-1.0zM163.2 309.9h1.0v1.0h-1.0zM174.0 291.5h1.0v1.0h-1.0zM177.2 293.9h1.0v1.0h-1.0zM197.0 276.0h1.0v1.0h-1.0zM183.0 303.2h1.0v1.0h-1.0zM179.8 300.5h1.0v1.0h-1.0zM200.8 304.5h1.0v1.0h-1.0zM173.2 298.4h1.0v1.0h-1.0zM176.3 301.1h1.0v1.0h-1.0zM157.6 286.9h1.0v1.0h-1.0zM184.8 291.8h1.0v1.0h-1.0zM177.0 297.4h1.0v1.0h-1.0zM177.8 310.4h1.0v1.0h-1.0zM149.4 286.3h1.0v1.0h-1.0zM162.2 310.3h1.0v1.0h-1.0zM173.2 276.2h1.0v1.0h-1.0zM178.5 284.9h1.0v1.0h-1.0zM167.5 274.1h1.0v1.0h-1.0zM174.3 282.8h1.0v1.0h-1.0zM144.4 272.5h1.0v1.0h-1.0zM163.1 291.8h1.0v1.0h-1.0zM193.6 316.0h1.0v1.0h-1.0zM138.7 278.4h1.0v1.0h-1.0zM195.8 275.2h1.0v1.0h-1.0zM185.3 299.6h1.0v1.0h-1.0zM184.3 287.9h1.0v1.0h-1.0zM178.3 288.3h1.0v1.0h-1.0zM176.9 315.3h1.0v1.0h-1.0zM181.7 296.4h1.0v1.0h-1.0zM186.8 289.8h1.0v1.0h-1.0zM182.8 309.6h1.0v1.0h-1.0zM191.8 305.8h1.0v1.0h-1.0zM196.8 317.5h1.0v1.0h-1.0zM180.5 293.8h1.0v1.0h-1.0zM182.9 294.2h1.0v1.0h-1.0zM172.2 300.1h1.0v1.0h-1.0zM179.1 314.2h1.0v1.0h-1.0zM197.3 311.0h1.0v1.0h-1.0zM172.5 297.1h1.0v1.0h-1.0zM169.8 290.1h1.0v1.0h-1.0zM178.7 290.1h1.0v1.0h-1.0zM190.4 302.9h1.0v1.0h-1.0zM182.0 303.2h1.0v1.0h-1.0zM141.5 281.5h1.0v1.0h-1.0zM150.5 282.9h1.0v1.0h-1.0zM168.2 283.9h1.0v1.0h-1.0zM176.5 273.3h1.0v1.0h-1.0zM174.8 295.1h1.0v1.0h-1.0zM187.2 274.1h1.0v1.0h-1.0zM180.3 281.5h1.0v1.0h-1.0zM156.1 307.8h1.0v1.0h-1.0zM173.1 295.0h1.0v1.0h-1.0zM188.7 296.6h1.0v1.0h-1.0zM184.6 295.5h1.0v1.0h-1.0zM179.3 290.1h1.0v1.0h-1.0zM184.2 301.2h1.0v1.0h-1.0zM178.8 291.5h1.0v1.0h-1.0zM162.4 278.1h1.0v1.0h-1.0zM187.0 297.9h1.0v1.0h-1.0zM196.2 297.4h1.0v1.0h-1.0zM194.3 303.2h1.0v1.0h-1.0zM179.0 298.6h1.0v1.0h-1.0zM174.6 292.9h1.0v1.0h-1.0zM188.0 289.3h1.0v1.0h-1.0zM180.9 297.5h1.0v1.0h-1.0zM196.7 298.2h1.0v1.0h-1.0zM177.6 297.1h1.0v1.0h-1.0zM178.8 294.8h1.0v1.0h-1.0zM184.0 298.5h1.0v1.0h-1.0zM176.6 301.1h1.0v1.0h-1.0zM179.2 276.0h1.0v1.0h-1.0zM170.5 303.1h1.0v1.0h-1.0zM198.0 276.9h1.0v1.0h-1.0zM167.1 280.7h1.0v1.0h-1.0zM175.3 301.6h1.0v1.0h-1.0zM180.3 303.0h1.0v1.0h-1.0zM192.1 271.9h1.0v1.0h-1.0zM191.8 298.1h1.0v1.0h-1.0zM182.1 289.7h1.0v1.0h-1.0zM177.7 286.3h1.0v1.0h-1.0zM176.9 302.9h1.0v1.0h-1.0zM189.3 291.4h1.0v1.0h-1.0zM173.3 299.8h1.0v1.0h-1.0zM180.8 294.0h1.0v1.0h-1.0zM180.8 298.4h1.0v1.0h-1.0zM165.0 315.6h1.0v1.0h-1.0zM177.0 305.8h1.0v1.0h-1.0zM194.0 282.4h1.0v1.0h-1.0zM162.7 302.7h1.0v1.0h-1.0zM174.2 298.3h1.0v1.0h-1.0zM176.5 301.0h1.0v1.0h-1.0zM182.6 282.9h1.0v1.0h-1.0zM182.0 279.4h1.0v1.0h-1.0zM182.4 310.8h1.0v1.0h-1.0zM164.1 289.4h1.0v1.0h-1.0zM190.2 303.8h1.0v1.0h-1.0zM190.9 299.4h1.0v1.0h-1.0zM186.2 286.2h1.0v1.0h-1.0zM197.1 297.4h1.0v1.0h-1.0zM185.3 292.8h1.0v1.0h-1.0zM164.2 283.5h1.0v1.0h-1.0zM182.1 293.6h1.0v1.0h-1.0zM187.3 279.7h1.0v1.0h-1.0zM171.3 310.4h1.0v1.0h-1.0zM181.5 293.5h1.0v1.0h-1.0zM195.4 299.4h1.0v1.0h-1.0zM169.0 297.6h1.0v1.0h-1.0zM186.2 287.1h1.0v1.0h-1.0zM176.2 287.0h1.0v1.0h-1.0zM146.7 313.4h1.0v1.0h-1.0zM153.7 293.5h1.0v1.0h-1.0zM157.4 276.4h1.0v1.0h-1.0zM148.4 294.1h1.0v1.0h-1.0zM181.7 291.8h1.0v1.0h-1.0zM193.6 276.5h1.0v1.0h-1.0zM152.5 306.3h1.0v1.0h-1.0zM188.2 293.8h1.0v1.0h-1.0zM183.2 294.1h1.0v1.0h-1.0zM183.8 300.4h1.0v1.0h-1.0zM138.9 274.0h1.0v1.0h-1.0zM181.4 294.4h1.0v1.0h-1.0zM180.9 291.5h1.0v1.0h-1.0zM166.2 296.4h1.0v1.0h-1.0zM182.4 297.4h1.0v1.0h-1.0zM177.9 295.8h1.0v1.0h-1.0zM164.6 296.0h1.0v1.0h-1.0zM174.1 285.2h1.0v1.0h-1.0zM155.3 316.9h1.0v1.0h-1.0zM168.8 313.6h1.0v1.0h-1.0zM191.9 298.8h1.0v1.0h-1.0zM183.9 305.6h1.0v1.0h-1.0zM174.7 273.6h1.0v1.0h-1.0zM177.5 292.7h1.0v1.0h-1.0zM180.4 298.7h1.0v1.0h-1.0zM182.6 311.1h1.0v1.0h-1.0zM175.1 300.1h1.0v1.0h-1.0zM178.5 274.3h1.0v1.0h-1.0zM183.9 309.9h1.0v1.0h-1.0zM197.7 293.6h1.0v1.0h-1.0zM162.2 296.5h1.0v1.0h-1.0zM188.0 296.2h1.0v1.0h-1.0zM190.1 300.7h1.0v1.0h-1.0zM152.0 281.5h1.0v1.0h-1.0zM188.1 281.8h1.0v1.0h-1.0zM188.2 296.3h1.0v1.0h-1.0zM182.8 295.7h1.0v1.0h-1.0zM176.9 311.7h1.0v1.0h-1.0zM177.7 285.7h1.0v1.0h-1.0zM180.3 290.1h1.0v1.0h-1.0zM186.2 301.3h1.0v1.0h-1.0zM180.1 287.2h1.0v1.0h-1.0zM186.7 294.0h1.0v1.0h-1.0zM177.6 303.0h1.0v1.0h-1.0zM171.4 288.4h1.0v1.0h-1.0zM186.5 312.9h1.0v1.0h-1.0zM186.8 291.6h1.0v1.0h-1.0zM148.5 301.7h1.0v1.0h-1.0zM189.9 296.0h1.0v1.0h-1.0zM179.9 284.9h1.0v1.0h-1.0zM188.6 298.9h1.0v1.0h-1.0zM191.7 304.8h1.0v1.0h-1.0zM190.5 290.9h1.0v1.0h-1.0zM183.5 288.1h1.0v1.0h-1.0zM190.7 291.9h1.0v1.0h-1.0zM166.0 301.2h1.0v1.0h-1.0zM178.9 301.7h1.0v1.0h-1.0zM195.8 300.1h1.0v1.0h-1.0zM180.7 284.9h1.0v1.0h-1.0zM156.1 315.0h1.0v1.0h-1.0zM189.1 293.4h1.0v1.0h-1.0zM184.3 297.1h1.0v1.0h-1.0zM189.9 290.2h1.0v1.0h-1.0zM149.2 316.0h1.0v1.0h-1.0zM161.5 307.1h1.0v1.0h-1.0zM166.5 308.9h1.0v1.0h-1.0zM150.6 313.2h1.0v1.0h-1.0zM182.3 307.4h1.0v1.0h-1.0zM185.3 304.9h1.0v1.0h-1.0zM186.2 298.0h1.0v1.0h-1.0zM186.6 294.8h1.0v1.0h-1.0zM179.8 287.6h1.0v1.0h-1.0zM184.6 280.1h1.0v1.0h-1.0zM170.5 300.4h1.0v1.0h-1.0zM174.9 305.0h1.0v1.0h-1.0zM172.7 287.4h1.0v1.0h-1.0zM184.7 302.9h1.0v1.0h-1.0zM157.7 292.1h1.0v1.0h-1.0zM164.1 309.5h1.0v1.0h-1.0zM183.4 300.3h1.0v1.0h-1.0zM171.7 281.6h1.0v1.0h-1.0zM177.4 304.2h1.0v1.0h-1.0zM178.9 304.5h1.0v1.0h-1.0zM194.6 299.1h1.0v1.0h-1.0zM144.3 305.6h1.0v1.0h-1.0zM170.9 297.4h1.0v1.0h-1.0zM181.9 292.4h1.0v1.0h-1.0zM177.2 286.3h1.0v1.0h-1.0zM193.9 298.0h1.0v1.0h-1.0zM177.7 300.1h1.0v1.0h-1.0zM160.4 315.8h1.0v1.0h-1.0zM193.5 299.1h1.0v1.0h-1.0zM195.6 273.1h1.0v1.0h-1.0zM149.7 308.1h1.0v1.0h-1.0zM192.1 305.5h1.0v1.0h-1.0zM179.2 313.3h1.0v1.0h-1.0zM164.8 303.2h1.0v1.0h-1.0zM179.3 280.4h1.0v1.0h-1.0zM183.3 295.3h1.0v1.0h-1.0zM182.3 297.7h1.0v1.0h-1.0zM174.8 288.6h1.0v1.0h-1.0zM186.5 308.0h1.0v1.0h-1.0zM197.7 317.0h1.0v1.0h-1.0zM182.8 294.9h1.0v1.0h-1.0zM179.8 303.0h1.0v1.0h-1.0zM191.7 288.8h1.0v1.0h-1.0zM181.1 303.0h1.0v1.0h-1.0zM183.9 295.1h1.0v1.0h-1.0zM149.4 310.7h1.0v1.0h-1.0zM176.8 287.5h1.0v1.0h-1.0zM186.7 282.3h1.0v1.0h-1.0zM138.6 301.1h1.0v1.0h-1.0zM191.3 280.8h1.0v1.0h-1.0zM173.9 294.8h1.0v1.0h-1.0zM173.9 294.7h1.0v1.0h-1.0zM201.7 288.8h1.0v1.0h-1.0zM187.8 296.1h1.0v1.0h-1.0zM184.6 289.2h1.0v1.0h-1.0zM184.7 298.8h1.0v1.0h-1.0zM190.6 298.6h1.0v1.0h-1.0zM175.9 294.9h1.0v1.0h-1.0zM162.2 283.6h1.0v1.0h-1.0zM189.3 304.5h1.0v1.0h-1.0zM185.7 293.7h1.0v1.0h-1.0zM154.8 300.5h1.0v1.0h-1.0zM183.5 288.0h1.0v1.0h-1.0zM176.8 299.5h1.0v1.0h-1.0z" fill="#333" fill-opacity="0.55"/><path d="M102.4 655.0h1.1v1.1h-1.1zM102.0 667.5h1.1v1.1h-1.1zM102.7 676.2h1.1v1.1h-1.1zM102.2 680.5h1.1v1.1h-1.1zM102.1 683.0h1.1v1.1h-1.1z" fill="#000" fill-opacity="0.6"/><path d="M105.9 709.6h1.1v1.1h-1.1zM105.4 731.4h1.1v1.1h-1.1zM105.8 723.9h1.1v1.1h-1.1zM106.2 705.5h1.1v1.1h-1.1zM104.1 700.9h1.1v1.1h-1.1zM105.8 719.0h1.1v1.1h-1.1zM106.5 743.2h1.1v1.1h-1.1zM104.3 716.5h1.1v1.1h-1.1zM105.2 724.0h1.1v1.1h-1.1zM106.7 726.4h1.1v1.1h-1.1zM104.9 729.3h1.1v1.1h-1.1zM104.9 724.4h1.1v1.1h-1.1z" fill="#000" fill-opacity="0.35"/><path d="M133.1 737.4h1.0v1.0h-1.0zM143.7 735.7h1.0v1.0h-1.0zM145.9 730.4h1.0v1.0h-1.0zM143.6 738.9h1.0v1.0h-1.0zM135.4 738.1h1.0v1.0h-1.0zM155.3 726.7h1.0v1.0h-1.0zM122.6 745.9h1.0v1.0h-1.0zM136.8 735.7h1.0v1.0h-1.0zM150.8 729.8h1.0v1.0h-1.0zM139.6 737.9h1.0v1.0h-1.0zM144.6 732.0h1.0v1.0h-1.0zM143.7 733.1h1.0v1.0h-1.0zM136.7 734.5h1.0v1.0h-1.0zM139.1 731.1h1.0v1.0h-1.0zM131.2 744.4h1.0v1.0h-1.0zM138.3 735.2h1.0v1.0h-1.0zM139.3 734.8h1.0v1.0h-1.0zM140.8 734.1h1.0v1.0h-1.0zM134.7 740.9h1.0v1.0h-1.0zM135.9 740.6h1.0v1.0h-1.0zM121.3 741.1h1.0v1.0h-1.0zM149.3 728.3h1.0v1.0h-1.0zM135.0 738.6h1.0v1.0h-1.0zM131.1 739.8h1.0v1.0h-1.0zM119.7 744.4h1.0v1.0h-1.0zM135.5 739.0h1.0v1.0h-1.0zM147.0 726.9h1.0v1.0h-1.0zM154.1 723.8h1.0v1.0h-1.0zM117.9 738.1h1.0v1.0h-1.0zM154.3 725.6h1.0v1.0h-1.0zM133.4 735.3h1.0v1.0h-1.0zM132.8 743.6h1.0v1.0h-1.0zM142.7 739.5h1.0v1.0h-1.0zM134.8 728.4h1.0v1.0h-1.0zM147.5 728.5h1.0v1.0h-1.0zM141.0 739.7h1.0v1.0h-1.0zM140.0 738.7h1.0v1.0h-1.0zM139.2 731.9h1.0v1.0h-1.0zM144.1 729.6h1.0v1.0h-1.0zM153.2 730.2h1.0v1.0h-1.0zM142.1 735.4h1.0v1.0h-1.0zM145.2 730.2h1.0v1.0h-1.0zM148.2 728.6h1.0v1.0h-1.0zM144.5 728.0h1.0v1.0h-1.0zM142.1 734.6h1.0v1.0h-1.0zM132.7 737.0h1.0v1.0h-1.0zM136.9 738.9h1.0v1.0h-1.0zM134.7 739.1h1.0v1.0h-1.0zM155.0 726.9h1.0v1.0h-1.0zM126.1 742.9h1.0v1.0h-1.0zM149.5 727.7h1.0v1.0h-1.0zM151.7 729.9h1.0v1.0h-1.0zM144.0 731.0h1.0v1.0h-1.0zM135.5 736.0h1.0v1.0h-1.0zM142.0 735.1h1.0v1.0h-1.0zM143.9 730.9h1.0v1.0h-1.0zM141.8 734.7h1.0v1.0h-1.0zM124.6 740.4h1.0v1.0h-1.0zM133.0 737.6h1.0v1.0h-1.0zM137.7 734.7h1.0v1.0h-1.0zM133.8 740.5h1.0v1.0h-1.0zM140.4 727.8h1.0v1.0h-1.0zM138.9 730.7h1.0v1.0h-1.0zM155.3 723.7h1.0v1.0h-1.0zM137.2 736.3h1.0v1.0h-1.0zM138.8 734.9h1.0v1.0h-1.0zM155.1 726.4h1.0v1.0h-1.0zM150.1 732.8h1.0v1.0h-1.0zM134.6 743.9h1.0v1.0h-1.0zM148.5 733.0h1.0v1.0h-1.0zM134.2 740.9h1.0v1.0h-1.0zM143.5 730.2h1.0v1.0h-1.0zM162.3 723.5h1.0v1.0h-1.0zM138.8 735.8h1.0v1.0h-1.0zM150.8 732.4h1.0v1.0h-1.0zM148.0 734.3h1.0v1.0h-1.0zM152.0 722.7h1.0v1.0h-1.0zM134.7 733.8h1.0v1.0h-1.0zM144.0 737.6h1.0v1.0h-1.0zM144.9 727.5h1.0v1.0h-1.0zM139.8 738.4h1.0v1.0h-1.0zM135.7 736.5h1.0v1.0h-1.0zM140.4 727.1h1.0v1.0h-1.0zM148.4 730.8h1.0v1.0h-1.0zM144.2 728.2h1.0v1.0h-1.0zM132.8 736.3h1.0v1.0h-1.0zM143.1 732.8h1.0v1.0h-1.0zM144.9 738.4h1.0v1.0h-1.0zM151.4 725.0h1.0v1.0h-1.0zM137.6 742.3h1.0v1.0h-1.0zM140.1 739.6h1.0v1.0h-1.0zM154.3 723.9h1.0v1.0h-1.0zM138.4 735.6h1.0v1.0h-1.0zM131.3 735.7h1.0v1.0h-1.0zM138.5 738.5h1.0v1.0h-1.0zM136.3 735.7h1.0v1.0h-1.0zM134.2 732.5h1.0v1.0h-1.0zM150.3 719.4h1.0v1.0h-1.0zM135.7 739.0h1.0v1.0h-1.0zM129.1 743.1h1.0v1.0h-1.0zM150.6 724.9h1.0v1.0h-1.0zM140.8 729.7h1.0v1.0h-1.0zM145.5 731.5h1.0v1.0h-1.0zM144.9 736.7h1.0v1.0h-1.0zM147.2 735.3h1.0v1.0h-1.0zM144.5 727.2h1.0v1.0h-1.0zM143.9 734.0h1.0v1.0h-1.0zM129.8 745.4h1.0v1.0h-1.0zM141.9 734.6h1.0v1.0h-1.0zM132.7 738.9h1.0v1.0h-1.0zM142.9 731.4h1.0v1.0h-1.0zM137.9 727.5h1.0v1.0h-1.0zM151.2 723.6h1.0v1.0h-1.0zM119.3 742.8h1.0v1.0h-1.0zM134.0 739.9h1.0v1.0h-1.0zM132.9 739.6h1.0v1.0h-1.0zM135.7 745.3h1.0v1.0h-1.0zM148.9 736.6h1.0v1.0h-1.0zM132.6 741.2h1.0v1.0h-1.0zM133.0 740.7h1.0v1.0h-1.0zM144.2 725.8h1.0v1.0h-1.0zM128.4 736.6h1.0v1.0h-1.0zM125.8 739.8h1.0v1.0h-1.0zM129.6 734.9h1.0v1.0h-1.0zM142.5 735.0h1.0v1.0h-1.0zM127.8 739.3h1.0v1.0h-1.0zM140.3 733.3h1.0v1.0h-1.0zM135.6 740.0h1.0v1.0h-1.0zM149.5 731.4h1.0v1.0h-1.0zM142.0 740.7h1.0v1.0h-1.0zM155.8 723.6h1.0v1.0h-1.0zM141.5 738.0h1.0v1.0h-1.0zM134.0 739.3h1.0v1.0h-1.0zM139.9 731.7h1.0v1.0h-1.0zM135.9 730.7h1.0v1.0h-1.0zM132.4 731.2h1.0v1.0h-1.0zM163.8 726.2h1.0v1.0h-1.0zM152.2 728.3h1.0v1.0h-1.0zM151.8 732.3h1.0v1.0h-1.0zM151.3 731.2h1.0v1.0h-1.0zM133.0 740.0h1.0v1.0h-1.0zM133.8 733.4h1.0v1.0h-1.0zM130.9 741.2h1.0v1.0h-1.0zM147.8 724.5h1.0v1.0h-1.0zM158.8 728.9h1.0v1.0h-1.0zM136.3 734.7h1.0v1.0h-1.0zM141.5 737.2h1.0v1.0h-1.0zM135.2 732.9h1.0v1.0h-1.0zM140.2 726.3h1.0v1.0h-1.0zM143.7 736.6h1.0v1.0h-1.0zM144.6 734.6h1.0v1.0h-1.0zM146.2 733.5h1.0v1.0h-1.0zM140.4 730.9h1.0v1.0h-1.0zM138.3 735.0h1.0v1.0h-1.0zM154.6 732.0h1.0v1.0h-1.0zM143.1 729.6h1.0v1.0h-1.0zM133.6 737.3h1.0v1.0h-1.0zM153.7 727.6h1.0v1.0h-1.0zM138.7 732.1h1.0v1.0h-1.0zM149.0 730.2h1.0v1.0h-1.0zM140.2 734.6h1.0v1.0h-1.0zM155.5 724.6h1.0v1.0h-1.0zM157.9 728.6h1.0v1.0h-1.0zM142.4 736.2h1.0v1.0h-1.0zM138.0 732.3h1.0v1.0h-1.0zM136.6 732.8h1.0v1.0h-1.0zM145.2 731.3h1.0v1.0h-1.0zM147.0 733.4h1.0v1.0h-1.0zM124.4 744.0h1.0v1.0h-1.0zM132.7 738.9h1.0v1.0h-1.0zM150.0 721.9h1.0v1.0h-1.0zM142.1 732.8h1.0v1.0h-1.0zM124.4 745.9h1.0v1.0h-1.0zM140.0 732.4h1.0v1.0h-1.0zM139.3 747.0h1.0v1.0h-1.0zM133.9 731.0h1.0v1.0h-1.0zM131.4 737.9h1.0v1.0h-1.0zM136.9 735.8h1.0v1.0h-1.0zM131.9 741.1h1.0v1.0h-1.0zM133.8 732.7h1.0v1.0h-1.0zM132.5 737.2h1.0v1.0h-1.0zM149.0 730.9h1.0v1.0h-1.0zM137.5 735.8h1.0v1.0h-1.0zM145.8 738.7h1.0v1.0h-1.0zM135.7 738.6h1.0v1.0h-1.0zM145.5 727.4h1.0v1.0h-1.0zM142.5 733.5h1.0v1.0h-1.0zM137.2 738.1h1.0v1.0h-1.0zM151.7 731.8h1.0v1.0h-1.0zM139.1 735.6h1.0v1.0h-1.0zM160.0 718.4h1.0v1.0h-1.0zM144.0 735.4h1.0v1.0h-1.0zM143.0 735.1h1.0v1.0h-1.0zM143.3 735.2h1.0v1.0h-1.0zM151.8 726.6h1.0v1.0h-1.0zM142.2 732.8h1.0v1.0h-1.0zM136.8 736.1h1.0v1.0h-1.0zM131.5 742.1h1.0v1.0h-1.0zM158.8 729.9h1.0v1.0h-1.0zM150.5 724.5h1.0v1.0h-1.0zM153.1 723.9h1.0v1.0h-1.0zM143.1 739.5h1.0v1.0h-1.0zM132.2 742.1h1.0v1.0h-1.0zM142.8 732.1h1.0v1.0h-1.0zM133.3 739.8h1.0v1.0h-1.0zM138.0 739.4h1.0v1.0h-1.0zM149.3 723.6h1.0v1.0h-1.0zM135.4 735.8h1.0v1.0h-1.0zM127.9 737.1h1.0v1.0h-1.0zM141.0 732.9h1.0v1.0h-1.0zM124.6 741.2h1.0v1.0h-1.0zM143.2 727.8h1.0v1.0h-1.0zM134.8 743.4h1.0v1.0h-1.0zM149.8 722.4h1.0v1.0h-1.0zM128.9 742.2h1.0v1.0h-1.0zM129.3 739.6h1.0v1.0h-1.0zM137.3 738.0h1.0v1.0h-1.0zM113.9 741.1h1.0v1.0h-1.0zM131.1 743.4h1.0v1.0h-1.0zM136.3 729.9h1.0v1.0h-1.0zM146.1 733.4h1.0v1.0h-1.0zM137.7 734.4h1.0v1.0h-1.0zM146.5 735.1h1.0v1.0h-1.0zM142.8 734.7h1.0v1.0h-1.0zM139.4 733.2h1.0v1.0h-1.0zM132.6 739.6h1.0v1.0h-1.0zM137.4 734.9h1.0v1.0h-1.0zM149.7 730.5h1.0v1.0h-1.0zM145.8 724.9h1.0v1.0h-1.0zM144.6 729.4h1.0v1.0h-1.0zM131.8 735.8h1.0v1.0h-1.0zM152.9 729.9h1.0v1.0h-1.0zM132.1 734.6h1.0v1.0h-1.0zM139.9 732.6h1.0v1.0h-1.0zM153.1 721.1h1.0v1.0h-1.0zM123.5 743.0h1.0v1.0h-1.0zM140.8 734.3h1.0v1.0h-1.0zM150.8 735.9h1.0v1.0h-1.0zM136.5 734.3h1.0v1.0h-1.0zM124.9 744.0h1.0v1.0h-1.0zM147.8 728.7h1.0v1.0h-1.0zM151.3 727.8h1.0v1.0h-1.0zM154.8 726.9h1.0v1.0h-1.0zM129.9 737.8h1.0v1.0h-1.0zM123.7 737.2h1.0v1.0h-1.0zM144.4 735.1h1.0v1.0h-1.0zM158.1 723.5h1.0v1.0h-1.0zM136.5 732.1h1.0v1.0h-1.0zM150.1 729.9h1.0v1.0h-1.0zM136.2 739.1h1.0v1.0h-1.0zM142.5 725.7h1.0v1.0h-1.0zM147.5 730.5h1.0v1.0h-1.0zM136.3 734.9h1.0v1.0h-1.0zM158.9 729.1h1.0v1.0h-1.0zM155.2 721.1h1.0v1.0h-1.0zM136.1 740.0h1.0v1.0h-1.0zM128.3 738.3h1.0v1.0h-1.0zM127.2 748.8h1.0v1.0h-1.0zM150.9 729.7h1.0v1.0h-1.0zM141.8 731.7h1.0v1.0h-1.0zM137.9 737.9h1.0v1.0h-1.0zM136.1 741.3h1.0v1.0h-1.0zM134.6 734.1h1.0v1.0h-1.0zM152.0 726.7h1.0v1.0h-1.0zM144.8 729.9h1.0v1.0h-1.0zM121.0 747.5h1.0v1.0h-1.0zM130.1 744.2h1.0v1.0h-1.0zM123.3 736.9h1.0v1.0h-1.0zM144.0 733.6h1.0v1.0h-1.0zM139.4 730.0h1.0v1.0h-1.0zM146.1 725.1h1.0v1.0h-1.0zM135.0 734.2h1.0v1.0h-1.0zM138.5 738.4h1.0v1.0h-1.0zM135.7 739.0h1.0v1.0h-1.0zM144.0 725.4h1.0v1.0h-1.0zM129.3 739.1h1.0v1.0h-1.0zM135.6 738.0h1.0v1.0h-1.0zM124.2 746.3h1.0v1.0h-1.0zM147.0 729.6h1.0v1.0h-1.0zM128.0 741.3h1.0v1.0h-1.0zM136.6 738.5h1.0v1.0h-1.0zM140.9 736.5h1.0v1.0h-1.0zM139.0 740.4h1.0v1.0h-1.0zM117.9 743.3h1.0v1.0h-1.0zM142.4 727.1h1.0v1.0h-1.0zM145.2 726.6h1.0v1.0h-1.0zM139.8 730.9h1.0v1.0h-1.0zM136.8 736.8h1.0v1.0h-1.0zM138.9 733.5h1.0v1.0h-1.0zM160.0 722.6h1.0v1.0h-1.0zM133.2 741.8h1.0v1.0h-1.0zM150.0 733.1h1.0v1.0h-1.0zM155.2 721.9h1.0v1.0h-1.0zM152.0 731.6h1.0v1.0h-1.0zM140.9 734.7h1.0v1.0h-1.0zM153.7 719.4h1.0v1.0h-1.0zM136.1 737.7h1.0v1.0h-1.0zM148.4 735.6h1.0v1.0h-1.0zM124.6 743.5h1.0v1.0h-1.0zM146.1 725.7h1.0v1.0h-1.0zM143.3 739.6h1.0v1.0h-1.0zM153.3 728.6h1.0v1.0h-1.0zM116.6 747.5h1.0v1.0h-1.0zM143.5 731.1h1.0v1.0h-1.0zM145.0 743.1h1.0v1.0h-1.0zM136.9 732.4h1.0v1.0h-1.0zM142.2 731.8h1.0v1.0h-1.0zM137.5 735.4h1.0v1.0h-1.0zM147.9 730.6h1.0v1.0h-1.0zM129.4 740.0h1.0v1.0h-1.0zM144.0 730.2h1.0v1.0h-1.0zM152.2 730.1h1.0v1.0h-1.0zM132.0 740.2h1.0v1.0h-1.0zM161.1 728.0h1.0v1.0h-1.0zM141.5 736.9h1.0v1.0h-1.0zM132.0 733.4h1.0v1.0h-1.0zM145.9 731.8h1.0v1.0h-1.0zM145.1 731.2h1.0v1.0h-1.0zM142.6 730.8h1.0v1.0h-1.0zM146.2 733.9h1.0v1.0h-1.0zM141.3 736.6h1.0v1.0h-1.0zM123.1 741.1h1.0v1.0h-1.0zM156.5 731.4h1.0v1.0h-1.0zM142.6 732.4h1.0v1.0h-1.0zM129.6 741.7h1.0v1.0h-1.0zM145.1 725.7h1.0v1.0h-1.0zM146.4 732.4h1.0v1.0h-1.0zM142.6 728.5h1.0v1.0h-1.0zM142.9 726.9h1.0v1.0h-1.0zM154.2 726.5h1.0v1.0h-1.0zM132.2 744.0h1.0v1.0h-1.0zM149.9 726.0h1.0v1.0h-1.0zM158.8 719.5h1.0v1.0h-1.0zM145.3 735.7h1.0v1.0h-1.0zM121.6 748.9h1.0v1.0h-1.0zM139.9 734.3h1.0v1.0h-1.0zM131.3 740.6h1.0v1.0h-1.0zM128.8 737.1h1.0v1.0h-1.0zM134.4 732.9h1.0v1.0h-1.0zM152.6 721.9h1.0v1.0h-1.0zM133.1 737.1h1.0v1.0h-1.0zM141.9 736.2h1.0v1.0h-1.0zM147.4 728.8h1.0v1.0h-1.0zM137.1 736.1h1.0v1.0h-1.0zM149.1 731.6h1.0v1.0h-1.0zM132.4 730.9h1.0v1.0h-1.0zM161.5 725.4h1.0v1.0h-1.0zM143.5 733.6h1.0v1.0h-1.0zM134.1 733.9h1.0v1.0h-1.0zM137.1 735.1h1.0v1.0h-1.0zM132.4 733.2h1.0v1.0h-1.0zM138.6 737.3h1.0v1.0h-1.0zM136.0 736.7h1.0v1.0h-1.0zM121.4 744.4h1.0v1.0h-1.0zM137.4 731.1h1.0v1.0h-1.0zM125.5 744.3h1.0v1.0h-1.0zM134.0 739.7h1.0v1.0h-1.0zM137.7 738.0h1.0v1.0h-1.0zM134.9 731.5h1.0v1.0h-1.0zM139.2 733.5h1.0v1.0h-1.0zM145.7 729.2h1.0v1.0h-1.0zM138.4 738.5h1.0v1.0h-1.0zM152.3 730.0h1.0v1.0h-1.0zM150.7 729.8h1.0v1.0h-1.0zM148.9 732.4h1.0v1.0h-1.0zM144.3 732.0h1.0v1.0h-1.0zM145.8 740.1h1.0v1.0h-1.0zM140.2 733.3h1.0v1.0h-1.0zM137.1 735.8h1.0v1.0h-1.0zM140.8 729.5h1.0v1.0h-1.0zM123.0 745.3h1.0v1.0h-1.0zM126.4 743.2h1.0v1.0h-1.0zM143.7 736.5h1.0v1.0h-1.0zM156.3 726.2h1.0v1.0h-1.0zM133.5 733.6h1.0v1.0h-1.0zM133.4 738.3h1.0v1.0h-1.0zM121.9 745.2h1.0v1.0h-1.0zM141.5 735.9h1.0v1.0h-1.0zM137.6 736.1h1.0v1.0h-1.0zM133.1 736.6h1.0v1.0h-1.0zM124.6 743.7h1.0v1.0h-1.0zM154.8 726.3h1.0v1.0h-1.0zM142.2 729.3h1.0v1.0h-1.0zM152.2 724.2h1.0v1.0h-1.0zM148.0 730.1h1.0v1.0h-1.0zM133.5 742.0h1.0v1.0h-1.0zM140.9 734.4h1.0v1.0h-1.0zM144.6 731.5h1.0v1.0h-1.0zM137.8 737.3h1.0v1.0h-1.0zM136.9 736.3h1.0v1.0h-1.0zM132.0 733.3h1.0v1.0h-1.0zM133.6 736.2h1.0v1.0h-1.0zM142.6 737.3h1.0v1.0h-1.0zM125.4 743.3h1.0v1.0h-1.0zM118.7 742.7h1.0v1.0h-1.0zM132.2 730.3h1.0v1.0h-1.0zM123.9 744.3h1.0v1.0h-1.0zM141.0 733.3h1.0v1.0h-1.0zM136.8 744.4h1.0v1.0h-1.0zM137.6 732.4h1.0v1.0h-1.0zM156.7 726.9h1.0v1.0h-1.0zM139.1 739.4h1.0v1.0h-1.0zM143.0 735.0h1.0v1.0h-1.0zM140.9 729.8h1.0v1.0h-1.0zM149.6 729.3h1.0v1.0h-1.0zM130.1 737.2h1.0v1.0h-1.0zM148.6 727.9h1.0v1.0h-1.0zM142.0 735.6h1.0v1.0h-1.0zM139.1 729.0h1.0v1.0h-1.0zM147.8 733.3h1.0v1.0h-1.0zM151.1 734.0h1.0v1.0h-1.0zM145.1 734.3h1.0v1.0h-1.0zM154.4 724.8h1.0v1.0h-1.0zM159.1 729.8h1.0v1.0h-1.0zM150.7 735.1h1.0v1.0h-1.0zM146.8 727.0h1.0v1.0h-1.0zM151.4 728.9h1.0v1.0h-1.0zM144.5 732.3h1.0v1.0h-1.0zM153.8 728.4h1.0v1.0h-1.0zM135.0 739.1h1.0v1.0h-1.0zM145.9 728.1h1.0v1.0h-1.0zM135.9 735.2h1.0v1.0h-1.0zM135.6 738.2h1.0v1.0h-1.0zM152.9 734.0h1.0v1.0h-1.0zM153.0 730.6h1.0v1.0h-1.0zM153.1 731.8h1.0v1.0h-1.0zM138.2 738.0h1.0v1.0h-1.0zM143.2 731.9h1.0v1.0h-1.0zM135.5 735.0h1.0v1.0h-1.0zM136.0 731.9h1.0v1.0h-1.0zM145.2 731.2h1.0v1.0h-1.0zM142.0 734.4h1.0v1.0h-1.0zM146.1 728.5h1.0v1.0h-1.0zM136.9 730.0h1.0v1.0h-1.0zM117.1 740.2h1.0v1.0h-1.0zM151.4 720.7h1.0v1.0h-1.0zM147.2 735.7h1.0v1.0h-1.0zM139.1 741.1h1.0v1.0h-1.0zM158.8 726.9h1.0v1.0h-1.0zM163.1 723.2h1.0v1.0h-1.0zM134.8 739.3h1.0v1.0h-1.0zM134.3 732.6h1.0v1.0h-1.0zM132.8 747.3h1.0v1.0h-1.0zM135.6 736.8h1.0v1.0h-1.0zM134.8 737.9h1.0v1.0h-1.0zM137.7 734.1h1.0v1.0h-1.0zM127.3 736.4h1.0v1.0h-1.0zM134.4 738.7h1.0v1.0h-1.0zM161.2 726.0h1.0v1.0h-1.0zM158.0 725.7h1.0v1.0h-1.0zM137.7 730.6h1.0v1.0h-1.0zM137.1 727.8h1.0v1.0h-1.0zM140.7 740.2h1.0v1.0h-1.0zM145.6 735.4h1.0v1.0h-1.0zM134.9 732.1h1.0v1.0h-1.0zM135.7 735.4h1.0v1.0h-1.0zM154.9 733.2h1.0v1.0h-1.0zM133.4 736.8h1.0v1.0h-1.0zM138.8 733.7h1.0v1.0h-1.0zM129.6 740.8h1.0v1.0h-1.0zM144.7 733.1h1.0v1.0h-1.0zM129.6 740.0h1.0v1.0h-1.0zM126.5 745.8h1.0v1.0h-1.0zM131.1 738.6h1.0v1.0h-1.0zM135.7 734.6h1.0v1.0h-1.0zM128.2 734.5h1.0v1.0h-1.0zM157.0 725.5h1.0v1.0h-1.0zM146.7 738.5h1.0v1.0h-1.0zM140.8 736.0h1.0v1.0h-1.0zM143.0 737.2h1.0v1.0h-1.0zM145.9 732.2h1.0v1.0h-1.0zM139.0 736.1h1.0v1.0h-1.0zM147.9 721.8h1.0v1.0h-1.0zM139.0 733.4h1.0v1.0h-1.0zM134.8 729.9h1.0v1.0h-1.0zM146.1 727.6h1.0v1.0h-1.0zM138.0 733.7h1.0v1.0h-1.0zM125.0 741.5h1.0v1.0h-1.0zM122.6 741.0h1.0v1.0h-1.0zM138.0 735.6h1.0v1.0h-1.0zM141.1 733.2h1.0v1.0h-1.0zM161.0 723.8h1.0v1.0h-1.0zM128.8 738.6h1.0v1.0h-1.0zM134.6 736.9h1.0v1.0h-1.0zM134.0 734.7h1.0v1.0h-1.0zM155.9 725.3h1.0v1.0h-1.0zM137.4 735.0h1.0v1.0h-1.0zM141.2 739.0h1.0v1.0h-1.0zM147.1 734.6h1.0v1.0h-1.0zM113.1 751.3h1.0v1.0h-1.0zM153.8 733.9h1.0v1.0h-1.0zM138.3 728.9h1.0v1.0h-1.0zM145.2 729.1h1.0v1.0h-1.0zM123.6 741.6h1.0v1.0h-1.0zM152.5 731.8h1.0v1.0h-1.0zM145.7 727.1h1.0v1.0h-1.0zM161.8 717.3h1.0v1.0h-1.0zM137.8 730.2h1.0v1.0h-1.0zM153.6 728.2h1.0v1.0h-1.0zM149.1 729.5h1.0v1.0h-1.0zM140.6 734.8h1.0v1.0h-1.0zM125.4 746.7h1.0v1.0h-1.0zM148.6 728.0h1.0v1.0h-1.0zM141.3 734.8h1.0v1.0h-1.0zM155.9 726.8h1.0v1.0h-1.0zM140.5 732.2h1.0v1.0h-1.0zM126.3 740.2h1.0v1.0h-1.0zM141.2 732.8h1.0v1.0h-1.0zM142.9 735.6h1.0v1.0h-1.0zM145.4 732.4h1.0v1.0h-1.0zM147.2 731.0h1.0v1.0h-1.0zM141.5 735.4h1.0v1.0h-1.0zM127.4 746.6h1.0v1.0h-1.0zM130.7 743.1h1.0v1.0h-1.0zM143.0 737.0h1.0v1.0h-1.0zM139.8 731.0h1.0v1.0h-1.0zM151.1 728.7h1.0v1.0h-1.0zM142.2 733.5h1.0v1.0h-1.0zM151.5 730.9h1.0v1.0h-1.0zM140.5 728.2h1.0v1.0h-1.0zM137.6 736.3h1.0v1.0h-1.0zM158.0 725.5h1.0v1.0h-1.0zM142.2 737.8h1.0v1.0h-1.0zM140.0 734.4h1.0v1.0h-1.0zM140.0 728.8h1.0v1.0h-1.0zM150.5 730.0h1.0v1.0h-1.0zM136.6 732.1h1.0v1.0h-1.0zM145.4 736.7h1.0v1.0h-1.0zM133.5 734.2h1.0v1.0h-1.0zM142.2 727.1h1.0v1.0h-1.0zM120.2 744.4h1.0v1.0h-1.0zM134.4 736.7h1.0v1.0h-1.0zM136.7 737.7h1.0v1.0h-1.0zM138.1 733.3h1.0v1.0h-1.0zM138.0 738.1h1.0v1.0h-1.0zM151.3 731.4h1.0v1.0h-1.0zM142.0 720.8h1.0v1.0h-1.0zM131.5 738.3h1.0v1.0h-1.0zM140.3 728.2h1.0v1.0h-1.0zM154.5 727.2h1.0v1.0h-1.0zM135.8 737.6h1.0v1.0h-1.0zM136.7 733.5h1.0v1.0h-1.0zM145.0 729.9h1.0v1.0h-1.0zM127.3 739.5h1.0v1.0h-1.0zM138.3 731.4h1.0v1.0h-1.0zM150.8 724.1h1.0v1.0h-1.0zM158.6 727.1h1.0v1.0h-1.0zM132.8 739.2h1.0v1.0h-1.0zM151.6 727.0h1.0v1.0h-1.0zM130.5 740.5h1.0v1.0h-1.0zM156.8 719.1h1.0v1.0h-1.0zM146.2 730.9h1.0v1.0h-1.0zM139.5 733.4h1.0v1.0h-1.0zM140.0 738.5h1.0v1.0h-1.0zM145.0 727.8h1.0v1.0h-1.0zM153.2 721.9h1.0v1.0h-1.0zM147.6 730.9h1.0v1.0h-1.0z" fill="#1a1a1a" fill-opacity="0.8"/><path d="M120.8 720.5h1.0v1.0h-1.0zM142.5 700.2h1.0v1.0h-1.0zM172.2 745.3h1.0v1.0h-1.0zM120.6 727.1h1.0v1.0h-1.0zM133.3 710.1h1.0v1.0h-1.0zM131.0 702.2h1.0v1.0h-1.0zM155.8 717.8h1.0v1.0h-1.0zM156.5 740.3h1.0v1.0h-1.0zM148.9 716.7h1.0v1.0h-1.0zM122.9 732.1h1.0v1.0h-1.0z" fill="#222" fill-opacity="0.5"/>
<rect x="1" y="1" width="518" height="1028" fill="none" stroke="#000" stroke-width="2"/>
</svg>
</body></html>
